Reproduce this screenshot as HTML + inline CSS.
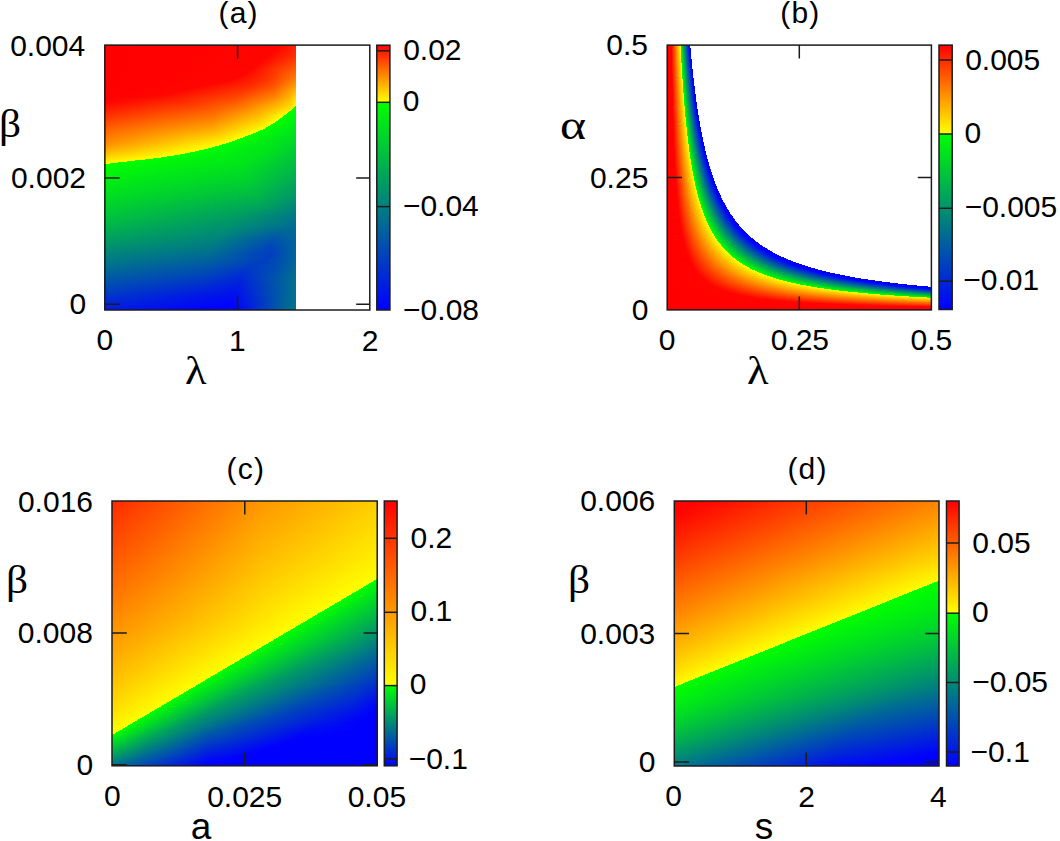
<!DOCTYPE html><html><head><meta charset="utf-8"><style>
*{margin:0;padding:0}
html,body{width:1060px;height:841px;background:#fff;overflow:hidden}
.hm{position:absolute;display:flex;flex-direction:column}
.hm i{display:block;width:100%;flex:none}
.cb{position:absolute}
.ov{position:absolute;left:0;top:0}
.t{position:absolute;line-height:1;white-space:nowrap;color:#000}
</style></head><body>
<div class="hm" style="left:104px;top:45px;width:266px;height:265px">
<i style="height:1px;background:linear-gradient(90deg,#f00 0.5px,#ff0300 175.5px,#ff2300 191.5px,#fff 192.5px,#fff 265.5px)"></i>
<i style="height:1px;background:linear-gradient(90deg,#f00 0.5px,#ff0300 174.5px,#ff2400 191.5px,#fff 192.5px,#fff 265.5px)"></i>
<i style="height:1px;background:linear-gradient(90deg,#f00 0.5px,#ff0400 173.5px,#ff2400 191.5px,#fff 192.5px,#fff 265.5px)"></i>
<i style="height:1px;background:linear-gradient(90deg,#f00 0.5px,#ff0400 172.5px,#ff2500 191.5px,#fff 192.5px,#fff 265.5px)"></i>
<i style="height:1px;background:linear-gradient(90deg,#f00 0.5px,#ff0400 171.5px,#ff2500 191.5px,#fff 192.5px,#fff 265.5px)"></i>
<i style="height:1px;background:linear-gradient(90deg,#f00 0.5px,#ff0500 170.5px,#ff2600 191.5px,#fff 192.5px,#fff 265.5px)"></i>
<i style="height:1px;background:linear-gradient(90deg,#f00 0.5px,#ff0500 169.5px,#ff2700 191.5px,#fff 192.5px,#fff 265.5px)"></i>
<i style="height:1px;background:linear-gradient(90deg,#f00 0.5px,#ff0400 167.5px,#ff2900 191.5px,#fff 192.5px,#fff 265.5px)"></i>
<i style="height:1px;background:linear-gradient(90deg,#f00 0.5px,#ff0400 166.5px,#ff2b00 191.5px,#fff 192.5px,#fff 265.5px)"></i>
<i style="height:1px;background:linear-gradient(90deg,#f00 0.5px,#ff0500 165.5px,#ff2d00 191.5px,#fff 192.5px,#fff 265.5px)"></i>
<i style="height:1px;background:linear-gradient(90deg,#f00 0.5px,#ff0400 163.5px,#ff2f00 191.5px,#fff 192.5px,#fff 265.5px)"></i>
<i style="height:1px;background:linear-gradient(90deg,#f00 0.5px,#ff0400 162.5px,#ff3200 191.5px,#fff 192.5px,#fff 265.5px)"></i>
<i style="height:1px;background:linear-gradient(90deg,#f00 0.5px,#ff0500 161.5px,#ff3500 191.5px,#fff 192.5px,#fff 265.5px)"></i>
<i style="height:1px;background:linear-gradient(90deg,#f00 0.5px,#ff0500 160.5px,#ff3800 191.5px,#fff 192.5px,#fff 265.5px)"></i>
<i style="height:1px;background:linear-gradient(90deg,#f00 0.5px,#ff0400 158.5px,#ff3b00 191.5px,#fff 192.5px,#fff 265.5px)"></i>
<i style="height:1px;background:linear-gradient(90deg,#f00 0.5px,#ff0400 157.5px,#ff3e00 191.5px,#fff 192.5px,#fff 265.5px)"></i>
<i style="height:1px;background:linear-gradient(90deg,#f00 0.5px,#ff0400 156.5px,#ff3b00 187.5px,#ff4100 191.5px,#fff 192.5px,#fff 265.5px)"></i>
<i style="height:1px;background:linear-gradient(90deg,#f00 0.5px,#ff0500 155.5px,#ff3c00 186.5px,#ff4500 191.5px,#fff 192.5px,#fff 265.5px)"></i>
<i style="height:1px;background:linear-gradient(90deg,#f00 0.5px,#ff0500 154.5px,#ff3e00 185.5px,#ff4800 191.5px,#fff 192.5px,#fff 265.5px)"></i>
<i style="height:1px;background:linear-gradient(90deg,#f00 0.5px,#ff0500 153.5px,#ff4000 184.5px,#ff4b00 191.5px,#fff 192.5px,#fff 265.5px)"></i>
<i style="height:1px;background:linear-gradient(90deg,#f00 0.5px,#ff0400 151.5px,#ff4300 184.5px,#ff4f00 191.5px,#fff 192.5px,#fff 265.5px)"></i>
<i style="height:1px;background:linear-gradient(90deg,#f00 0.5px,#ff0400 150.5px,#ff4700 184.5px,#ff5200 191.5px,#fff 192.5px,#fff 265.5px)"></i>
<i style="height:1px;background:linear-gradient(90deg,#f00 0.5px,#ff0400 149.5px,#ff3b00 174.5px,#ff5600 191.5px,#fff 192.5px,#fff 265.5px)"></i>
<i style="height:1px;background:linear-gradient(90deg,#f00 0.5px,#ff0500 148.5px,#ff3500 171.5px,#ff5900 191.5px,#fff 192.5px,#fff 265.5px)"></i>
<i style="height:1px;background:linear-gradient(90deg,#f00 0.5px,#ff0500 147.5px,#ff3500 170.5px,#ff5d00 191.5px,#fff 192.5px,#fff 265.5px)"></i>
<i style="height:1px;background:linear-gradient(90deg,#f00 0.5px,#ff0400 145.5px,#ff3100 168.5px,#ff5100 183.5px,#ff6000 191.5px,#fff 192.5px,#fff 265.5px)"></i>
<i style="height:1px;background:linear-gradient(90deg,#f00 0.5px,#ff0400 144.5px,#ff3200 168.5px,#ff5600 184.5px,#ff6400 191.5px,#fff 192.5px,#fff 265.5px)"></i>
<i style="height:1px;background:linear-gradient(90deg,#f00 0.5px,#ff0500 143.5px,#ff3100 167.5px,#ff5a00 185.5px,#ff6700 191.5px,#fff 192.5px,#fff 265.5px)"></i>
<i style="height:1px;background:linear-gradient(90deg,#f00 0.5px,#ff0400 141.5px,#f30 167.5px,#ff6b00 191.5px,#fff 192.5px,#fff 265.5px)"></i>
<i style="height:1px;background:linear-gradient(90deg,#f00 0.5px,#ff0500 140.5px,#ff3400 167.5px,#ff6e00 191.5px,#fff 192.5px,#fff 265.5px)"></i>
<i style="height:1px;background:linear-gradient(90deg,#f00 0.5px,#ff0500 138.5px,#f30 166.5px,#ff7200 191.5px,#fff 192.5px,#fff 265.5px)"></i>
<i style="height:1px;background:linear-gradient(90deg,#f00 0.5px,#ff0500 136.5px,#ff3400 166.5px,#ff7500 191.5px,#fff 192.5px,#fff 265.5px)"></i>
<i style="height:1px;background:linear-gradient(90deg,#f00 0.5px,#ff0500 134.5px,#ff3600 166.5px,#ff7900 191.5px,#fff 192.5px,#fff 265.5px)"></i>
<i style="height:1px;background:linear-gradient(90deg,#f00 0.5px,#ff0500 131.5px,#ff3700 166.5px,#ff7d00 191.5px,#fff 192.5px,#fff 265.5px)"></i>
<i style="height:1px;background:linear-gradient(90deg,#f00 0.5px,#ff0500 128.5px,#ff3700 165.5px,#ff8000 191.5px,#fff 192.5px,#fff 265.5px)"></i>
<i style="height:1px;background:linear-gradient(90deg,#f00 0.5px,#ff0500 124.5px,#ff3100 161.5px,#ff8400 191.5px,#fff 192.5px,#fff 265.5px)"></i>
<i style="height:1px;background:linear-gradient(90deg,#f00 0.5px,#ff0500 120.5px,#ff2900 154.5px,#ff4900 170.5px,#f80 191.5px,#fff 192.5px,#fff 265.5px)"></i>
<i style="height:1px;background:linear-gradient(90deg,#f00 0.5px,#ff0500 115.5px,#ff2500 149.5px,#ff4900 169.5px,#ff8d00 191.5px,#fff 192.5px,#fff 265.5px)"></i>
<i style="height:1px;background:linear-gradient(90deg,#f00 0.5px,#ff0500 111.5px,#ff2500 147.5px,#ff4b00 169.5px,#ff9100 191.5px,#fff 192.5px,#fff 265.5px)"></i>
<i style="height:1px;background:linear-gradient(90deg,#f00 0.5px,#ff0500 106.5px,#ff2700 146.5px,#ff4e00 169.5px,#ff9600 191.5px,#fff 192.5px,#fff 265.5px)"></i>
<i style="height:1px;background:linear-gradient(90deg,#f00 0.5px,#ff0500 101.5px,#ff2800 144.5px,#ff5100 169.5px,#ff9b00 191.5px,#fff 192.5px,#fff 265.5px)"></i>
<i style="height:1px;background:linear-gradient(90deg,#f00 0.5px,#ff0500 96.5px,#ff2a00 143.5px,#f50 169.5px,#ffa000 191.5px,#fff 192.5px,#fff 265.5px)"></i>
<i style="height:1px;background:linear-gradient(90deg,#f00 0.5px,#ff0500 91.5px,#ff2e00 143.5px,#ff5900 169.5px,#ffa500 191.5px,#fff 192.5px,#fff 265.5px)"></i>
<i style="height:1px;background:linear-gradient(90deg,#f00 0.5px,#ff0500 86.5px,#ff3000 142.5px,#ff5c00 169.5px,#ffa500 190.5px,#fa0 191.5px,#fff 192.5px,#fff 265.5px)"></i>
<i style="height:1px;background:linear-gradient(90deg,#f00 0.5px,#ff0600 82.5px,#ff3200 141.5px,#ff6000 169.5px,#ffa600 189.5px,#ffaf00 191.5px,#fff 192.5px,#fff 265.5px)"></i>
<i style="height:1px;background:linear-gradient(90deg,#f00 0.5px,#ff0500 77.5px,#ff3500 140.5px,#ff6400 169.5px,#ffa600 188.5px,#ffb400 191.5px,#fff 192.5px,#fff 265.5px)"></i>
<i style="height:1px;background:linear-gradient(90deg,#f00 0.5px,#ff0600 73.5px,#ff3800 139.5px,#ff6900 169.5px,#ffa600 187.5px,#ffba00 191.5px,#fff 192.5px,#fff 265.5px)"></i>
<i style="height:1px;background:linear-gradient(90deg,#f00 0.5px,#ff0500 68.5px,#ff3b00 138.5px,#ff6d00 169.5px,#ffa600 186.5px,#ffbf00 191.5px,#fff 192.5px,#fff 265.5px)"></i>
<i style="height:1px;background:linear-gradient(90deg,#f00 0.5px,#ff0600 64.5px,#ff3c00 136.5px,#ff7100 169.5px,#fa0 186.5px,#ffc400 191.5px,#fff 192.5px,#fff 265.5px)"></i>
<i style="height:1px;background:linear-gradient(90deg,#f00 0.5px,#ff0500 59.5px,#ff3f00 135.5px,#ff7600 169.5px,#ffae00 186.5px,#ffc900 191.5px,#fff 192.5px,#fff 265.5px)"></i>
<i style="height:1px;background:linear-gradient(90deg,#f00 0.5px,#ff0600 55.5px,#ff4200 134.5px,#ff7b00 169.5px,#ffae00 185.5px,#ffce00 191.5px,#fff 192.5px,#fff 265.5px)"></i>
<i style="height:1px;background:linear-gradient(90deg,#f00 0.5px,#ff0700 51.5px,#ff4300 132.5px,#ff7f00 169.5px,#ffb200 185.5px,#ffd300 191.5px,#fff 192.5px,#fff 265.5px)"></i>
<i style="height:1px;background:linear-gradient(90deg,#f00 0.5px,#ff0900 49.5px,#ff4600 131.5px,#ff8400 169.5px,#ffb500 185.5px,#ffd800 191.5px,#fff 192.5px,#fff 265.5px)"></i>
<i style="height:1px;background:linear-gradient(90deg,#f00 0.5px,#ff0e00 52.5px,#ff4900 130.5px,#ff8900 169.5px,#ffb900 185.5px,#fd0 191.5px,#fff 192.5px,#fff 265.5px)"></i>
<i style="height:1px;background:linear-gradient(90deg,#f00 0.5px,#ff1a00 65.5px,#ff4e00 131.5px,#ff8e00 169.5px,#ffbc00 185.5px,#ffe200 191.5px,#fff 192.5px,#fff 265.5px)"></i>
<i style="height:1px;background:linear-gradient(90deg,#f00 0.5px,#ff2300 74.5px,#ff5200 131.5px,#ff9300 169.5px,#ffc000 185.5px,#ffe700 191.5px,#fff 192.5px,#fff 265.5px)"></i>
<i style="height:1px;background:linear-gradient(90deg,#ff0100 0.5px,#ff2c00 83.5px,#ff5800 132.5px,#ff9a00 170.5px,#ffc800 186.5px,#ffeb00 191.5px,#fff 192.5px,#fff 265.5px)"></i>
<i style="height:1px;background:linear-gradient(90deg,#ff0400 0.5px,#ff3100 85.5px,#ff5c00 132.5px,#ffa000 170.5px,#ffcb00 186.5px,#ffef00 191.5px,#fff 192.5px,#fff 265.5px)"></i>
<i style="height:1px;background:linear-gradient(90deg,#ff0700 0.5px,#ff3700 88.5px,#ff6000 132.5px,#ffa500 170.5px,#ffd200 187.5px,#fff200 191.5px,#fff 192.5px,#fff 265.5px)"></i>
<i style="height:1px;background:linear-gradient(90deg,#ff0a00 0.5px,#ff3c00 90.5px,#ff6500 132.5px,#fa0 170.5px,#ffd500 187.5px,#fff600 191.5px,#fff 192.5px,#fff 265.5px)"></i>
<i style="height:1px;background:linear-gradient(90deg,#ff0e00 0.5px,#ff4100 93.5px,#ff6a00 133.5px,#ffaf00 170.5px,#fd0 188.5px,#fff700 191.5px,#fff 192.5px,#fff 265.5px)"></i>
<i style="height:1px;background:linear-gradient(90deg,#f10 0.5px,#ff4800 97.5px,#ff7200 135.5px,#ffb400 170.5px,#ffe000 188.5px,#ffed00 190.5px,#00fe01 191.5px,#fff 192.5px,#fff 265.5px)"></i>
<i style="height:1px;background:linear-gradient(90deg,#ff1400 0.5px,#ff4d00 100.5px,#ff7a00 137.5px,#ffb900 170.5px,#ffe400 188.5px,#ffea00 189.5px,#00fe01 190.5px,#00fe01 191.5px,#fff 192.5px,#fff 265.5px)"></i>
<i style="height:1px;background:linear-gradient(90deg,#ff1700 0.5px,#ff5300 103.5px,#ff8100 139.5px,#ffbe00 170.5px,#ffea00 188.5px,#00fe01 189.5px,#00fd02 191.5px,#fff 192.5px,#fff 265.5px)"></i>
<i style="height:1px;background:linear-gradient(90deg,#ff1b00 0.5px,#ff5900 105.5px,#ff8b00 142.5px,#ffc300 170.5px,#ffec00 187.5px,#00fe01 188.5px,#00fc03 191.5px,#fff 192.5px,#fff 265.5px)"></i>
<i style="height:1px;background:linear-gradient(90deg,#ff1e00 0.5px,#ff5e00 107.5px,#ff9400 145.5px,#ffcb00 171.5px,#ffef00 186.5px,#00fe01 187.5px,#00fb04 191.5px,#fff 192.5px,#fff 265.5px)"></i>
<i style="height:1px;background:linear-gradient(90deg,#f20 0.5px,#ff6300 108.5px,#ff9f00 149.5px,#ffd900 174.5px,#fff000 184.5px,#0f0 185.5px,#00fa05 191.5px,#fff 192.5px,#fff 265.5px)"></i>
<i style="height:1px;background:linear-gradient(90deg,#ff2500 0.5px,#ff6800 109.5px,#ffab00 153.5px,#fff400 183.5px,#0f0 184.5px,#00f906 191.5px,#fff 192.5px,#fff 265.5px)"></i>
<i style="height:1px;background:linear-gradient(90deg,#ff2900 0.5px,#ff6d00 110.5px,#ffb300 155.5px,#fff900 182.5px,#00fe01 183.5px,#00f807 191.5px,#fff 192.5px,#fff 265.5px)"></i>
<i style="height:1px;background:linear-gradient(90deg,#ff2c00 0.5px,#ff7000 110.5px,#ffb900 156.5px,#fffd00 181.5px,#00fe01 182.5px,#00f708 191.5px,#fff 192.5px,#fff 265.5px)"></i>
<i style="height:1px;background:linear-gradient(90deg,#ff3000 0.5px,#ff7300 109.5px,#ffb900 154.5px,#fffa00 178.5px,#fffd00 179.5px,#0f0 180.5px,#00f609 191.5px,#fff 192.5px,#fff 265.5px)"></i>
<i style="height:1px;background:linear-gradient(90deg,#f30 0.5px,#f70 109.5px,#ffc000 155.5px,#ff0 178.5px,#0f0 179.5px,#00f50a 191.5px,#fff 192.5px,#fff 265.5px)"></i>
<i style="height:1px;background:linear-gradient(90deg,#ff3700 0.5px,#ff7b00 109.5px,#ffc400 155.5px,#ff0 177.5px,#00fe01 178.5px,#00f40b 191.5px,#fff 192.5px,#fff 265.5px)"></i>
<i style="height:1px;background:linear-gradient(90deg,#ff3b00 0.5px,#ff7f00 109.5px,#ffc800 155.5px,#ff0 175.5px,#0f0 176.5px,#00f30c 191.5px,#fff 192.5px,#fff 265.5px)"></i>
<i style="height:1px;background:linear-gradient(90deg,#ff3e00 0.5px,#ff8300 109.5px,#fc0 155.5px,#ff0 174.5px,#0f0 175.5px,#00f20d 191.5px,#fff 192.5px,#fff 265.5px)"></i>
<i style="height:1px;background:linear-gradient(90deg,#ff4200 0.5px,#ff8600 108.5px,#ffcf00 154.5px,#ff0 173.5px,#00fe01 174.5px,#00f10e 191.5px,#fff 192.5px,#fff 265.5px)"></i>
<i style="height:1px;background:linear-gradient(90deg,#ff4600 0.5px,#ff8a00 108.5px,#ffd300 154.5px,#ff0 171.5px,#0f0 172.5px,#00f00f 191.5px,#fff 192.5px,#fff 265.5px)"></i>
<i style="height:1px;background:linear-gradient(90deg,#ff4900 0.5px,#ff8e00 108.5px,#ffda00 155.5px,#ff0 170.5px,#00fe01 171.5px,#00ef10 191.5px,#fff 192.5px,#fff 265.5px)"></i>
<i style="height:1px;background:linear-gradient(90deg,#ff4d00 0.5px,#ff9200 108.5px,#ffde00 155.5px,#fffe00 168.5px,#0f0 169.5px,#00ed12 191.5px,#fff 192.5px,#fff 265.5px)"></i>
<i style="height:1px;background:linear-gradient(90deg,#ff5000 0.5px,#ff9600 108.5px,#ffe200 155.5px,#fffc00 166.5px,#0f0 167.5px,#00ec13 191.5px,#fff 192.5px,#fff 265.5px)"></i>
<i style="height:1px;background:linear-gradient(90deg,#ff5400 0.5px,#ff9b00 108.5px,#ffe500 154.5px,#fffe00 165.5px,#0f0 166.5px,#00eb14 191.5px,#fff 192.5px,#fff 265.5px)"></i>
<i style="height:1px;background:linear-gradient(90deg,#ff5700 0.5px,#ff9f00 108.5px,#ffe900 154.5px,#fffd00 163.5px,#0f0 164.5px,#00ea15 191.5px,#fff 192.5px,#fff 265.5px)"></i>
<i style="height:1px;background:linear-gradient(90deg,#ff5b00 0.5px,#ffa300 108.5px,#fe0 154.5px,#fffd00 161.5px,#0f0 162.5px,#00e916 191.5px,#fff 192.5px,#fff 265.5px)"></i>
<i style="height:1px;background:linear-gradient(90deg,#ff5e00 0.5px,#ffa700 108.5px,#fff200 154.5px,#ff0 160.5px,#00fe01 161.5px,#00e817 191.5px,#fff 192.5px,#fff 265.5px)"></i>
<i style="height:1px;background:linear-gradient(90deg,#ff6200 0.5px,#ffac00 108.5px,#fff700 154.5px,#ff0 158.5px,#00fe01 159.5px,#00e619 191.5px,#fff 192.5px,#fff 265.5px)"></i>
<i style="height:1px;background:linear-gradient(90deg,#ff6500 0.5px,#ffb000 108.5px,#fffa00 153.5px,#fffe00 155.5px,#0f0 156.5px,#00e51a 191.5px,#fff 192.5px,#fff 265.5px)"></i>
<i style="height:1px;background:linear-gradient(90deg,#ff6800 0.5px,#ffb600 109.5px,#fffe00 153.5px,#0f0 154.5px,#00e41b 191.5px,#fff 192.5px,#fff 265.5px)"></i>
<i style="height:1px;background:linear-gradient(90deg,#ff6b00 0.5px,#ffba00 109.5px,#ff0 151.5px,#00fe01 152.5px,#00e31c 191.5px,#fff 192.5px,#fff 265.5px)"></i>
<i style="height:1px;background:linear-gradient(90deg,#ff6d00 0.5px,#ffc000 110.5px,#fffe00 148.5px,#0f0 149.5px,#00e21d 191.5px,#fff 192.5px,#fff 265.5px)"></i>
<i style="height:1px;background:linear-gradient(90deg,#ff7000 0.5px,#ffc600 111.5px,#ff0 146.5px,#0f0 147.5px,#00e01f 191.5px,#fff 192.5px,#fff 265.5px)"></i>
<i style="height:1px;background:linear-gradient(90deg,#ff7300 0.5px,#ffcb00 111.5px,#fffe00 143.5px,#0f0 144.5px,#00df20 191.5px,#fff 192.5px,#fff 265.5px)"></i>
<i style="height:1px;background:linear-gradient(90deg,#ff7600 0.5px,#ffd100 112.5px,#fffd00 140.5px,#0f0 141.5px,#00de21 191.5px,#fff 192.5px,#fff 265.5px)"></i>
<i style="height:1px;background:linear-gradient(90deg,#ff7900 0.5px,#ffd500 112.5px,#fffe00 138.5px,#0f0 139.5px,#00dc23 191.5px,#fff 192.5px,#fff 265.5px)"></i>
<i style="height:1px;background:linear-gradient(90deg,#ff7c00 0.5px,#ffdb00 113.5px,#fffd00 135.5px,#0f0 136.5px,#00db24 191.5px,#fff 192.5px,#fff 265.5px)"></i>
<i style="height:1px;background:linear-gradient(90deg,#ff7f00 0.5px,#ffe000 113.5px,#fffd00 132.5px,#0f0 133.5px,#00da25 191.5px,#fff 192.5px,#fff 265.5px)"></i>
<i style="height:1px;background:linear-gradient(90deg,#ff8200 0.5px,#ffe600 114.5px,#fffe00 130.5px,#0f0 131.5px,#00da25 189.5px,#00d827 191.5px,#fff 192.5px,#fff 265.5px)"></i>
<i style="height:1px;background:linear-gradient(90deg,#ff8500 0.5px,#ffeb00 114.5px,#fffe00 127.5px,#0f0 128.5px,#0d2 184.5px,#00d728 191.5px,#fff 192.5px,#fff 265.5px)"></i>
<i style="height:1px;background:linear-gradient(90deg,#ff8900 0.5px,#ffdb00 96.5px,#ff0 124.5px,#0f0 125.5px,#00de21 181.5px,#00d629 191.5px,#fff 192.5px,#fff 265.5px)"></i>
<i style="height:1px;background:linear-gradient(90deg,#ff8c00 0.5px,#ffb400 45.5px,#fff600 115.5px,#ff0 121.5px,#0f0 122.5px,#00df20 179.5px,#00d52a 191.5px,#fff 192.5px,#fff 265.5px)"></i>
<i style="height:1px;background:linear-gradient(90deg,#ff9000 0.5px,#ffb700 42.5px,#fffb00 115.5px,#fffe00 117.5px,#0f0 118.5px,#00e01f 176.5px,#00d32c 191.5px,#fff 192.5px,#fff 265.5px)"></i>
<i style="height:1px;background:linear-gradient(90deg,#ff9400 0.5px,#fb0 41.5px,#fffe00 114.5px,#0f0 115.5px,#00e11e 174.5px,#00d22d 191.5px,#fff 192.5px,#fff 265.5px)"></i>
<i style="height:1px;background:linear-gradient(90deg,#ff9800 0.5px,#ffbf00 41.5px,#fffd00 110.5px,#0f0 111.5px,#00e11e 172.5px,#00d12e 191.5px,#fff 192.5px,#fff 265.5px)"></i>
<i style="height:1px;background:linear-gradient(90deg,#ff9d00 0.5px,#ffc400 41.5px,#fffe00 107.5px,#0f0 108.5px,#00e11e 171.5px,#00cf30 191.5px,#fff 192.5px,#fff 265.5px)"></i>
<i style="height:1px;background:linear-gradient(90deg,#ffa200 0.5px,#ffc800 41.5px,#fffe00 103.5px,#0f0 104.5px,#00e21d 169.5px,#00ce31 191.5px,#fff 192.5px,#fff 265.5px)"></i>
<i style="height:1px;background:linear-gradient(90deg,#ffa800 0.5px,#ffce00 42.5px,#fffe00 99.5px,#0f0 100.5px,#00e21d 167.5px,#00cd32 191.5px,#fff 192.5px,#fff 265.5px)"></i>
<i style="height:1px;background:linear-gradient(90deg,#ffad00 0.5px,#ffd300 43.5px,#ff0 94.5px,#0f0 95.5px,#00e31c 165.5px,#0c3 191.5px,#fff 192.5px,#fff 265.5px)"></i>
<i style="height:1px;background:linear-gradient(90deg,#ffb300 0.5px,#ffd900 45.5px,#ff0 90.5px,#0f0 91.5px,#00e31c 163.5px,#00cb34 191.5px,#fff 192.5px,#fff 265.5px)"></i>
<i style="height:1px;background:linear-gradient(90deg,#ffb900 0.5px,#ffe100 49.5px,#ff0 85.5px,#0f0 86.5px,#00e31c 162.5px,#00ca35 191.5px,#fff 192.5px,#fff 265.5px)"></i>
<i style="height:1px;background:linear-gradient(90deg,#ffbf00 0.5px,#ff0 80.5px,#0f0 81.5px,#00e31c 160.5px,#00c837 191.5px,#fff 192.5px,#fff 265.5px)"></i>
<i style="height:1px;background:linear-gradient(90deg,#ffc400 0.5px,#ff0 75.5px,#0f0 76.5px,#00e31c 159.5px,#00c738 191.5px,#fff 192.5px,#fff 265.5px)"></i>
<i style="height:1px;background:linear-gradient(90deg,#ffca00 0.5px,#ff0 69.5px,#0f0 70.5px,#00e31c 157.5px,#00c639 191.5px,#fff 192.5px,#fff 265.5px)"></i>
<i style="height:1px;background:linear-gradient(90deg,#ffd000 0.5px,#fffd00 62.5px,#0f0 63.5px,#00e31c 155.5px,#00c53a 191.5px,#fff 192.5px,#fff 265.5px)"></i>
<i style="height:1px;background:linear-gradient(90deg,#ffd700 0.5px,#fffe00 56.5px,#0f0 57.5px,#00e41b 153.5px,#00c43b 191.5px,#fff 192.5px,#fff 265.5px)"></i>
<i style="height:1px;background:linear-gradient(90deg,#fd0 0.5px,#fffe00 48.5px,#0f0 49.5px,#00e41b 151.5px,#00c33c 191.5px,#fff 192.5px,#fff 265.5px)"></i>
<i style="height:1px;background:linear-gradient(90deg,#ffe300 0.5px,#ff0 40.5px,#0f0 41.5px,#00e41b 149.5px,#00c23d 191.5px,#fff 192.5px,#fff 265.5px)"></i>
<i style="height:1px;background:linear-gradient(90deg,#ffe900 0.5px,#ff0 30.5px,#0f0 31.5px,#00e51a 146.5px,#00c13e 191.5px,#fff 192.5px,#fff 265.5px)"></i>
<i style="height:1px;background:linear-gradient(90deg,#ffef00 0.5px,#ff0 22.5px,#0f0 23.5px,#00e51a 144.5px,#00c03f 191.5px,#fff 192.5px,#fff 265.5px)"></i>
<i style="height:1px;background:linear-gradient(90deg,#fff500 0.5px,#fffd00 13.5px,#0f0 14.5px,#00e51a 141.5px,#00bf40 191.5px,#fff 192.5px,#fff 265.5px)"></i>
<i style="height:1px;background:linear-gradient(90deg,#fffb00 0.5px,#fffe00 5.5px,#0f0 6.5px,#00e51a 140.5px,#00be41 191.5px,#fff 192.5px,#fff 265.5px)"></i>
<i style="height:1px;background:linear-gradient(90deg,#0f0 0.5px,#00e41b 139.5px,#00bd42 191.5px,#fff 192.5px,#fff 265.5px)"></i>
<i style="height:1px;background:linear-gradient(90deg,#00fe01 0.5px,#00e31c 139.5px,#00bc43 191.5px,#fff 192.5px,#fff 265.5px)"></i>
<i style="height:1px;background:linear-gradient(90deg,#00fd02 0.5px,#00e21d 139.5px,#00ba45 191.5px,#fff 192.5px,#fff 265.5px)"></i>
<i style="height:1px;background:linear-gradient(90deg,#00fc03 0.5px,#00e01f 140.5px,#00b946 191.5px,#fff 192.5px,#fff 265.5px)"></i>
<i style="height:1px;background:linear-gradient(90deg,#00fb04 0.5px,#00df20 140.5px,#00b847 191.5px,#fff 192.5px,#fff 265.5px)"></i>
<i style="height:1px;background:linear-gradient(90deg,#00fa05 0.5px,#00de21 140.5px,#00b748 191.5px,#fff 192.5px,#fff 265.5px)"></i>
<i style="height:1px;background:linear-gradient(90deg,#00f906 0.5px,#0d2 140.5px,#00b649 191.5px,#fff 192.5px,#fff 265.5px)"></i>
<i style="height:1px;background:linear-gradient(90deg,#00f807 0.5px,#00dc23 140.5px,#00b54a 191.5px,#fff 192.5px,#fff 265.5px)"></i>
<i style="height:1px;background:linear-gradient(90deg,#00f708 0.5px,#00db24 141.5px,#00b44b 191.5px,#fff 192.5px,#fff 265.5px)"></i>
<i style="height:1px;background:linear-gradient(90deg,#00f609 0.5px,#00d926 141.5px,#00b34c 191.5px,#fff 192.5px,#fff 265.5px)"></i>
<i style="height:1px;background:linear-gradient(90deg,#00f50a 0.5px,#00d827 141.5px,#00b24d 191.5px,#fff 192.5px,#fff 265.5px)"></i>
<i style="height:1px;background:linear-gradient(90deg,#00f40b 0.5px,#00d728 141.5px,#00b04f 191.5px,#fff 192.5px,#fff 265.5px)"></i>
<i style="height:1px;background:linear-gradient(90deg,#00f30c 0.5px,#00d629 142.5px,#00af50 191.5px,#fff 192.5px,#fff 265.5px)"></i>
<i style="height:1px;background:linear-gradient(90deg,#00f20d 0.5px,#00d42b 142.5px,#00ae51 191.5px,#fff 192.5px,#fff 265.5px)"></i>
<i style="height:1px;background:linear-gradient(90deg,#00f10e 0.5px,#00d32c 142.5px,#00ad52 191.5px,#fff 192.5px,#fff 265.5px)"></i>
<i style="height:1px;background:linear-gradient(90deg,#00f00f 0.5px,#00d22d 143.5px,#00ac53 191.5px,#fff 192.5px,#fff 265.5px)"></i>
<i style="height:1px;background:linear-gradient(90deg,#00ef10 0.5px,#00d02f 143.5px,#00ab54 191.5px,#fff 192.5px,#fff 265.5px)"></i>
<i style="height:1px;background:linear-gradient(90deg,#0e1 0.5px,#00cf30 143.5px,#00a956 191.5px,#fff 192.5px,#fff 265.5px)"></i>
<i style="height:1px;background:linear-gradient(90deg,#00ed12 0.5px,#00ce31 144.5px,#00a857 191.5px,#fff 192.5px,#fff 265.5px)"></i>
<i style="height:1px;background:linear-gradient(90deg,#00ec13 0.5px,#0c3 144.5px,#00a758 191.5px,#fff 192.5px,#fff 265.5px)"></i>
<i style="height:1px;background:linear-gradient(90deg,#00eb14 0.5px,#00cb34 144.5px,#00a659 191.5px,#fff 192.5px,#fff 265.5px)"></i>
<i style="height:1px;background:linear-gradient(90deg,#00ea15 0.5px,#00c936 145.5px,#00a45b 191.5px,#fff 192.5px,#fff 265.5px)"></i>
<i style="height:1px;background:linear-gradient(90deg,#00e916 0.5px,#00c837 145.5px,#00a35c 191.5px,#fff 192.5px,#fff 265.5px)"></i>
<i style="height:1px;background:linear-gradient(90deg,#00e817 0.5px,#00c639 146.5px,#00a25d 191.5px,#fff 192.5px,#fff 265.5px)"></i>
<i style="height:1px;background:linear-gradient(90deg,#00e718 0.5px,#00c53a 146.5px,#00a05f 191.5px,#fff 192.5px,#fff 265.5px)"></i>
<i style="height:1px;background:linear-gradient(90deg,#00e619 0.5px,#00c33c 147.5px,#009f60 191.5px,#fff 192.5px,#fff 265.5px)"></i>
<i style="height:1px;background:linear-gradient(90deg,#00e51a 0.5px,#00c13e 148.5px,#009e61 191.5px,#fff 192.5px,#fff 265.5px)"></i>
<i style="height:1px;background:linear-gradient(90deg,#00e41b 0.5px,#00c03f 148.5px,#009c63 191.5px,#fff 192.5px,#fff 265.5px)"></i>
<i style="height:1px;background:linear-gradient(90deg,#00e31c 0.5px,#00be41 149.5px,#009b64 191.5px,#fff 192.5px,#fff 265.5px)"></i>
<i style="height:1px;background:linear-gradient(90deg,#00e21d 0.5px,#00bc43 150.5px,#009a65 191.5px,#fff 192.5px,#fff 265.5px)"></i>
<i style="height:1px;background:linear-gradient(90deg,#00e11e 0.5px,#0b4 150.5px,#009867 191.5px,#fff 192.5px,#fff 265.5px)"></i>
<i style="height:1px;background:linear-gradient(90deg,#00df20 0.5px,#00b946 151.5px,#009768 191.5px,#fff 192.5px,#fff 265.5px)"></i>
<i style="height:1px;background:linear-gradient(90deg,#00de21 0.5px,#00b748 152.5px,#009669 191.5px,#fff 192.5px,#fff 265.5px)"></i>
<i style="height:1px;background:linear-gradient(90deg,#0d2 0.5px,#00b54a 152.5px,#00946b 191.5px,#fff 192.5px,#fff 265.5px)"></i>
<i style="height:1px;background:linear-gradient(90deg,#00dc23 0.5px,#00b34c 153.5px,#00936c 191.5px,#fff 192.5px,#fff 265.5px)"></i>
<i style="height:1px;background:linear-gradient(90deg,#00db24 0.5px,#00b14e 154.5px,#00916e 191.5px,#fff 192.5px,#fff 265.5px)"></i>
<i style="height:1px;background:linear-gradient(90deg,#00d926 0.5px,#00af50 154.5px,#00906f 191.5px,#fff 192.5px,#fff 265.5px)"></i>
<i style="height:1px;background:linear-gradient(90deg,#00d827 0.5px,#00ae51 154.5px,#008e71 191.5px,#fff 192.5px,#fff 265.5px)"></i>
<i style="height:1px;background:linear-gradient(90deg,#00d728 0.5px,#00ab54 155.5px,#008d72 191.5px,#fff 192.5px,#fff 265.5px)"></i>
<i style="height:1px;background:linear-gradient(90deg,#00d629 0.5px,#0a5 155.5px,#008b74 191.5px,#fff 192.5px,#fff 265.5px)"></i>
<i style="height:1px;background:linear-gradient(90deg,#00d42b 0.5px,#00a857 155.5px,#008a75 191.5px,#fff 192.5px,#fff 265.5px)"></i>
<i style="height:1px;background:linear-gradient(90deg,#00d32c 0.5px,#00a758 154.5px,#087 191.5px,#fff 192.5px,#fff 265.5px)"></i>
<i style="height:1px;background:linear-gradient(90deg,#00d22d 0.5px,#00a55a 154.5px,#008778 191.5px,#fff 192.5px,#fff 265.5px)"></i>
<i style="height:1px;background:linear-gradient(90deg,#00d12e 0.5px,#00a45b 153.5px,#00857a 191.5px,#fff 192.5px,#fff 265.5px)"></i>
<i style="height:1px;background:linear-gradient(90deg,#00cf30 0.5px,#00a35c 151.5px,#00847b 191.5px,#fff 192.5px,#fff 265.5px)"></i>
<i style="height:1px;background:linear-gradient(90deg,#00ce31 0.5px,#00a25d 149.5px,#00827d 191.5px,#fff 192.5px,#fff 265.5px)"></i>
<i style="height:1px;background:linear-gradient(90deg,#00cd32 0.5px,#00a15e 146.5px,#00807f 191.5px,#fff 192.5px,#fff 265.5px)"></i>
<i style="height:1px;background:linear-gradient(90deg,#00cb34 0.5px,#00a05f 143.5px,#007f80 191.5px,#fff 192.5px,#fff 265.5px)"></i>
<i style="height:1px;background:linear-gradient(90deg,#00ca35 0.5px,#00a05f 140.5px,#00837c 183.5px,#007d82 191.5px,#fff 192.5px,#fff 265.5px)"></i>
<i style="height:1px;background:linear-gradient(90deg,#00c936 0.5px,#009f60 138.5px,#00827d 182.5px,#007c83 191.5px,#fff 192.5px,#fff 265.5px)"></i>
<i style="height:1px;background:linear-gradient(90deg,#00c738 0.5px,#009e61 135.5px,#00817e 181.5px,#007a85 191.5px,#fff 192.5px,#fff 265.5px)"></i>
<i style="height:1px;background:linear-gradient(90deg,#00c639 0.5px,#009d62 134.5px,#007e81 182.5px,#007986 191.5px,#fff 192.5px,#fff 265.5px)"></i>
<i style="height:1px;background:linear-gradient(90deg,#00c43b 0.5px,#009c63 132.5px,#007a85 185.5px,#078 191.5px,#fff 192.5px,#fff 265.5px)"></i>
<i style="height:1px;background:linear-gradient(90deg,#00c33c 0.5px,#009b64 131.5px,#007689 191.5px,#fff 192.5px,#fff 265.5px)"></i>
<i style="height:1px;background:linear-gradient(90deg,#00c23d 0.5px,#009a65 130.5px,#00758a 191.5px,#fff 192.5px,#fff 265.5px)"></i>
<i style="height:1px;background:linear-gradient(90deg,#00c03f 0.5px,#096 129.5px,#00738c 191.5px,#fff 192.5px,#fff 265.5px)"></i>
<i style="height:1px;background:linear-gradient(90deg,#00bf40 0.5px,#009867 128.5px,#00728d 191.5px,#fff 192.5px,#fff 265.5px)"></i>
<i style="height:1px;background:linear-gradient(90deg,#00bd42 0.5px,#009768 127.5px,#00718e 191.5px,#fff 192.5px,#fff 265.5px)"></i>
<i style="height:1px;background:linear-gradient(90deg,#0b4 0.5px,#009669 126.5px,#00708f 191.5px,#fff 192.5px,#fff 265.5px)"></i>
<i style="height:1px;background:linear-gradient(90deg,#00ba45 0.5px,#00946b 125.5px,#006f90 191.5px,#fff 192.5px,#fff 265.5px)"></i>
<i style="height:1px;background:linear-gradient(90deg,#00b847 0.5px,#00936c 124.5px,#006e91 191.5px,#fff 192.5px,#fff 265.5px)"></i>
<i style="height:1px;background:linear-gradient(90deg,#00b748 0.5px,#00936c 123.5px,#006d92 191.5px,#fff 192.5px,#fff 265.5px)"></i>
<i style="height:1px;background:linear-gradient(90deg,#00b54a 0.5px,#00916e 123.5px,#006c93 189.5px,#006d92 191.5px,#fff 192.5px,#fff 265.5px)"></i>
<i style="height:1px;background:linear-gradient(90deg,#00b34c 0.5px,#00906f 122.5px,#006b94 185.5px,#006c93 191.5px,#fff 192.5px,#fff 265.5px)"></i>
<i style="height:1px;background:linear-gradient(90deg,#00b24d 0.5px,#008f70 121.5px,#006a95 182.5px,#006b94 191.5px,#fff 192.5px,#fff 265.5px)"></i>
<i style="height:1px;background:linear-gradient(90deg,#00b04f 0.5px,#008e71 120.5px,#006996 179.5px,#006a95 191.5px,#fff 192.5px,#fff 265.5px)"></i>
<i style="height:1px;background:linear-gradient(90deg,#00ae51 0.5px,#008c73 120.5px,#006798 176.5px,#006a95 191.5px,#fff 192.5px,#fff 265.5px)"></i>
<i style="height:1px;background:linear-gradient(90deg,#00ad52 0.5px,#008c73 119.5px,#00659a 174.5px,#006996 191.5px,#fff 192.5px,#fff 265.5px)"></i>
<i style="height:1px;background:linear-gradient(90deg,#00ab54 0.5px,#008b74 118.5px,#00639c 173.5px,#006897 191.5px,#fff 192.5px,#fff 265.5px)"></i>
<i style="height:1px;background:linear-gradient(90deg,#00a956 0.5px,#008a75 117.5px,#00619e 172.5px,#006897 191.5px,#fff 192.5px,#fff 265.5px)"></i>
<i style="height:1px;background:linear-gradient(90deg,#00a857 0.5px,#008976 116.5px,#005fa0 171.5px,#006798 191.5px,#fff 192.5px,#fff 265.5px)"></i>
<i style="height:1px;background:linear-gradient(90deg,#00a659 0.5px,#008778 116.5px,#005da2 170.5px,#006798 191.5px,#fff 192.5px,#fff 265.5px)"></i>
<i style="height:1px;background:linear-gradient(90deg,#00a45b 0.5px,#008679 115.5px,#005aa5 170.5px,#069 191.5px,#fff 192.5px,#fff 265.5px)"></i>
<i style="height:1px;background:linear-gradient(90deg,#00a25d 0.5px,#00857a 114.5px,#0058a7 169.5px,#069 191.5px,#fff 192.5px,#fff 265.5px)"></i>
<i style="height:1px;background:linear-gradient(90deg,#00a15e 0.5px,#00847b 113.5px,#00609f 152.5px,#0057a8 173.5px,#069 191.5px,#fff 192.5px,#fff 265.5px)"></i>
<i style="height:1px;background:linear-gradient(90deg,#009f60 0.5px,#00837c 112.5px,#00629d 149.5px,#0054ab 170.5px,#069 191.5px,#fff 192.5px,#fff 265.5px)"></i>
<i style="height:1px;background:linear-gradient(90deg,#009d62 0.5px,#00817e 112.5px,#00619e 148.5px,#0051ae 169.5px,#00659a 191.5px,#fff 192.5px,#fff 265.5px)"></i>
<i style="height:1px;background:linear-gradient(90deg,#009b64 0.5px,#00807f 111.5px,#00619e 147.5px,#004fb0 168.5px,#00659a 191.5px,#fff 192.5px,#fff 265.5px)"></i>
<i style="height:1px;background:linear-gradient(90deg,#009a65 0.5px,#007f80 110.5px,#00609f 146.5px,#004db2 168.5px,#00659a 191.5px,#fff 192.5px,#fff 265.5px)"></i>
<i style="height:1px;background:linear-gradient(90deg,#009867 0.5px,#007d82 110.5px,#00609f 145.5px,#004bb4 167.5px,#00659a 191.5px,#fff 192.5px,#fff 265.5px)"></i>
<i style="height:1px;background:linear-gradient(90deg,#009669 0.5px,#007c83 109.5px,#005ea1 145.5px,#0049b6 167.5px,#00659a 191.5px,#fff 192.5px,#fff 265.5px)"></i>
<i style="height:1px;background:linear-gradient(90deg,#00946b 0.5px,#007b84 108.5px,#005ea1 144.5px,#0047b8 167.5px,#00659a 191.5px,#fff 192.5px,#fff 265.5px)"></i>
<i style="height:1px;background:linear-gradient(90deg,#00926d 0.5px,#007986 108.5px,#005ca3 144.5px,#0045ba 166.5px,#00659a 191.5px,#fff 192.5px,#fff 265.5px)"></i>
<i style="height:1px;background:linear-gradient(90deg,#00916e 0.5px,#007887 107.5px,#005aa5 144.5px,#0043bc 166.5px,#00659a 191.5px,#fff 192.5px,#fff 265.5px)"></i>
<i style="height:1px;background:linear-gradient(90deg,#008f70 0.5px,#007689 107.5px,#0058a7 144.5px,#0042bd 166.5px,#00659a 191.5px,#fff 192.5px,#fff 265.5px)"></i>
<i style="height:1px;background:linear-gradient(90deg,#008d72 0.5px,#00758a 106.5px,#0057a8 144.5px,#0040bf 166.5px,#00659a 191.5px,#fff 192.5px,#fff 265.5px)"></i>
<i style="height:1px;background:linear-gradient(90deg,#008b74 0.5px,#00738c 106.5px,#0053ac 145.5px,#0040bf 167.5px,#00659a 191.5px,#fff 192.5px,#fff 265.5px)"></i>
<i style="height:1px;background:linear-gradient(90deg,#008a75 0.5px,#00718e 106.5px,#0050af 146.5px,#0040bf 167.5px,#00659a 191.5px,#fff 192.5px,#fff 265.5px)"></i>
<i style="height:1px;background:linear-gradient(90deg,#087 0.5px,#00708f 105.5px,#004db2 147.5px,#003fc0 167.5px,#069 191.5px,#fff 192.5px,#fff 265.5px)"></i>
<i style="height:1px;background:linear-gradient(90deg,#008679 0.5px,#006e91 105.5px,#0049b6 149.5px,#003fc0 167.5px,#069 191.5px,#fff 192.5px,#fff 265.5px)"></i>
<i style="height:1px;background:linear-gradient(90deg,#00847b 0.5px,#006d92 104.5px,#04b 153.5px,#0041be 169.5px,#069 191.5px,#fff 192.5px,#fff 265.5px)"></i>
<i style="height:1px;background:linear-gradient(90deg,#00837c 0.5px,#006b94 104.5px,#003ec1 165.5px,#069 191.5px,#fff 192.5px,#fff 265.5px)"></i>
<i style="height:1px;background:linear-gradient(90deg,#00817e 0.5px,#006996 104.5px,#003ec1 165.5px,#069 191.5px,#fff 192.5px,#fff 265.5px)"></i>
<i style="height:1px;background:linear-gradient(90deg,#007f80 0.5px,#006897 103.5px,#003ec1 164.5px,#006798 191.5px,#fff 192.5px,#fff 265.5px)"></i>
<i style="height:1px;background:linear-gradient(90deg,#007e81 0.5px,#069 103.5px,#003ec1 163.5px,#006798 191.5px,#fff 192.5px,#fff 265.5px)"></i>
<i style="height:1px;background:linear-gradient(90deg,#007c83 0.5px,#00639c 103.5px,#003ec1 162.5px,#00619e 187.5px,#006798 191.5px,#fff 192.5px,#fff 265.5px)"></i>
<i style="height:1px;background:linear-gradient(90deg,#007a85 0.5px,#00629d 102.5px,#003ec1 161.5px,#005ca3 184.5px,#006897 191.5px,#fff 192.5px,#fff 265.5px)"></i>
<i style="height:1px;background:linear-gradient(90deg,#007887 0.5px,#00609f 102.5px,#003ec1 160.5px,#005ba4 183.5px,#006897 191.5px,#fff 192.5px,#fff 265.5px)"></i>
<i style="height:1px;background:linear-gradient(90deg,#078 0.5px,#005ea1 102.5px,#003ec1 158.5px,#0056a9 180.5px,#006996 191.5px,#fff 192.5px,#fff 265.5px)"></i>
<i style="height:1px;background:linear-gradient(90deg,#00758a 0.5px,#005ca3 101.5px,#003dc2 155.5px,#0052ad 177.5px,#006996 191.5px,#fff 192.5px,#fff 265.5px)"></i>
<i style="height:1px;background:linear-gradient(90deg,#00738c 0.5px,#005aa5 101.5px,#003dc2 152.5px,#004eb1 174.5px,#006a95 191.5px,#fff 192.5px,#fff 265.5px)"></i>
<i style="height:1px;background:linear-gradient(90deg,#00718e 0.5px,#0058a7 101.5px,#003cc3 149.5px,#004db2 173.5px,#006a95 191.5px,#fff 192.5px,#fff 265.5px)"></i>
<i style="height:1px;background:linear-gradient(90deg,#00708f 0.5px,#0056a9 101.5px,#003bc4 147.5px,#004cb3 172.5px,#006b94 191.5px,#fff 192.5px,#fff 265.5px)"></i>
<i style="height:1px;background:linear-gradient(90deg,#006e91 0.5px,#05a 100.5px,#003ac5 144.5px,#004cb3 171.5px,#006b94 191.5px,#fff 192.5px,#fff 265.5px)"></i>
<i style="height:1px;background:linear-gradient(90deg,#006c93 0.5px,#0052ad 100.5px,#0038c7 143.5px,#004cb3 171.5px,#006c93 191.5px,#fff 192.5px,#fff 265.5px)"></i>
<i style="height:1px;background:linear-gradient(90deg,#006a95 0.5px,#0050af 100.5px,#0036c9 141.5px,#004cb3 170.5px,#006d92 191.5px,#fff 192.5px,#fff 265.5px)"></i>
<i style="height:1px;background:linear-gradient(90deg,#006897 0.5px,#004eb1 100.5px,#0035ca 140.5px,#004db2 170.5px,#006d92 191.5px,#fff 192.5px,#fff 265.5px)"></i>
<i style="height:1px;background:linear-gradient(90deg,#006798 0.5px,#004cb3 100.5px,#03c 139.5px,#004cb3 169.5px,#006e91 191.5px,#fff 192.5px,#fff 265.5px)"></i>
<i style="height:1px;background:linear-gradient(90deg,#00659a 0.5px,#004ab5 100.5px,#0031ce 139.5px,#0050af 171.5px,#006e91 191.5px,#fff 192.5px,#fff 265.5px)"></i>
<i style="height:1px;background:linear-gradient(90deg,#00639c 0.5px,#0048b7 100.5px,#002fd0 138.5px,#004fb0 170.5px,#006f90 191.5px,#fff 192.5px,#fff 265.5px)"></i>
<i style="height:1px;background:linear-gradient(90deg,#00619e 0.5px,#0046b9 100.5px,#002ed1 138.5px,#0053ac 172.5px,#00708f 191.5px,#fff 192.5px,#fff 265.5px)"></i>
<i style="height:1px;background:linear-gradient(90deg,#005fa0 0.5px,#0043bc 100.5px,#002cd3 137.5px,#0051ae 170.5px,#00708f 191.5px,#fff 192.5px,#fff 265.5px)"></i>
<i style="height:1px;background:linear-gradient(90deg,#005da2 0.5px,#0041be 100.5px,#002ad5 137.5px,#0056a9 173.5px,#00718e 191.5px,#fff 192.5px,#fff 265.5px)"></i>
<i style="height:1px;background:linear-gradient(90deg,#005ca3 0.5px,#003fc0 100.5px,#0028d7 136.5px,#0052ad 170.5px,#00718e 191.5px,#fff 192.5px,#fff 265.5px)"></i>
<i style="height:1px;background:linear-gradient(90deg,#005aa5 0.5px,#003dc2 100.5px,#0026d9 136.5px,#005aa5 175.5px,#00728d 191.5px,#fff 192.5px,#fff 265.5px)"></i>
<i style="height:1px;background:linear-gradient(90deg,#0058a7 0.5px,#003bc4 100.5px,#0025da 136.5px,#006897 184.5px,#00728d 191.5px,#fff 192.5px,#fff 265.5px)"></i>
<i style="height:1px;background:linear-gradient(90deg,#0056a9 0.5px,#0039c6 100.5px,#0023dc 135.5px,#0052ad 169.5px,#00728d 191.5px,#fff 192.5px,#fff 265.5px)"></i>
<i style="height:1px;background:linear-gradient(90deg,#0054ab 0.5px,#0036c9 101.5px,#0021de 135.5px,#00659a 182.5px,#00728d 191.5px,#fff 192.5px,#fff 265.5px)"></i>
<i style="height:1px;background:linear-gradient(90deg,#0052ad 0.5px,#0034cb 101.5px,#0020df 134.5px,#0047b8 162.5px,#00728d 191.5px,#fff 192.5px,#fff 265.5px)"></i>
<i style="height:1px;background:linear-gradient(90deg,#0050af 0.5px,#0032cd 101.5px,#001fe0 134.5px,#0047b8 162.5px,#00738c 191.5px,#fff 192.5px,#fff 265.5px)"></i>
<i style="height:1px;background:linear-gradient(90deg,#004eb1 0.5px,#002fd0 101.5px,#001de2 133.5px,#0040bf 158.5px,#00738c 191.5px,#fff 192.5px,#fff 265.5px)"></i>
<i style="height:1px;background:linear-gradient(90deg,#004cb3 0.5px,#002dd2 101.5px,#001ce3 133.5px,#0042bd 159.5px,#00728d 191.5px,#fff 192.5px,#fff 265.5px)"></i>
<i style="height:1px;background:linear-gradient(90deg,#004ab5 0.5px,#002ad5 102.5px,#001be4 133.5px,#0042bd 159.5px,#00728d 191.5px,#fff 192.5px,#fff 265.5px)"></i>
<i style="height:1px;background:linear-gradient(90deg,#0048b7 0.5px,#0028d7 102.5px,#0019e6 132.5px,#003cc3 156.5px,#00728d 191.5px,#fff 192.5px,#fff 265.5px)"></i>
<i style="height:1px;background:linear-gradient(90deg,#0046b9 0.5px,#0026d9 102.5px,#0018e7 132.5px,#003bc4 156.5px,#00728d 191.5px,#fff 192.5px,#fff 265.5px)"></i>
<i style="height:1px;background:linear-gradient(90deg,#04b 0.5px,#0023dc 103.5px,#0017e8 132.5px,#003dc2 157.5px,#00728d 191.5px,#fff 192.5px,#fff 265.5px)"></i>
<i style="height:1px;background:linear-gradient(90deg,#0042bd 0.5px,#0021de 103.5px,#0015ea 132.5px,#003dc2 157.5px,#00728d 191.5px,#fff 192.5px,#fff 265.5px)"></i>
<i style="height:1px;background:linear-gradient(90deg,#0040bf 0.5px,#001ee1 104.5px,#0014eb 132.5px,#003fc0 158.5px,#00728d 191.5px,#fff 192.5px,#fff 265.5px)"></i>
<i style="height:1px;background:linear-gradient(90deg,#003ec1 0.5px,#001ce3 104.5px,#0013ec 131.5px,#0039c6 155.5px,#00728d 191.5px,#fff 192.5px,#fff 265.5px)"></i>
<i style="height:1px;background:linear-gradient(90deg,#003cc3 0.5px,#001ae5 105.5px,#0012ed 132.5px,#0043bc 160.5px,#00718e 191.5px,#fff 192.5px,#fff 265.5px)"></i>
<i style="height:1px;background:linear-gradient(90deg,#0039c6 0.5px,#0017e8 106.5px,#01e 132.5px,#0049b6 163.5px,#00718e 191.5px,#fff 192.5px,#fff 265.5px)"></i>
<i style="height:1px;background:linear-gradient(90deg,#0037c8 0.5px,#0015ea 106.5px,#0010ef 132.5px,#006b94 186.5px,#00718e 191.5px,#fff 192.5px,#fff 265.5px)"></i>
<i style="height:1px;background:linear-gradient(90deg,#0035ca 0.5px,#0012ed 107.5px,#000ff0 132.5px,#006a95 185.5px,#00718e 191.5px,#fff 192.5px,#fff 265.5px)"></i>
<i style="height:1px;background:linear-gradient(90deg,#03c 0.5px,#000ff0 109.5px,#000ff0 133.5px,#006897 183.5px,#00718e 191.5px,#fff 192.5px,#fff 265.5px)"></i>
<i style="height:1px;background:linear-gradient(90deg,#0031ce 0.5px,#000df2 110.5px,#000ef1 133.5px,#006897 183.5px,#00718e 191.5px,#fff 192.5px,#fff 265.5px)"></i>
<i style="height:1px;background:linear-gradient(90deg,#002fd0 0.5px,#000af5 129.5px,#002fd0 151.5px,#006996 184.5px,#00718e 191.5px,#fff 192.5px,#fff 265.5px)"></i>
<i style="height:1px;background:linear-gradient(90deg,#002dd2 0.5px,#0008f7 128.5px,#002ad5 149.5px,#006798 182.5px,#00718e 191.5px,#fff 192.5px,#fff 265.5px)"></i>
<i style="height:1px;background:linear-gradient(90deg,#002bd4 0.5px,#0007f8 128.5px,#002ad5 149.5px,#006798 182.5px,#00718e 191.5px,#fff 192.5px,#fff 265.5px)"></i>
<i style="height:1px;background:linear-gradient(90deg,#0029d6 0.5px,#0005fa 127.5px,#0025da 147.5px,#069 181.5px,#00718e 191.5px,#fff 192.5px,#fff 265.5px)"></i>
<i style="height:1px;background:linear-gradient(90deg,#0027d8 0.5px,#0004fb 126.5px,#0020df 145.5px,#00649b 180.5px,#00718e 191.5px,#fff 192.5px,#fff 265.5px)"></i>
<i style="height:1px;background:linear-gradient(90deg,#0025da 0.5px,#0003fc 126.5px,#001fe0 145.5px,#00659a 180.5px,#00728d 191.5px,#fff 192.5px,#fff 265.5px)"></i>
<i style="height:1px;background:linear-gradient(90deg,#0023dc 0.5px,#0001fe 125.5px,#001de2 144.5px,#00659a 180.5px,#00738c 191.5px,#fff 192.5px,#fff 265.5px)"></i>
<i style="height:1px;background:linear-gradient(90deg,#0021de 0.5px,#00f 124.5px,#001ae5 143.5px,#00659a 180.5px,#00748b 191.5px,#fff 192.5px,#fff 265.5px)"></i>
<i style="height:1px;background:linear-gradient(90deg,#001fe0 0.5px,#00f 118.5px,#000af5 135.5px,#006798 181.5px,#00758a 191.5px,#fff 192.5px,#fff 265.5px)"></i>
<i style="height:1px;background:linear-gradient(90deg,#001de2 0.5px,#00f 111.5px,#0006f9 133.5px,#006c93 184.5px,#007689 191.5px,#fff 192.5px,#fff 265.5px)"></i>
<i style="height:1px;background:linear-gradient(90deg,#001be4 0.5px,#00f 106.5px,#0006f9 133.5px,#006e91 185.5px,#078 191.5px,#fff 192.5px,#fff 265.5px)"></i>
</div>
<div class="cb" style="left:376.8px;top:45.2px;width:13.1px;height:264.8px;background:linear-gradient(180deg,#f00 0,#ff0 57.1px,#0f0 57.1px,#00f 100%)"></div>
<div class="hm" style="left:667px;top:45px;width:265px;height:265px">
<i style="height:1px;background:linear-gradient(90deg,#f00 0.5px,#ff0200 4.5px,#fffd00 13.5px,#00e41b 14.5px,#0015ea 21.5px,#00f 22.5px,#fff 23.5px,#fff 264.5px)"></i>
<i style="height:1px;background:linear-gradient(90deg,#f00 0.5px,#ff0200 4.5px,#fffb00 13.5px,#00e51a 14.5px,#0017e8 21.5px,#00f 22.5px,#fff 23.5px,#fff 264.5px)"></i>
<i style="height:1px;background:linear-gradient(90deg,#f00 0.5px,#ff0100 4.5px,#fffa00 13.5px,#00e718 14.5px,#00f 22.5px,#fff 23.5px,#fff 264.5px)"></i>
<i style="height:1px;background:linear-gradient(90deg,#f00 0.5px,#ff0100 4.5px,#fff900 13.5px,#00e916 14.5px,#00f 22.5px,#00f 23.5px,#fff 24.5px,#fff 264.5px)"></i>
<i style="height:1px;background:linear-gradient(90deg,#f00 0.5px,#f00 4.5px,#fff700 13.5px,#00ea15 14.5px,#0001fe 22.5px,#00f 23.5px,#fff 24.5px,#fff 264.5px)"></i>
<i style="height:1px;background:linear-gradient(90deg,#f00 0.5px,#f00 4.5px,#fff600 13.5px,#00ec13 14.5px,#0004fb 22.5px,#00f 23.5px,#fff 24.5px,#fff 264.5px)"></i>
<i style="height:1px;background:linear-gradient(90deg,#f00 0.5px,#f00 4.5px,#fff400 13.5px,#00ed12 14.5px,#0006f9 22.5px,#00f 23.5px,#fff 24.5px,#fff 264.5px)"></i>
<i style="height:1px;background:linear-gradient(90deg,#f00 0.5px,#f00 4.5px,#fff300 13.5px,#00ef10 14.5px,#0009f6 22.5px,#00f 23.5px,#fff 24.5px,#fff 264.5px)"></i>
<i style="height:1px;background:linear-gradient(90deg,#f00 0.5px,#f00 4.5px,#fff200 13.5px,#00f00f 14.5px,#000bf4 22.5px,#00f 23.5px,#fff 24.5px,#fff 264.5px)"></i>
<i style="height:1px;background:linear-gradient(90deg,#f00 0.5px,#f00 4.5px,#fff000 13.5px,#00f20d 14.5px,#000ef1 22.5px,#00f 23.5px,#fff 24.5px,#fff 264.5px)"></i>
<i style="height:1px;background:linear-gradient(90deg,#f00 0.5px,#f00 4.5px,#ffef00 13.5px,#00f40b 14.5px,#0010ef 22.5px,#00f 23.5px,#fff 24.5px,#fff 264.5px)"></i>
<i style="height:1px;background:linear-gradient(90deg,#f00 0.5px,#f00 4.5px,#fe0 13.5px,#00f50a 14.5px,#0013ec 22.5px,#00f 23.5px,#fff 24.5px,#fff 264.5px)"></i>
<i style="height:1px;background:linear-gradient(90deg,#f00 0.5px,#f00 4.5px,#ffec00 13.5px,#00f708 14.5px,#0015ea 22.5px,#00f 23.5px,#fff 24.5px,#fff 264.5px)"></i>
<i style="height:1px;background:linear-gradient(90deg,#f00 0.5px,#f00 4.5px,#ffeb00 13.5px,#00f807 14.5px,#00f 23.5px,#fff 24.5px,#fff 264.5px)"></i>
<i style="height:1px;background:linear-gradient(90deg,#f00 0.5px,#f00 4.5px,#ffe900 13.5px,#00fa05 14.5px,#00f 23.5px,#00f 24.5px,#fff 25.5px,#fff 264.5px)"></i>
<i style="height:1px;background:linear-gradient(90deg,#f00 0.5px,#f00 4.5px,#ffe800 13.5px,#00fc03 14.5px,#0001fe 23.5px,#00f 24.5px,#fff 25.5px,#fff 264.5px)"></i>
<i style="height:1px;background:linear-gradient(90deg,#f00 0.5px,#f00 4.5px,#ffe700 13.5px,#00fd02 14.5px,#0003fc 23.5px,#00f 24.5px,#fff 25.5px,#fff 264.5px)"></i>
<i style="height:1px;background:linear-gradient(90deg,#f00 0.5px,#f00 4.5px,#ffe500 13.5px,#0f0 14.5px,#0006f9 23.5px,#00f 24.5px,#fff 25.5px,#fff 264.5px)"></i>
<i style="height:1px;background:linear-gradient(90deg,#f00 0.5px,#f00 4.5px,#ff9600 10.5px,#fffe00 14.5px,#00e51a 15.5px,#0008f7 23.5px,#00f 24.5px,#fff 25.5px,#fff 264.5px)"></i>
<i style="height:1px;background:linear-gradient(90deg,#f00 0.5px,#f00 4.5px,#ff6100 8.5px,#fffc00 14.5px,#00e718 15.5px,#000bf4 23.5px,#00f 24.5px,#fff 25.5px,#fff 264.5px)"></i>
<i style="height:1px;background:linear-gradient(90deg,#f00 0.5px,#f00 4.5px,#ff4600 7.5px,#fffb00 14.5px,#00e817 15.5px,#000ef1 23.5px,#00f 24.5px,#fff 25.5px,#fff 264.5px)"></i>
<i style="height:1px;background:linear-gradient(90deg,#f00 0.5px,#f00 4.5px,#ff4600 7.5px,#fff900 14.5px,#00ea15 15.5px,#0010ef 23.5px,#00f 24.5px,#fff 25.5px,#fff 264.5px)"></i>
<i style="height:1px;background:linear-gradient(90deg,#f00 0.5px,#f00 4.5px,#ff2b00 6.5px,#fff800 14.5px,#00ec13 15.5px,#0013ec 23.5px,#00f 24.5px,#fff 25.5px,#fff 264.5px)"></i>
<i style="height:1px;background:linear-gradient(90deg,#f00 0.5px,#f00 4.5px,#ff2b00 6.5px,#fff600 14.5px,#00ed12 15.5px,#00f 24.5px,#fff 25.5px,#fff 264.5px)"></i>
<i style="height:1px;background:linear-gradient(90deg,#f00 0.5px,#f00 4.5px,#ff2a00 6.5px,#fff500 14.5px,#00ef10 15.5px,#00f 24.5px,#00f 25.5px,#fff 26.5px,#fff 264.5px)"></i>
<i style="height:1px;background:linear-gradient(90deg,#f00 0.5px,#f00 4.5px,#ff2900 6.5px,#fff300 14.5px,#00f10e 15.5px,#00f 24.5px,#00f 25.5px,#fff 26.5px,#fff 264.5px)"></i>
<i style="height:1px;background:linear-gradient(90deg,#f00 0.5px,#f00 4.5px,#ff2900 6.5px,#fff200 14.5px,#00f20d 15.5px,#0003fc 24.5px,#00f 25.5px,#fff 26.5px,#fff 264.5px)"></i>
<i style="height:1px;background:linear-gradient(90deg,#f00 0.5px,#f00 4.5px,#ff2800 6.5px,#fff000 14.5px,#00f40b 15.5px,#0005fa 24.5px,#00f 25.5px,#fff 26.5px,#fff 264.5px)"></i>
<i style="height:1px;background:linear-gradient(90deg,#f00 0.5px,#f00 4.5px,#ff0f00 5.5px,#ffef00 14.5px,#00f609 15.5px,#0008f7 24.5px,#00f 25.5px,#fff 26.5px,#fff 264.5px)"></i>
<i style="height:1px;background:linear-gradient(90deg,#f00 0.5px,#f00 4.5px,#ff0e00 5.5px,#ffed00 14.5px,#00f807 15.5px,#000bf4 24.5px,#00f 25.5px,#fff 26.5px,#fff 264.5px)"></i>
<i style="height:1px;background:linear-gradient(90deg,#f00 0.5px,#f00 4.5px,#ff0d00 5.5px,#ffec00 14.5px,#00f906 15.5px,#000df2 24.5px,#00f 25.5px,#fff 26.5px,#fff 264.5px)"></i>
<i style="height:1px;background:linear-gradient(90deg,#f00 0.5px,#f00 4.5px,#ff0d00 5.5px,#ffea00 14.5px,#00fb04 15.5px,#0010ef 24.5px,#00f 25.5px,#fff 26.5px,#fff 264.5px)"></i>
<i style="height:1px;background:linear-gradient(90deg,#f00 0.5px,#f00 4.5px,#ff0c00 5.5px,#ffe900 14.5px,#00fd02 15.5px,#0013ec 24.5px,#00f 25.5px,#fff 26.5px,#fff 264.5px)"></i>
<i style="height:1px;background:linear-gradient(90deg,#f00 0.5px,#f00 4.5px,#ff0c00 5.5px,#ffe700 14.5px,#00fe01 15.5px,#00f 25.5px,#00f 26.5px,#fff 27.5px,#fff 264.5px)"></i>
<i style="height:1px;background:linear-gradient(90deg,#f00 0.5px,#f00 4.5px,#ff0b00 5.5px,#fffe00 15.5px,#00e619 16.5px,#00f 25.5px,#00f 26.5px,#fff 27.5px,#fff 264.5px)"></i>
<i style="height:1px;background:linear-gradient(90deg,#f00 0.5px,#f00 4.5px,#ff0b00 5.5px,#fffc00 15.5px,#00e817 16.5px,#0001fe 25.5px,#00f 26.5px,#fff 27.5px,#fff 264.5px)"></i>
<i style="height:1px;background:linear-gradient(90deg,#f00 0.5px,#f00 4.5px,#ff0a00 5.5px,#fffb00 15.5px,#00ea15 16.5px,#0004fb 25.5px,#00f 26.5px,#fff 27.5px,#fff 264.5px)"></i>
<i style="height:1px;background:linear-gradient(90deg,#f00 0.5px,#f00 4.5px,#ff0a00 5.5px,#fff900 15.5px,#00ec13 16.5px,#0007f8 25.5px,#00f 26.5px,#fff 27.5px,#fff 264.5px)"></i>
<i style="height:1px;background:linear-gradient(90deg,#f00 0.5px,#f00 4.5px,#ff0900 5.5px,#fff800 15.5px,#0e1 16.5px,#000af5 25.5px,#00f 26.5px,#fff 27.5px,#fff 264.5px)"></i>
<i style="height:1px;background:linear-gradient(90deg,#f00 0.5px,#f00 4.5px,#ff0800 5.5px,#fff600 15.5px,#00ef10 16.5px,#000cf3 25.5px,#00f 26.5px,#fff 27.5px,#fff 264.5px)"></i>
<i style="height:1px;background:linear-gradient(90deg,#f00 0.5px,#f00 4.5px,#ff0800 5.5px,#fff400 15.5px,#00f10e 16.5px,#000ff0 25.5px,#00f 26.5px,#fff 27.5px,#fff 264.5px)"></i>
<i style="height:1px;background:linear-gradient(90deg,#f00 0.5px,#f00 4.5px,#ff0700 5.5px,#fff300 15.5px,#00f30c 16.5px,#0012ed 25.5px,#00f 26.5px,#00f 27.5px,#fff 28.5px,#fff 264.5px)"></i>
<i style="height:1px;background:linear-gradient(90deg,#f00 0.5px,#f00 4.5px,#ff0700 5.5px,#fff100 15.5px,#00f50a 16.5px,#00f 26.5px,#00f 27.5px,#fff 28.5px,#fff 264.5px)"></i>
<i style="height:1px;background:linear-gradient(90deg,#f00 0.5px,#ff0600 5.5px,#fff000 15.5px,#00f708 16.5px,#00f 26.5px,#00f 27.5px,#fff 28.5px,#fff 264.5px)"></i>
<i style="height:1px;background:linear-gradient(90deg,#f00 0.5px,#ff0600 5.5px,#fe0 15.5px,#00f807 16.5px,#0002fd 26.5px,#00f 27.5px,#fff 28.5px,#fff 264.5px)"></i>
<i style="height:1px;background:linear-gradient(90deg,#f00 0.5px,#ff0500 5.5px,#ffec00 15.5px,#00fa05 16.5px,#0005fa 26.5px,#00f 27.5px,#fff 28.5px,#fff 264.5px)"></i>
<i style="height:1px;background:linear-gradient(90deg,#f00 0.5px,#ff0500 5.5px,#ffeb00 15.5px,#00fc03 16.5px,#0008f7 26.5px,#00f 27.5px,#fff 28.5px,#fff 264.5px)"></i>
<i style="height:1px;background:linear-gradient(90deg,#f00 0.5px,#ff0400 5.5px,#ffe900 15.5px,#00fe01 16.5px,#000bf4 26.5px,#00f 27.5px,#fff 28.5px,#fff 264.5px)"></i>
<i style="height:1px;background:linear-gradient(90deg,#f00 0.5px,#ff0300 5.5px,#fffe00 16.5px,#00e718 17.5px,#000ef1 26.5px,#00f 27.5px,#fff 28.5px,#fff 264.5px)"></i>
<i style="height:1px;background:linear-gradient(90deg,#f00 0.5px,#ff0300 5.5px,#fffd00 16.5px,#00e916 17.5px,#0010ef 26.5px,#00f 27.5px,#00f 28.5px,#fff 29.5px,#fff 264.5px)"></i>
<i style="height:1px;background:linear-gradient(90deg,#f00 0.5px,#ff0200 5.5px,#fffb00 16.5px,#00eb14 17.5px,#00f 27.5px,#00f 28.5px,#fff 29.5px,#fff 264.5px)"></i>
<i style="height:1px;background:linear-gradient(90deg,#f00 0.5px,#ff0200 5.5px,#fff900 16.5px,#00ed12 17.5px,#00f 27.5px,#00f 28.5px,#fff 29.5px,#fff 264.5px)"></i>
<i style="height:1px;background:linear-gradient(90deg,#f00 0.5px,#ff0100 5.5px,#fff800 16.5px,#00ef10 17.5px,#0002fd 27.5px,#00f 28.5px,#fff 29.5px,#fff 264.5px)"></i>
<i style="height:1px;background:linear-gradient(90deg,#f00 0.5px,#ff0100 5.5px,#fff600 16.5px,#00f10e 17.5px,#0005fa 27.5px,#00f 28.5px,#fff 29.5px,#fff 264.5px)"></i>
<i style="height:1px;background:linear-gradient(90deg,#f00 0.5px,#f00 5.5px,#fff400 16.5px,#00f30c 17.5px,#0008f7 27.5px,#00f 28.5px,#fff 29.5px,#fff 264.5px)"></i>
<i style="height:1px;background:linear-gradient(90deg,#f00 0.5px,#f00 5.5px,#fff200 16.5px,#00f50a 17.5px,#000bf4 27.5px,#00f 28.5px,#fff 29.5px,#fff 264.5px)"></i>
<i style="height:1px;background:linear-gradient(90deg,#f00 0.5px,#f00 5.5px,#fff100 16.5px,#00f708 17.5px,#000ef1 27.5px,#00f 28.5px,#fff 29.5px,#fff 264.5px)"></i>
<i style="height:1px;background:linear-gradient(90deg,#f00 0.5px,#f00 5.5px,#ffef00 16.5px,#00f906 17.5px,#01e 27.5px,#00f 28.5px,#00f 29.5px,#fff 30.5px,#fff 264.5px)"></i>
<i style="height:1px;background:linear-gradient(90deg,#f00 0.5px,#f00 5.5px,#ffed00 16.5px,#00fb04 17.5px,#00f 28.5px,#00f 29.5px,#fff 30.5px,#fff 264.5px)"></i>
<i style="height:1px;background:linear-gradient(90deg,#f00 0.5px,#f00 5.5px,#ffec00 16.5px,#00fd02 17.5px,#00f 28.5px,#00f 29.5px,#fff 30.5px,#fff 264.5px)"></i>
<i style="height:1px;background:linear-gradient(90deg,#f00 0.5px,#f00 5.5px,#ffea00 16.5px,#0f0 17.5px,#0003fc 28.5px,#00f 29.5px,#fff 30.5px,#fff 264.5px)"></i>
<i style="height:1px;background:linear-gradient(90deg,#f00 0.5px,#f00 5.5px,#fffe00 17.5px,#00ea15 18.5px,#0006f9 28.5px,#00f 29.5px,#fff 30.5px,#fff 264.5px)"></i>
<i style="height:1px;background:linear-gradient(90deg,#f00 0.5px,#f00 5.5px,#fffc00 17.5px,#00ec13 18.5px,#0009f6 28.5px,#00f 29.5px,#fff 30.5px,#fff 264.5px)"></i>
<i style="height:1px;background:linear-gradient(90deg,#f00 0.5px,#f00 5.5px,#fffa00 17.5px,#0e1 18.5px,#000cf3 28.5px,#00f 29.5px,#fff 30.5px,#fff 264.5px)"></i>
<i style="height:1px;background:linear-gradient(90deg,#f00 0.5px,#f00 5.5px,#ffe300 16.5px,#fff800 17.5px,#00f00f 18.5px,#0010ef 28.5px,#00f 29.5px,#00f 30.5px,#fff 31.5px,#fff 264.5px)"></i>
<i style="height:1px;background:linear-gradient(90deg,#f00 0.5px,#f00 5.5px,#ff6300 10.5px,#fff600 17.5px,#00f20d 18.5px,#00f 29.5px,#00f 30.5px,#fff 31.5px,#fff 264.5px)"></i>
<i style="height:1px;background:linear-gradient(90deg,#f00 0.5px,#f00 5.5px,#ff4d00 9.5px,#fff500 17.5px,#00f40b 18.5px,#00f 29.5px,#00f 30.5px,#fff 31.5px,#fff 264.5px)"></i>
<i style="height:1px;background:linear-gradient(90deg,#f00 0.5px,#f00 5.5px,#ff3700 8.5px,#fff300 17.5px,#00f609 18.5px,#0003fc 29.5px,#00f 30.5px,#fff 31.5px,#fff 264.5px)"></i>
<i style="height:1px;background:linear-gradient(90deg,#f00 0.5px,#f00 5.5px,#f20 7.5px,#fff100 17.5px,#00f807 18.5px,#0006f9 29.5px,#00f 30.5px,#fff 31.5px,#fff 264.5px)"></i>
<i style="height:1px;background:linear-gradient(90deg,#f00 0.5px,#f00 5.5px,#ff2100 7.5px,#ffef00 17.5px,#00fa05 18.5px,#0009f6 29.5px,#00f 30.5px,#fff 31.5px,#fff 264.5px)"></i>
<i style="height:1px;background:linear-gradient(90deg,#f00 0.5px,#f00 5.5px,#ff2000 7.5px,#ffed00 17.5px,#00fc03 18.5px,#000df2 29.5px,#00f 30.5px,#00f 31.5px,#fff 32.5px,#fff 264.5px)"></i>
<i style="height:1px;background:linear-gradient(90deg,#f00 0.5px,#f00 5.5px,#ff1f00 7.5px,#ffeb00 17.5px,#00fe01 18.5px,#0010ef 29.5px,#00f 30.5px,#00f 31.5px,#fff 32.5px,#fff 264.5px)"></i>
<i style="height:1px;background:linear-gradient(90deg,#f00 0.5px,#f00 5.5px,#ff1f00 7.5px,#fffe00 18.5px,#00eb14 19.5px,#00f 30.5px,#00f 31.5px,#fff 32.5px,#fff 264.5px)"></i>
<i style="height:1px;background:linear-gradient(90deg,#f00 0.5px,#f00 5.5px,#ff0a00 6.5px,#fffc00 18.5px,#00ed12 19.5px,#0001fe 30.5px,#00f 31.5px,#fff 32.5px,#fff 264.5px)"></i>
<i style="height:1px;background:linear-gradient(90deg,#f00 0.5px,#f00 5.5px,#ff0900 6.5px,#fffa00 18.5px,#00ef10 19.5px,#0004fb 30.5px,#00f 31.5px,#fff 32.5px,#fff 264.5px)"></i>
<i style="height:1px;background:linear-gradient(90deg,#f00 0.5px,#f00 5.5px,#ff0800 6.5px,#fff800 18.5px,#00f10e 19.5px,#0008f7 30.5px,#00f 31.5px,#fff 32.5px,#fff 264.5px)"></i>
<i style="height:1px;background:linear-gradient(90deg,#f00 0.5px,#f00 5.5px,#ff0800 6.5px,#fff600 18.5px,#00f30c 19.5px,#000bf4 30.5px,#00f 31.5px,#00f 32.5px,#fff 33.5px,#fff 264.5px)"></i>
<i style="height:1px;background:linear-gradient(90deg,#f00 0.5px,#f00 5.5px,#ff0700 6.5px,#fff400 18.5px,#00f50a 19.5px,#000ef1 30.5px,#00f 31.5px,#00f 32.5px,#fff 33.5px,#fff 264.5px)"></i>
<i style="height:1px;background:linear-gradient(90deg,#f00 0.5px,#f00 5.5px,#ff0600 6.5px,#fff200 18.5px,#00f708 19.5px,#00f 31.5px,#00f 32.5px,#fff 33.5px,#fff 264.5px)"></i>
<i style="height:1px;background:linear-gradient(90deg,#f00 0.5px,#ff0600 6.5px,#fff100 18.5px,#00fa05 19.5px,#00f 31.5px,#00f 32.5px,#fff 33.5px,#fff 264.5px)"></i>
<i style="height:1px;background:linear-gradient(90deg,#f00 0.5px,#ff0500 6.5px,#ffef00 18.5px,#00fc03 19.5px,#0004fb 31.5px,#00f 32.5px,#fff 33.5px,#fff 264.5px)"></i>
<i style="height:1px;background:linear-gradient(90deg,#f00 0.5px,#ff0400 6.5px,#ffed00 18.5px,#00fe01 19.5px,#0007f8 31.5px,#00f 32.5px,#fff 33.5px,#fff 264.5px)"></i>
<i style="height:1px;background:linear-gradient(90deg,#f00 0.5px,#ff0400 6.5px,#fffe00 19.5px,#00ec13 20.5px,#000bf4 31.5px,#00f 32.5px,#00f 33.5px,#fff 34.5px,#fff 264.5px)"></i>
<i style="height:1px;background:linear-gradient(90deg,#f00 0.5px,#ff0300 6.5px,#fffc00 19.5px,#0e1 20.5px,#000ef1 31.5px,#00f 32.5px,#00f 33.5px,#fff 34.5px,#fff 264.5px)"></i>
<i style="height:1px;background:linear-gradient(90deg,#f00 0.5px,#ff0200 6.5px,#fffa00 19.5px,#00f00f 20.5px,#00f 32.5px,#00f 33.5px,#fff 34.5px,#fff 264.5px)"></i>
<i style="height:1px;background:linear-gradient(90deg,#f00 0.5px,#ff0200 6.5px,#fff800 19.5px,#00f20d 20.5px,#0001fe 32.5px,#00f 33.5px,#fff 34.5px,#fff 264.5px)"></i>
<i style="height:1px;background:linear-gradient(90deg,#f00 0.5px,#ff0100 6.5px,#fff600 19.5px,#00f50a 20.5px,#0005fa 32.5px,#00f 33.5px,#fff 34.5px,#fff 264.5px)"></i>
<i style="height:1px;background:linear-gradient(90deg,#f00 0.5px,#f00 6.5px,#fff400 19.5px,#00f708 20.5px,#0008f7 32.5px,#00f 34.5px,#fff 35.5px,#fff 264.5px)"></i>
<i style="height:1px;background:linear-gradient(90deg,#f00 0.5px,#f00 6.5px,#fff200 19.5px,#00f906 20.5px,#000cf3 32.5px,#00f 33.5px,#00f 34.5px,#fff 35.5px,#fff 264.5px)"></i>
<i style="height:1px;background:linear-gradient(90deg,#f00 0.5px,#f00 6.5px,#fff000 19.5px,#00fb04 20.5px,#00f 33.5px,#00f 34.5px,#fff 35.5px,#fff 264.5px)"></i>
<i style="height:1px;background:linear-gradient(90deg,#f00 0.5px,#f00 6.5px,#fe0 19.5px,#00fe01 20.5px,#00f 33.5px,#00f 34.5px,#fff 35.5px,#fff 264.5px)"></i>
<i style="height:1px;background:linear-gradient(90deg,#f00 0.5px,#f00 6.5px,#fffe00 20.5px,#00ec13 21.5px,#0003fc 33.5px,#00f 34.5px,#fff 35.5px,#fff 264.5px)"></i>
<i style="height:1px;background:linear-gradient(90deg,#f00 0.5px,#f00 6.5px,#fffc00 20.5px,#00ef10 21.5px,#0007f8 33.5px,#00f 35.5px,#fff 36.5px,#fff 264.5px)"></i>
<i style="height:1px;background:linear-gradient(90deg,#f00 0.5px,#f00 6.5px,#fffa00 20.5px,#00f10e 21.5px,#000bf4 33.5px,#00f 34.5px,#00f 35.5px,#fff 36.5px,#fff 264.5px)"></i>
<i style="height:1px;background:linear-gradient(90deg,#f00 0.5px,#f00 6.5px,#fff800 20.5px,#00f40b 21.5px,#00f 34.5px,#00f 35.5px,#fff 36.5px,#fff 264.5px)"></i>
<i style="height:1px;background:linear-gradient(90deg,#f00 0.5px,#f00 6.5px,#fff600 20.5px,#00f609 21.5px,#00f 34.5px,#00f 35.5px,#fff 36.5px,#fff 264.5px)"></i>
<i style="height:1px;background:linear-gradient(90deg,#f00 0.5px,#f00 6.5px,#ffbe00 17.5px,#fff400 20.5px,#00f807 21.5px,#0003fc 34.5px,#00f 35.5px,#fff 36.5px,#fff 264.5px)"></i>
<i style="height:1px;background:linear-gradient(90deg,#f00 0.5px,#f00 6.5px,#ff5200 11.5px,#fff100 20.5px,#00fb04 21.5px,#0007f8 34.5px,#00f 36.5px,#fff 37.5px,#fff 264.5px)"></i>
<i style="height:1px;background:linear-gradient(90deg,#f00 0.5px,#f00 6.5px,#ff2e00 9.5px,#ffef00 20.5px,#00fd02 21.5px,#000bf4 34.5px,#00f 35.5px,#00f 36.5px,#fff 37.5px,#fff 264.5px)"></i>
<i style="height:1px;background:linear-gradient(90deg,#f00 0.5px,#f00 6.5px,#ff2d00 9.5px,#ff0 21.5px,#00ed12 22.5px,#00f 35.5px,#00f 36.5px,#fff 37.5px,#fff 264.5px)"></i>
<i style="height:1px;background:linear-gradient(90deg,#f00 0.5px,#f00 6.5px,#ff1b00 8.5px,#fffc00 21.5px,#00ef10 22.5px,#00f 35.5px,#00f 36.5px,#fff 37.5px,#fff 264.5px)"></i>
<i style="height:1px;background:linear-gradient(90deg,#f00 0.5px,#f00 6.5px,#ff1a00 8.5px,#fffa00 21.5px,#00f20d 22.5px,#0004fb 35.5px,#00f 37.5px,#fff 38.5px,#fff 264.5px)"></i>
<i style="height:1px;background:linear-gradient(90deg,#f00 0.5px,#f00 6.5px,#ff1900 8.5px,#fff800 21.5px,#00f40b 22.5px,#0008f7 35.5px,#00f 37.5px,#fff 38.5px,#fff 264.5px)"></i>
<i style="height:1px;background:linear-gradient(90deg,#f00 0.5px,#f00 6.5px,#ff0700 7.5px,#fff600 21.5px,#00f708 22.5px,#000cf3 35.5px,#00f 36.5px,#00f 37.5px,#fff 38.5px,#fff 264.5px)"></i>
<i style="height:1px;background:linear-gradient(90deg,#f00 0.5px,#f00 6.5px,#ff0600 7.5px,#fff300 21.5px,#00f906 22.5px,#00f 36.5px,#00f 37.5px,#fff 38.5px,#fff 264.5px)"></i>
<i style="height:1px;background:linear-gradient(90deg,#f00 0.5px,#ff0500 7.5px,#fff100 21.5px,#00fc03 22.5px,#0002fd 36.5px,#00f 37.5px,#fff 38.5px,#fff 264.5px)"></i>
<i style="height:1px;background:linear-gradient(90deg,#f00 0.5px,#ff0500 7.5px,#ffef00 21.5px,#00fe01 22.5px,#0006f9 36.5px,#00f 38.5px,#fff 39.5px,#fff 264.5px)"></i>
<i style="height:1px;background:linear-gradient(90deg,#f00 0.5px,#ff0400 7.5px,#fffd00 22.5px,#00ef10 23.5px,#000af5 36.5px,#00f 38.5px,#fff 39.5px,#fff 264.5px)"></i>
<i style="height:1px;background:linear-gradient(90deg,#f00 0.5px,#ff0300 7.5px,#fffb00 22.5px,#00f20d 23.5px,#00f 37.5px,#00f 38.5px,#fff 39.5px,#fff 264.5px)"></i>
<i style="height:1px;background:linear-gradient(90deg,#f00 0.5px,#ff0200 7.5px,#fff900 22.5px,#00f40b 23.5px,#00f 37.5px,#00f 38.5px,#fff 39.5px,#fff 264.5px)"></i>
<i style="height:1px;background:linear-gradient(90deg,#f00 0.5px,#ff0200 7.5px,#fff600 22.5px,#00f708 23.5px,#0004fb 37.5px,#00f 39.5px,#fff 40.5px,#fff 264.5px)"></i>
<i style="height:1px;background:linear-gradient(90deg,#f00 0.5px,#ff0100 7.5px,#fff400 22.5px,#00f906 23.5px,#0009f6 37.5px,#00f 39.5px,#fff 40.5px,#fff 264.5px)"></i>
<i style="height:1px;background:linear-gradient(90deg,#f00 0.5px,#f00 7.5px,#fff200 22.5px,#00fc03 23.5px,#00f 38.5px,#00f 39.5px,#fff 40.5px,#fff 264.5px)"></i>
<i style="height:1px;background:linear-gradient(90deg,#f00 0.5px,#f00 7.5px,#ffef00 22.5px,#0f0 23.5px,#00f 38.5px,#00f 39.5px,#fff 40.5px,#fff 264.5px)"></i>
<i style="height:1px;background:linear-gradient(90deg,#f00 0.5px,#f00 7.5px,#fffd00 23.5px,#00f00f 24.5px,#0004fb 38.5px,#00f 40.5px,#fff 41.5px,#fff 264.5px)"></i>
<i style="height:1px;background:linear-gradient(90deg,#f00 0.5px,#f00 7.5px,#fffa00 23.5px,#00f30c 24.5px,#0008f7 38.5px,#00f 40.5px,#fff 41.5px,#fff 264.5px)"></i>
<i style="height:1px;background:linear-gradient(90deg,#f00 0.5px,#f00 7.5px,#fff800 23.5px,#00f609 24.5px,#00f 39.5px,#00f 40.5px,#fff 41.5px,#fff 264.5px)"></i>
<i style="height:1px;background:linear-gradient(90deg,#f00 0.5px,#f00 7.5px,#fff600 23.5px,#00f807 24.5px,#00f 39.5px,#00f 41.5px,#fff 42.5px,#fff 264.5px)"></i>
<i style="height:1px;background:linear-gradient(90deg,#f00 0.5px,#f00 7.5px,#fff300 23.5px,#00fb04 24.5px,#0005fa 39.5px,#00f 41.5px,#fff 42.5px,#fff 264.5px)"></i>
<i style="height:1px;background:linear-gradient(90deg,#f00 0.5px,#f00 7.5px,#fff100 23.5px,#00fe01 24.5px,#0009f6 39.5px,#00f 41.5px,#fff 42.5px,#fff 264.5px)"></i>
<i style="height:1px;background:linear-gradient(90deg,#f00 0.5px,#f00 7.5px,#ff4600 12.5px,#fffe00 24.5px,#00f00f 25.5px,#00f 40.5px,#00f 41.5px,#fff 42.5px,#fff 264.5px)"></i>
<i style="height:1px;background:linear-gradient(90deg,#f00 0.5px,#f00 7.5px,#ff2700 10.5px,#fffb00 24.5px,#00f30c 25.5px,#0002fd 40.5px,#00f 42.5px,#fff 43.5px,#fff 264.5px)"></i>
<i style="height:1px;background:linear-gradient(90deg,#f00 0.5px,#f00 7.5px,#ff1700 9.5px,#fff800 24.5px,#00f609 25.5px,#0006f9 40.5px,#00f 42.5px,#fff 43.5px,#fff 264.5px)"></i>
<i style="height:1px;background:linear-gradient(90deg,#f00 0.5px,#f00 7.5px,#ff1600 9.5px,#fff600 24.5px,#00f906 25.5px,#00f 41.5px,#00f 42.5px,#fff 43.5px,#fff 264.5px)"></i>
<i style="height:1px;background:linear-gradient(90deg,#f00 0.5px,#f00 7.5px,#ff1500 9.5px,#fff300 24.5px,#00fc03 25.5px,#00f 41.5px,#00f 43.5px,#fff 44.5px,#fff 264.5px)"></i>
<i style="height:1px;background:linear-gradient(90deg,#f00 0.5px,#ff0500 8.5px,#fff100 24.5px,#00fe01 25.5px,#0004fb 41.5px,#00f 43.5px,#fff 44.5px,#fff 264.5px)"></i>
<i style="height:1px;background:linear-gradient(90deg,#f00 0.5px,#ff0400 8.5px,#fffd00 25.5px,#00f20d 26.5px,#0009f6 41.5px,#00f 43.5px,#fff 44.5px,#fff 264.5px)"></i>
<i style="height:1px;background:linear-gradient(90deg,#f00 0.5px,#ff0300 8.5px,#fffa00 25.5px,#00f50a 26.5px,#00f 42.5px,#00f 44.5px,#fff 45.5px,#fff 264.5px)"></i>
<i style="height:1px;background:linear-gradient(90deg,#f00 0.5px,#ff0200 8.5px,#fff800 25.5px,#00f807 26.5px,#0003fc 42.5px,#00f 44.5px,#fff 45.5px,#fff 264.5px)"></i>
<i style="height:1px;background:linear-gradient(90deg,#f00 0.5px,#ff0100 8.5px,#fff500 25.5px,#00fa05 26.5px,#0007f8 42.5px,#00f 44.5px,#fff 45.5px,#fff 264.5px)"></i>
<i style="height:1px;background:linear-gradient(90deg,#f00 0.5px,#ff0100 8.5px,#fff200 25.5px,#00fd02 26.5px,#00f 43.5px,#00f 45.5px,#fff 46.5px,#fff 264.5px)"></i>
<i style="height:1px;background:linear-gradient(90deg,#f00 0.5px,#f00 8.5px,#fffe00 26.5px,#00f10e 27.5px,#0002fd 43.5px,#00f 45.5px,#fff 46.5px,#fff 264.5px)"></i>
<i style="height:1px;background:linear-gradient(90deg,#f00 0.5px,#f00 8.5px,#fffb00 26.5px,#00f40b 27.5px,#0007f8 43.5px,#00f 45.5px,#fff 46.5px,#fff 264.5px)"></i>
<i style="height:1px;background:linear-gradient(90deg,#f00 0.5px,#f00 8.5px,#fff800 26.5px,#00f708 27.5px,#00f 44.5px,#00f 46.5px,#fff 47.5px,#fff 264.5px)"></i>
<i style="height:1px;background:linear-gradient(90deg,#f00 0.5px,#f00 8.5px,#fff500 26.5px,#00fa05 27.5px,#0002fd 44.5px,#00f 46.5px,#fff 47.5px,#fff 264.5px)"></i>
<i style="height:1px;background:linear-gradient(90deg,#f00 0.5px,#f00 8.5px,#fff300 26.5px,#00fe01 27.5px,#0006f9 44.5px,#00f 46.5px,#fff 47.5px,#fff 264.5px)"></i>
<i style="height:1px;background:linear-gradient(90deg,#f00 0.5px,#f00 8.5px,#fffe00 27.5px,#00f20d 28.5px,#00f 45.5px,#00f 47.5px,#fff 48.5px,#fff 264.5px)"></i>
<i style="height:1px;background:linear-gradient(90deg,#f00 0.5px,#f00 8.5px,#ff7400 17.5px,#fffb00 27.5px,#00f50a 28.5px,#0002fd 45.5px,#00f 47.5px,#fff 48.5px,#fff 264.5px)"></i>
<i style="height:1px;background:linear-gradient(90deg,#f00 0.5px,#f00 8.5px,#ff2f00 12.5px,#fff800 27.5px,#00f807 28.5px,#0007f8 45.5px,#00f 47.5px,#fff 48.5px,#fff 264.5px)"></i>
<i style="height:1px;background:linear-gradient(90deg,#f00 0.5px,#f00 8.5px,#ff2100 11.5px,#fff500 27.5px,#00fc03 28.5px,#00f 46.5px,#00f 48.5px,#fff 49.5px,#fff 264.5px)"></i>
<i style="height:1px;background:linear-gradient(90deg,#f00 0.5px,#ff0500 9.5px,#fff200 27.5px,#0f0 28.5px,#0003fc 46.5px,#00f 48.5px,#fff 49.5px,#fff 264.5px)"></i>
<i style="height:1px;background:linear-gradient(90deg,#f00 0.5px,#ff0400 9.5px,#fffc00 28.5px,#00f40b 29.5px,#0008f7 46.5px,#00f 48.5px,#00f 49.5px,#fff 50.5px,#fff 264.5px)"></i>
<i style="height:1px;background:linear-gradient(90deg,#f00 0.5px,#ff0300 9.5px,#fff900 28.5px,#00f708 29.5px,#00f 47.5px,#00f 49.5px,#fff 50.5px,#fff 264.5px)"></i>
<i style="height:1px;background:linear-gradient(90deg,#f00 0.5px,#ff0200 9.5px,#fff600 28.5px,#00fb04 29.5px,#0005fa 47.5px,#00f 49.5px,#fff 50.5px,#fff 264.5px)"></i>
<i style="height:1px;background:linear-gradient(90deg,#f00 0.5px,#ff0100 9.5px,#fff300 28.5px,#00fe01 29.5px,#00f 48.5px,#00f 50.5px,#fff 51.5px,#fff 264.5px)"></i>
<i style="height:1px;background:linear-gradient(90deg,#f00 0.5px,#f00 9.5px,#fffd00 29.5px,#00f40b 30.5px,#0002fd 48.5px,#00f 50.5px,#fff 51.5px,#fff 264.5px)"></i>
<i style="height:1px;background:linear-gradient(90deg,#f00 0.5px,#f00 9.5px,#fffa00 29.5px,#00f708 30.5px,#0007f8 48.5px,#00f 51.5px,#fff 52.5px,#fff 264.5px)"></i>
<i style="height:1px;background:linear-gradient(90deg,#f00 0.5px,#f00 9.5px,#fff700 29.5px,#00fa05 30.5px,#00f 49.5px,#00f 51.5px,#fff 52.5px,#fff 264.5px)"></i>
<i style="height:1px;background:linear-gradient(90deg,#f00 0.5px,#f00 9.5px,#fff400 29.5px,#00fe01 30.5px,#0005fa 49.5px,#00f 52.5px,#fff 53.5px,#fff 264.5px)"></i>
<i style="height:1px;background:linear-gradient(90deg,#f00 0.5px,#f00 9.5px,#fffd00 30.5px,#00f40b 31.5px,#00f 50.5px,#00f 52.5px,#fff 53.5px,#fff 264.5px)"></i>
<i style="height:1px;background:linear-gradient(90deg,#f00 0.5px,#f00 9.5px,#fffa00 30.5px,#00f807 31.5px,#0003fc 50.5px,#00f 53.5px,#fff 54.5px,#fff 264.5px)"></i>
<i style="height:1px;background:linear-gradient(90deg,#f00 0.5px,#f00 9.5px,#ff4e00 16.5px,#fff700 30.5px,#00fb04 31.5px,#00f 51.5px,#00f 53.5px,#fff 54.5px,#fff 264.5px)"></i>
<i style="height:1px;background:linear-gradient(90deg,#f00 0.5px,#ff0500 10.5px,#fff300 30.5px,#0f0 31.5px,#0002fd 51.5px,#00f 53.5px,#fff 54.5px,#fff 264.5px)"></i>
<i style="height:1px;background:linear-gradient(90deg,#f00 0.5px,#ff0400 10.5px,#fffc00 31.5px,#00f609 32.5px,#00f 52.5px,#00f 54.5px,#fff 55.5px,#fff 264.5px)"></i>
<i style="height:1px;background:linear-gradient(90deg,#f00 0.5px,#ff0300 10.5px,#fff900 31.5px,#00f906 32.5px,#0001fe 52.5px,#00f 54.5px,#fff 55.5px,#fff 264.5px)"></i>
<i style="height:1px;background:linear-gradient(90deg,#f00 0.5px,#ff0200 10.5px,#fff600 31.5px,#00fd02 32.5px,#0007f8 52.5px,#00f 55.5px,#fff 56.5px,#fff 264.5px)"></i>
<i style="height:1px;background:linear-gradient(90deg,#f00 0.5px,#ff0100 10.5px,#fffe00 32.5px,#00f40b 33.5px,#00f 53.5px,#00f 55.5px,#fff 56.5px,#fff 264.5px)"></i>
<i style="height:1px;background:linear-gradient(90deg,#f00 0.5px,#f00 10.5px,#fffa00 32.5px,#00f807 33.5px,#0006f9 53.5px,#00f 56.5px,#fff 57.5px,#fff 264.5px)"></i>
<i style="height:1px;background:linear-gradient(90deg,#f00 0.5px,#f00 10.5px,#fff700 32.5px,#00fc03 33.5px,#00f 54.5px,#00f 57.5px,#fff 58.5px,#fff 264.5px)"></i>
<i style="height:1px;background:linear-gradient(90deg,#f00 0.5px,#f00 10.5px,#ff0 33.5px,#00f30c 34.5px,#0006f9 54.5px,#00f 57.5px,#fff 58.5px,#fff 264.5px)"></i>
<i style="height:1px;background:linear-gradient(90deg,#f00 0.5px,#f00 10.5px,#fffb00 33.5px,#00f708 34.5px,#00f 55.5px,#00f 58.5px,#fff 59.5px,#fff 264.5px)"></i>
<i style="height:1px;background:linear-gradient(90deg,#f00 0.5px,#f00 10.5px,#fff800 33.5px,#00fb04 34.5px,#00f 56.5px,#00f 58.5px,#fff 59.5px,#fff 264.5px)"></i>
<i style="height:1px;background:linear-gradient(90deg,#f00 0.5px,#ff0500 11.5px,#fff400 33.5px,#0f0 34.5px,#0001fe 56.5px,#00f 59.5px,#fff 60.5px,#fff 264.5px)"></i>
<i style="height:1px;background:linear-gradient(90deg,#f00 0.5px,#ff0400 11.5px,#fffc00 34.5px,#00f708 35.5px,#00f 57.5px,#00f 59.5px,#fff 60.5px,#fff 264.5px)"></i>
<i style="height:1px;background:linear-gradient(90deg,#f00 0.5px,#ff0300 11.5px,#fff800 34.5px,#00fb04 35.5px,#0002fd 57.5px,#00f 60.5px,#fff 61.5px,#fff 264.5px)"></i>
<i style="height:1px;background:linear-gradient(90deg,#f00 0.5px,#ff0200 11.5px,#ff0 35.5px,#00f40b 36.5px,#00f 58.5px,#00f 61.5px,#fff 62.5px,#fff 264.5px)"></i>
<i style="height:1px;background:linear-gradient(90deg,#f00 0.5px,#ff0100 11.5px,#fffb00 35.5px,#00f807 36.5px,#0004fb 58.5px,#00f 61.5px,#fff 62.5px,#fff 264.5px)"></i>
<i style="height:1px;background:linear-gradient(90deg,#f00 0.5px,#f00 11.5px,#fff800 35.5px,#00fc03 36.5px,#00f 59.5px,#00f 62.5px,#fff 63.5px,#fff 264.5px)"></i>
<i style="height:1px;background:linear-gradient(90deg,#f00 0.5px,#f00 11.5px,#fffe00 36.5px,#00f50a 37.5px,#00f 60.5px,#00f 62.5px,#fff 63.5px,#fff 264.5px)"></i>
<i style="height:1px;background:linear-gradient(90deg,#f00 0.5px,#f00 11.5px,#fffa00 36.5px,#00f906 37.5px,#0002fd 60.5px,#00f 63.5px,#fff 64.5px,#fff 264.5px)"></i>
<i style="height:1px;background:linear-gradient(90deg,#f00 0.5px,#f00 11.5px,#fff600 36.5px,#00fd02 37.5px,#00f 61.5px,#00f 64.5px,#fff 65.5px,#fff 264.5px)"></i>
<i style="height:1px;background:linear-gradient(90deg,#f00 0.5px,#ff0500 12.5px,#fffd00 37.5px,#00f708 38.5px,#0005fa 61.5px,#00f 65.5px,#fff 66.5px,#fff 264.5px)"></i>
<i style="height:1px;background:linear-gradient(90deg,#f00 0.5px,#ff0300 12.5px,#fff900 37.5px,#00fb04 38.5px,#0001fe 62.5px,#00f 65.5px,#fff 66.5px,#fff 264.5px)"></i>
<i style="height:1px;background:linear-gradient(90deg,#f00 0.5px,#ff0200 12.5px,#ff0 38.5px,#00f50a 39.5px,#00f 63.5px,#00f 66.5px,#fff 67.5px,#fff 264.5px)"></i>
<i style="height:1px;background:linear-gradient(90deg,#f00 0.5px,#ff0100 12.5px,#fffa00 38.5px,#00fa05 39.5px,#0005fa 63.5px,#00f 67.5px,#fff 68.5px,#fff 264.5px)"></i>
<i style="height:1px;background:linear-gradient(90deg,#f00 0.5px,#f00 12.5px,#fff600 38.5px,#00fe01 39.5px,#0002fd 64.5px,#00f 67.5px,#fff 68.5px,#fff 264.5px)"></i>
<i style="height:1px;background:linear-gradient(90deg,#f00 0.5px,#f00 12.5px,#fffc00 39.5px,#00f807 40.5px,#00f 65.5px,#00f 68.5px,#fff 69.5px,#fff 264.5px)"></i>
<i style="height:1px;background:linear-gradient(90deg,#f00 0.5px,#f00 12.5px,#fff800 39.5px,#00fd02 40.5px,#00f 66.5px,#00f 69.5px,#fff 70.5px,#fff 264.5px)"></i>
<i style="height:1px;background:linear-gradient(90deg,#f00 0.5px,#ff0500 13.5px,#fffd00 40.5px,#00f807 41.5px,#0004fb 66.5px,#00f 70.5px,#fff 71.5px,#fff 264.5px)"></i>
<i style="height:1px;background:linear-gradient(90deg,#f00 0.5px,#ff0300 13.5px,#fff900 40.5px,#00fc03 41.5px,#0002fd 67.5px,#00f 71.5px,#fff 72.5px,#fff 264.5px)"></i>
<i style="height:1px;background:linear-gradient(90deg,#f00 0.5px,#ff0200 13.5px,#fffd00 41.5px,#00f708 42.5px,#00f 68.5px,#00f 71.5px,#fff 72.5px,#fff 264.5px)"></i>
<i style="height:1px;background:linear-gradient(90deg,#f00 0.5px,#ff0100 13.5px,#fff900 41.5px,#00fc03 42.5px,#00f 69.5px,#00f 72.5px,#fff 73.5px,#fff 264.5px)"></i>
<i style="height:1px;background:linear-gradient(90deg,#f00 0.5px,#f00 13.5px,#fffd00 42.5px,#00f708 43.5px,#00f 70.5px,#00f 73.5px,#fff 74.5px,#fff 264.5px)"></i>
<i style="height:1px;background:linear-gradient(90deg,#f00 0.5px,#f00 13.5px,#fff900 42.5px,#00fc03 43.5px,#0004fb 70.5px,#00f 74.5px,#fff 75.5px,#fff 264.5px)"></i>
<i style="height:1px;background:linear-gradient(90deg,#f00 0.5px,#ff0500 14.5px,#fffd00 43.5px,#00f807 44.5px,#0003fc 71.5px,#00f 75.5px,#fff 76.5px,#fff 264.5px)"></i>
<i style="height:1px;background:linear-gradient(90deg,#f00 0.5px,#ff0300 14.5px,#fff900 43.5px,#00fd02 44.5px,#0002fd 72.5px,#00f 76.5px,#fff 77.5px,#fff 264.5px)"></i>
<i style="height:1px;background:linear-gradient(90deg,#f00 0.5px,#ff0200 14.5px,#fffc00 44.5px,#00f906 45.5px,#0001fe 73.5px,#00f 77.5px,#fff 78.5px,#fff 264.5px)"></i>
<i style="height:1px;background:linear-gradient(90deg,#f00 0.5px,#f00 14.5px,#fff800 44.5px,#00fe01 45.5px,#00f 74.5px,#00f 78.5px,#fff 79.5px,#fff 264.5px)"></i>
<i style="height:1px;background:linear-gradient(90deg,#f00 0.5px,#f00 14.5px,#fffb00 45.5px,#00fa05 46.5px,#00f 75.5px,#00f 79.5px,#fff 80.5px,#fff 264.5px)"></i>
<i style="height:1px;background:linear-gradient(90deg,#f00 0.5px,#f00 14.5px,#ff0 46.5px,#00f708 47.5px,#00f 76.5px,#00f 80.5px,#fff 81.5px,#fff 264.5px)"></i>
<i style="height:1px;background:linear-gradient(90deg,#f00 0.5px,#ff0400 15.5px,#fffa00 46.5px,#00fc03 47.5px,#00f 77.5px,#00f 81.5px,#fff 82.5px,#fff 264.5px)"></i>
<i style="height:1px;background:linear-gradient(90deg,#f00 0.5px,#ff0200 15.5px,#fffd00 47.5px,#00f906 48.5px,#00f 78.5px,#00f 82.5px,#fff 83.5px,#fff 264.5px)"></i>
<i style="height:1px;background:linear-gradient(90deg,#f00 0.5px,#ff0100 15.5px,#fff800 47.5px,#0f0 48.5px,#0001fe 79.5px,#00f 83.5px,#fff 84.5px,#fff 264.5px)"></i>
<i style="height:1px;background:linear-gradient(90deg,#f00 0.5px,#f00 15.5px,#fffa00 48.5px,#00fc03 49.5px,#0001fe 80.5px,#00f 85.5px,#fff 86.5px,#fff 264.5px)"></i>
<i style="height:1px;background:linear-gradient(90deg,#f00 0.5px,#ff0500 16.5px,#fffd00 49.5px,#00f906 50.5px,#0002fd 81.5px,#00f 86.5px,#fff 87.5px,#fff 264.5px)"></i>
<i style="height:1px;background:linear-gradient(90deg,#f00 0.5px,#ff0300 16.5px,#fff800 49.5px,#0f0 50.5px,#00f 83.5px,#00f 87.5px,#fff 88.5px,#fff 264.5px)"></i>
<i style="height:1px;background:linear-gradient(90deg,#f00 0.5px,#ff0200 16.5px,#fffa00 50.5px,#00fd02 51.5px,#00f 84.5px,#00f 88.5px,#fff 89.5px,#fff 264.5px)"></i>
<i style="height:1px;background:linear-gradient(90deg,#f00 0.5px,#f00 16.5px,#fffc00 51.5px,#00fb04 52.5px,#00f 85.5px,#00f 90.5px,#fff 91.5px,#fff 264.5px)"></i>
<i style="height:1px;background:linear-gradient(90deg,#f00 0.5px,#ff0500 17.5px,#fffd00 52.5px,#00f906 53.5px,#0001fe 86.5px,#00f 91.5px,#fff 92.5px,#fff 264.5px)"></i>
<i style="height:1px;background:linear-gradient(90deg,#f00 0.5px,#ff0300 17.5px,#ff0 53.5px,#00f807 54.5px,#00f 88.5px,#00f 92.5px,#fff 93.5px,#fff 264.5px)"></i>
<i style="height:1px;background:linear-gradient(90deg,#f00 0.5px,#ff0200 17.5px,#fff900 53.5px,#00fe01 54.5px,#00f 89.5px,#00f 94.5px,#fff 95.5px,#fff 264.5px)"></i>
<i style="height:1px;background:linear-gradient(90deg,#f00 0.5px,#f00 17.5px,#fffb00 54.5px,#00fd02 55.5px,#0001fe 90.5px,#00f 95.5px,#fff 96.5px,#fff 264.5px)"></i>
<i style="height:1px;background:linear-gradient(90deg,#f00 0.5px,#ff0500 18.5px,#fffc00 55.5px,#00fc03 56.5px,#00f 92.5px,#00f 97.5px,#fff 98.5px,#fff 264.5px)"></i>
<i style="height:1px;background:linear-gradient(90deg,#f00 0.5px,#ff0300 18.5px,#fffc00 56.5px,#00fb04 57.5px,#00f 93.5px,#00f 99.5px,#fff 100.5px,#fff 264.5px)"></i>
<i style="height:1px;background:linear-gradient(90deg,#f00 0.5px,#ff0100 18.5px,#fffd00 57.5px,#00fa05 58.5px,#00f 95.5px,#00f 100.5px,#fff 101.5px,#fff 264.5px)"></i>
<i style="height:1px;background:linear-gradient(90deg,#f00 0.5px,#ff0500 19.5px,#fffd00 58.5px,#00fa05 59.5px,#00f 96.5px,#00f 102.5px,#fff 103.5px,#fff 264.5px)"></i>
<i style="height:1px;background:linear-gradient(90deg,#f00 0.5px,#ff0300 19.5px,#fffd00 59.5px,#00fa05 60.5px,#00f 98.5px,#00f 104.5px,#fff 105.5px,#fff 264.5px)"></i>
<i style="height:1px;background:linear-gradient(90deg,#f00 0.5px,#ff0100 19.5px,#fffd00 60.5px,#00fa05 61.5px,#00f 100.5px,#00f 105.5px,#fff 106.5px,#fff 264.5px)"></i>
<i style="height:1px;background:linear-gradient(90deg,#f00 0.5px,#ff0500 20.5px,#fffd00 61.5px,#00fb04 62.5px,#0001fe 101.5px,#00f 107.5px,#fff 108.5px,#fff 264.5px)"></i>
<i style="height:1px;background:linear-gradient(90deg,#f00 0.5px,#ff0300 20.5px,#fffd00 62.5px,#00fb04 63.5px,#00f 103.5px,#00f 109.5px,#fff 110.5px,#fff 264.5px)"></i>
<i style="height:1px;background:linear-gradient(90deg,#f00 0.5px,#ff0100 20.5px,#fffc00 63.5px,#00fc03 64.5px,#00f 105.5px,#00f 111.5px,#fff 112.5px,#fff 264.5px)"></i>
<i style="height:1px;background:linear-gradient(90deg,#f00 0.5px,#ff0500 21.5px,#fffb00 64.5px,#00fd02 65.5px,#00f 107.5px,#00f 113.5px,#fff 114.5px,#fff 264.5px)"></i>
<i style="height:1px;background:linear-gradient(90deg,#f00 0.5px,#ff0200 21.5px,#fffa00 65.5px,#0f0 66.5px,#00f 109.5px,#00f 116.5px,#fff 117.5px,#fff 264.5px)"></i>
<i style="height:1px;background:linear-gradient(90deg,#f00 0.5px,#f00 21.5px,#fffe00 67.5px,#00fa05 68.5px,#00f 111.5px,#00f 118.5px,#fff 119.5px,#fff 264.5px)"></i>
<i style="height:1px;background:linear-gradient(90deg,#f00 0.5px,#ff0300 22.5px,#fffc00 68.5px,#00fc03 69.5px,#00f 113.5px,#00f 120.5px,#fff 121.5px,#fff 264.5px)"></i>
<i style="height:1px;background:linear-gradient(90deg,#f00 0.5px,#ff0100 22.5px,#fffb00 69.5px,#00fe01 70.5px,#00f 115.5px,#00f 123.5px,#fff 124.5px,#fff 264.5px)"></i>
<i style="height:1px;background:linear-gradient(90deg,#f00 0.5px,#ff0400 23.5px,#fffe00 71.5px,#00fb04 72.5px,#00f 118.5px,#00f 125.5px,#fff 126.5px,#fff 264.5px)"></i>
<i style="height:1px;background:linear-gradient(90deg,#f00 0.5px,#ff0100 23.5px,#fffb00 72.5px,#00fd02 73.5px,#00f 120.5px,#00f 128.5px,#fff 129.5px,#fff 264.5px)"></i>
<i style="height:1px;background:linear-gradient(90deg,#f00 0.5px,#ff0400 24.5px,#fffe00 74.5px,#00fb04 75.5px,#00f 123.5px,#00f 131.5px,#fff 132.5px,#fff 264.5px)"></i>
<i style="height:1px;background:linear-gradient(90deg,#f00 0.5px,#ff0100 24.5px,#fffb00 75.5px,#00fe01 76.5px,#00f 125.5px,#00f 134.5px,#fff 135.5px,#fff 264.5px)"></i>
<i style="height:1px;background:linear-gradient(90deg,#f00 0.5px,#ff0400 25.5px,#fffd00 77.5px,#00fd02 78.5px,#00f 128.5px,#00f 137.5px,#fff 138.5px,#fff 264.5px)"></i>
<i style="height:1px;background:linear-gradient(90deg,#f00 0.5px,#ff0100 25.5px,#fffe00 79.5px,#00fb04 80.5px,#00f 131.5px,#00f 140.5px,#fff 141.5px,#fff 264.5px)"></i>
<i style="height:1px;background:linear-gradient(90deg,#f00 0.5px,#ff0300 26.5px,#ff0 81.5px,#00fb04 82.5px,#00f 134.5px,#00f 143.5px,#fff 144.5px,#fff 264.5px)"></i>
<i style="height:1px;background:linear-gradient(90deg,#f00 0.5px,#ff0500 27.5px,#fffb00 82.5px,#0f0 83.5px,#00f 137.5px,#00f 147.5px,#fff 148.5px,#fff 264.5px)"></i>
<i style="height:1px;background:linear-gradient(90deg,#f00 0.5px,#ff0200 27.5px,#fffb00 84.5px,#0f0 85.5px,#00f 141.5px,#00f 150.5px,#fff 151.5px,#fff 264.5px)"></i>
<i style="height:1px;background:linear-gradient(90deg,#f00 0.5px,#ff0300 28.5px,#ff0 87.5px,#00fb04 88.5px,#00f 144.5px,#00f 154.5px,#fff 155.5px,#fff 264.5px)"></i>
<i style="height:1px;background:linear-gradient(90deg,#f00 0.5px,#ff0400 29.5px,#fffe00 89.5px,#00fc03 90.5px,#00f 148.5px,#00f 158.5px,#fff 159.5px,#fff 264.5px)"></i>
<i style="height:1px;background:linear-gradient(90deg,#f00 0.5px,#ff0500 30.5px,#fffd00 91.5px,#00fd02 92.5px,#00f 152.5px,#00f 162.5px,#fff 163.5px,#fff 264.5px)"></i>
<i style="height:1px;background:linear-gradient(90deg,#f00 0.5px,#ff0200 30.5px,#ff0 94.5px,#00fb04 95.5px,#00f 156.5px,#00f 167.5px,#fff 168.5px,#fff 264.5px)"></i>
<i style="height:1px;background:linear-gradient(90deg,#f00 0.5px,#ff0300 31.5px,#fffd00 96.5px,#00fd02 97.5px,#00f 160.5px,#00f 172.5px,#fff 173.5px,#fff 264.5px)"></i>
<i style="height:1px;background:linear-gradient(90deg,#f00 0.5px,#ff0300 32.5px,#fffe00 99.5px,#00fc03 100.5px,#00f 164.5px,#00f 177.5px,#fff 178.5px,#fff 264.5px)"></i>
<i style="height:1px;background:linear-gradient(90deg,#f00 0.5px,#ff0300 33.5px,#fffe00 102.5px,#00fc03 103.5px,#00f 169.5px,#00f 182.5px,#fff 183.5px,#fff 264.5px)"></i>
<i style="height:1px;background:linear-gradient(90deg,#f00 0.5px,#ff0400 34.5px,#fffe00 105.5px,#00fc03 106.5px,#00f 174.5px,#00f 187.5px,#fff 188.5px,#fff 264.5px)"></i>
<i style="height:1px;background:linear-gradient(90deg,#f00 0.5px,#ff0300 35.5px,#fffd00 108.5px,#00fd02 109.5px,#00f 180.5px,#00f 193.5px,#fff 194.5px,#fff 264.5px)"></i>
<i style="height:1px;background:linear-gradient(90deg,#f00 0.5px,#ff0300 36.5px,#fffc00 111.5px,#0f0 112.5px,#00f 185.5px,#00f 200.5px,#fff 201.5px,#fff 264.5px)"></i>
<i style="height:1px;background:linear-gradient(90deg,#f00 0.5px,#ff0200 37.5px,#fffd00 115.5px,#00fe01 116.5px,#00f 191.5px,#00f 207.5px,#fff 208.5px,#fff 264.5px)"></i>
<i style="height:1px;background:linear-gradient(90deg,#f00 0.5px,#ff0500 39.5px,#fffe00 119.5px,#00fd02 120.5px,#00f 198.5px,#00f 214.5px,#fff 215.5px,#fff 264.5px)"></i>
<i style="height:1px;background:linear-gradient(90deg,#f00 0.5px,#ff0400 40.5px,#fffd00 123.5px,#00fe01 124.5px,#00f 205.5px,#00f 222.5px,#fff 223.5px,#fff 264.5px)"></i>
<i style="height:1px;background:linear-gradient(90deg,#f00 0.5px,#ff0500 42.5px,#ff0 128.5px,#00fc03 129.5px,#00f 212.5px,#00f 230.5px,#fff 231.5px,#fff 264.5px)"></i>
<i style="height:1px;background:linear-gradient(90deg,#f00 0.5px,#ff0400 43.5px,#fffc00 132.5px,#0f0 133.5px,#00f 220.5px,#00f 239.5px,#fff 240.5px,#fff 264.5px)"></i>
<i style="height:1px;background:linear-gradient(90deg,#f00 0.5px,#ff0400 45.5px,#ff0 138.5px,#00fd02 139.5px,#00f 229.5px,#00f 249.5px,#fff 250.5px,#fff 264.5px)"></i>
<i style="height:1px;background:linear-gradient(90deg,#f00 0.5px,#ff0500 47.5px,#fffd00 143.5px,#00fe01 144.5px,#00f 238.5px,#00f 260.5px,#fff 261.5px,#fff 264.5px)"></i>
<i style="height:1px;background:linear-gradient(90deg,#f00 0.5px,#ff0500 49.5px,#fffd00 149.5px,#0f0 150.5px,#00f 248.5px,#00f 264.5px)"></i>
<i style="height:1px;background:linear-gradient(90deg,#f00 0.5px,#ff0400 51.5px,#fffe00 156.5px,#00fe01 157.5px,#00f 259.5px,#00f 264.5px)"></i>
<i style="height:1px;background:linear-gradient(90deg,#f00 0.5px,#ff0400 53.5px,#fffd00 163.5px,#00fe01 164.5px,#000df2 264.5px)"></i>
<i style="height:1px;background:linear-gradient(90deg,#f00 0.5px,#ff0400 56.5px,#fffe00 171.5px,#00fe01 172.5px,#002bd4 264.5px)"></i>
<i style="height:1px;background:linear-gradient(90deg,#f00 0.5px,#ff0500 59.5px,#fffe00 180.5px,#00fe01 181.5px,#0048b7 264.5px)"></i>
<i style="height:1px;background:linear-gradient(90deg,#f00 0.5px,#ff0400 62.5px,#ff0 190.5px,#00fd02 191.5px,#00659a 264.5px)"></i>
<i style="height:1px;background:linear-gradient(90deg,#f00 0.5px,#ff0300 65.5px,#fffd00 200.5px,#0f0 201.5px,#00837c 264.5px)"></i>
<i style="height:1px;background:linear-gradient(90deg,#f00 0.5px,#ff0400 69.5px,#fffd00 212.5px,#0f0 213.5px,#00a05f 264.5px)"></i>
<i style="height:1px;background:linear-gradient(90deg,#f00 0.5px,#ff0500 74.5px,#fffe00 226.5px,#00fe01 227.5px,#00be41 264.5px)"></i>
<i style="height:1px;background:linear-gradient(90deg,#f00 0.5px,#ff0400 79.5px,#fffe00 241.5px,#0f0 242.5px,#00db24 264.5px)"></i>
<i style="height:1px;background:linear-gradient(90deg,#f00 0.5px,#ff0500 85.5px,#fffe00 259.5px,#00fe01 260.5px,#00f807 264.5px)"></i>
<i style="height:1px;background:linear-gradient(90deg,#f00 0.5px,#ff0500 92.5px,#ffea00 264.5px)"></i>
<i style="height:1px;background:linear-gradient(90deg,#f00 0.5px,#ff0500 100.5px,#ffce00 264.5px)"></i>
<i style="height:1px;background:linear-gradient(90deg,#f00 0.5px,#ff0500 109.5px,#ffb200 264.5px)"></i>
<i style="height:1px;background:linear-gradient(90deg,#f00 0.5px,#ff0400 120.5px,#ff9600 264.5px)"></i>
<i style="height:1px;background:linear-gradient(90deg,#f00 0.5px,#ff0500 134.5px,#ff7b00 264.5px)"></i>
<i style="height:1px;background:linear-gradient(90deg,#f00 0.5px,#ff0500 152.5px,#ff5f00 264.5px)"></i>
<i style="height:1px;background:linear-gradient(90deg,#f00 0.5px,#ff0500 175.5px,#ff4300 264.5px)"></i>
<i style="height:1px;background:linear-gradient(90deg,#f00 0.5px,#ff0500 206.5px,#ff2800 264.5px)"></i>
<i style="height:1px;background:linear-gradient(90deg,#f00 0.5px,#ff0500 250.5px,#ff0c00 264.5px)"></i>
<i style="height:1px;background:linear-gradient(90deg,#f00 0.5px,#f00 264.5px)"></i>
<i style="height:1px;background:linear-gradient(90deg,#f00 0.5px,#f00 264.5px)"></i>
<i style="height:1px;background:linear-gradient(90deg,#f00 0.5px,#f00 264.5px)"></i>
</div>
<div class="cb" style="left:939.0px;top:45.1px;width:13.2px;height:264.4px;background:linear-gradient(180deg,#f00 0,#ff0 88.9px,#0f0 88.9px,#00f 100%)"></div>
<div class="hm" style="left:112px;top:501px;width:266px;height:265px">
<i style="height:1px;background:linear-gradient(90deg,#ff2a00 0.5px,#ff9600 147.5px,#ffce00 265.5px)"></i>
<i style="height:1px;background:linear-gradient(90deg,#ff2b00 0.5px,#ff9700 147.5px,#ffcf00 265.5px)"></i>
<i style="height:1px;background:linear-gradient(90deg,#ff2c00 0.5px,#ff9700 147.5px,#ffd000 265.5px)"></i>
<i style="height:1px;background:linear-gradient(90deg,#ff2d00 0.5px,#ff9800 147.5px,#ffd000 265.5px)"></i>
<i style="height:1px;background:linear-gradient(90deg,#ff2d00 0.5px,#ff9800 147.5px,#ffd100 265.5px)"></i>
<i style="height:1px;background:linear-gradient(90deg,#ff2e00 0.5px,#f90 147.5px,#ffd100 265.5px)"></i>
<i style="height:1px;background:linear-gradient(90deg,#ff2f00 0.5px,#ff9a00 147.5px,#ffd200 265.5px)"></i>
<i style="height:1px;background:linear-gradient(90deg,#ff3000 0.5px,#ff9a00 147.5px,#ffd200 265.5px)"></i>
<i style="height:1px;background:linear-gradient(90deg,#ff3000 0.5px,#ff9b00 147.5px,#ffd300 265.5px)"></i>
<i style="height:1px;background:linear-gradient(90deg,#ff3100 0.5px,#ff9b00 147.5px,#ffd300 265.5px)"></i>
<i style="height:1px;background:linear-gradient(90deg,#ff3200 0.5px,#ff9c00 147.5px,#ffd400 265.5px)"></i>
<i style="height:1px;background:linear-gradient(90deg,#f30 0.5px,#ff9d00 147.5px,#ffd400 265.5px)"></i>
<i style="height:1px;background:linear-gradient(90deg,#ff3400 0.5px,#ff9d00 147.5px,#ffd500 265.5px)"></i>
<i style="height:1px;background:linear-gradient(90deg,#ff3400 0.5px,#ff9e00 147.5px,#ffd500 265.5px)"></i>
<i style="height:1px;background:linear-gradient(90deg,#ff3500 0.5px,#ff9f00 147.5px,#ffd600 265.5px)"></i>
<i style="height:1px;background:linear-gradient(90deg,#ff3600 0.5px,#ff9f00 147.5px,#ffd700 265.5px)"></i>
<i style="height:1px;background:linear-gradient(90deg,#ff3700 0.5px,#ffa000 147.5px,#ffd700 265.5px)"></i>
<i style="height:1px;background:linear-gradient(90deg,#ff3700 0.5px,#ffa000 147.5px,#ffd800 265.5px)"></i>
<i style="height:1px;background:linear-gradient(90deg,#ff3800 0.5px,#ffa100 147.5px,#ffd800 265.5px)"></i>
<i style="height:1px;background:linear-gradient(90deg,#ff3900 0.5px,#ffa200 147.5px,#ffd900 265.5px)"></i>
<i style="height:1px;background:linear-gradient(90deg,#ff3a00 0.5px,#ffa200 147.5px,#ffd900 265.5px)"></i>
<i style="height:1px;background:linear-gradient(90deg,#ff3b00 0.5px,#ffa300 147.5px,#ffda00 265.5px)"></i>
<i style="height:1px;background:linear-gradient(90deg,#ff3b00 0.5px,#ffa400 147.5px,#ffda00 265.5px)"></i>
<i style="height:1px;background:linear-gradient(90deg,#ff3c00 0.5px,#ffa400 147.5px,#ffdb00 265.5px)"></i>
<i style="height:1px;background:linear-gradient(90deg,#ff3d00 0.5px,#ffa500 147.5px,#ffdc00 265.5px)"></i>
<i style="height:1px;background:linear-gradient(90deg,#ff3e00 0.5px,#ffa600 148.5px,#ffdc00 265.5px)"></i>
<i style="height:1px;background:linear-gradient(90deg,#ff3f00 0.5px,#ffa700 148.5px,#fd0 265.5px)"></i>
<i style="height:1px;background:linear-gradient(90deg,#ff3f00 0.5px,#ffa700 148.5px,#fd0 265.5px)"></i>
<i style="height:1px;background:linear-gradient(90deg,#ff4000 0.5px,#ffa800 148.5px,#ffde00 265.5px)"></i>
<i style="height:1px;background:linear-gradient(90deg,#ff4100 0.5px,#ffa800 148.5px,#ffde00 265.5px)"></i>
<i style="height:1px;background:linear-gradient(90deg,#ff4200 0.5px,#ffa900 148.5px,#ffdf00 265.5px)"></i>
<i style="height:1px;background:linear-gradient(90deg,#ff4200 0.5px,#fa0 148.5px,#ffe000 265.5px)"></i>
<i style="height:1px;background:linear-gradient(90deg,#ff4300 0.5px,#fa0 148.5px,#ffe000 265.5px)"></i>
<i style="height:1px;background:linear-gradient(90deg,#f40 0.5px,#ffab00 148.5px,#ffe100 265.5px)"></i>
<i style="height:1px;background:linear-gradient(90deg,#ff4500 0.5px,#ffac00 148.5px,#ffe100 265.5px)"></i>
<i style="height:1px;background:linear-gradient(90deg,#ff4600 0.5px,#ffac00 148.5px,#ffe200 265.5px)"></i>
<i style="height:1px;background:linear-gradient(90deg,#ff4600 0.5px,#ffad00 148.5px,#ffe300 265.5px)"></i>
<i style="height:1px;background:linear-gradient(90deg,#ff4700 0.5px,#ffad00 148.5px,#ffe300 265.5px)"></i>
<i style="height:1px;background:linear-gradient(90deg,#ff4800 0.5px,#ffae00 148.5px,#ffe400 265.5px)"></i>
<i style="height:1px;background:linear-gradient(90deg,#ff4900 0.5px,#ffaf00 148.5px,#ffe400 265.5px)"></i>
<i style="height:1px;background:linear-gradient(90deg,#ff4a00 0.5px,#ffaf00 148.5px,#ffe500 265.5px)"></i>
<i style="height:1px;background:linear-gradient(90deg,#ff4a00 0.5px,#ffb000 148.5px,#ffe500 265.5px)"></i>
<i style="height:1px;background:linear-gradient(90deg,#ff4b00 0.5px,#ffb100 148.5px,#ffe600 265.5px)"></i>
<i style="height:1px;background:linear-gradient(90deg,#ff4c00 0.5px,#ffb100 148.5px,#ffe700 265.5px)"></i>
<i style="height:1px;background:linear-gradient(90deg,#ff4d00 0.5px,#ffb200 148.5px,#ffe700 265.5px)"></i>
<i style="height:1px;background:linear-gradient(90deg,#ff4e00 0.5px,#ffb300 149.5px,#ffe800 265.5px)"></i>
<i style="height:1px;background:linear-gradient(90deg,#ff4e00 0.5px,#ffb400 149.5px,#ffe900 265.5px)"></i>
<i style="height:1px;background:linear-gradient(90deg,#ff4f00 0.5px,#ffb400 149.5px,#ffe900 265.5px)"></i>
<i style="height:1px;background:linear-gradient(90deg,#ff5000 0.5px,#ffb500 149.5px,#ffea00 265.5px)"></i>
<i style="height:1px;background:linear-gradient(90deg,#ff5100 0.5px,#ffb600 149.5px,#ffea00 265.5px)"></i>
<i style="height:1px;background:linear-gradient(90deg,#ff5200 0.5px,#ffb600 149.5px,#ffeb00 265.5px)"></i>
<i style="height:1px;background:linear-gradient(90deg,#ff5200 0.5px,#ffb700 149.5px,#ffec00 265.5px)"></i>
<i style="height:1px;background:linear-gradient(90deg,#ff5300 0.5px,#ffb800 149.5px,#ffec00 265.5px)"></i>
<i style="height:1px;background:linear-gradient(90deg,#ff5400 0.5px,#ffb800 149.5px,#ffed00 265.5px)"></i>
<i style="height:1px;background:linear-gradient(90deg,#f50 0.5px,#ffb900 149.5px,#fe0 265.5px)"></i>
<i style="height:1px;background:linear-gradient(90deg,#ff5600 0.5px,#ffba00 149.5px,#fe0 265.5px)"></i>
<i style="height:1px;background:linear-gradient(90deg,#ff5600 0.5px,#ffba00 149.5px,#ffef00 265.5px)"></i>
<i style="height:1px;background:linear-gradient(90deg,#ff5700 0.5px,#fb0 149.5px,#ffef00 265.5px)"></i>
<i style="height:1px;background:linear-gradient(90deg,#ff5800 0.5px,#ffbc00 149.5px,#fff000 265.5px)"></i>
<i style="height:1px;background:linear-gradient(90deg,#ff5900 0.5px,#ffbc00 149.5px,#fff100 265.5px)"></i>
<i style="height:1px;background:linear-gradient(90deg,#ff5a00 0.5px,#ffbd00 150.5px,#fff100 265.5px)"></i>
<i style="height:1px;background:linear-gradient(90deg,#ff5b00 0.5px,#ffbe00 150.5px,#fff200 265.5px)"></i>
<i style="height:1px;background:linear-gradient(90deg,#ff5b00 0.5px,#ffbf00 150.5px,#fff300 265.5px)"></i>
<i style="height:1px;background:linear-gradient(90deg,#ff5c00 0.5px,#ffbf00 150.5px,#fff300 265.5px)"></i>
<i style="height:1px;background:linear-gradient(90deg,#ff5d00 0.5px,#ffc000 150.5px,#fff400 265.5px)"></i>
<i style="height:1px;background:linear-gradient(90deg,#ff5e00 0.5px,#ffc100 150.5px,#fff500 265.5px)"></i>
<i style="height:1px;background:linear-gradient(90deg,#ff5f00 0.5px,#ffc100 150.5px,#fff600 265.5px)"></i>
<i style="height:1px;background:linear-gradient(90deg,#ff5f00 0.5px,#ffc200 150.5px,#fff600 265.5px)"></i>
<i style="height:1px;background:linear-gradient(90deg,#ff6000 0.5px,#ffc300 150.5px,#fff700 265.5px)"></i>
<i style="height:1px;background:linear-gradient(90deg,#ff6100 0.5px,#ffc300 150.5px,#fff800 265.5px)"></i>
<i style="height:1px;background:linear-gradient(90deg,#ff6200 0.5px,#ffc400 150.5px,#fff900 265.5px)"></i>
<i style="height:1px;background:linear-gradient(90deg,#ff6300 0.5px,#ffc500 151.5px,#fff900 265.5px)"></i>
<i style="height:1px;background:linear-gradient(90deg,#ff6400 0.5px,#ffc600 151.5px,#fffa00 265.5px)"></i>
<i style="height:1px;background:linear-gradient(90deg,#ff6400 0.5px,#ffc600 151.5px,#fffb00 265.5px)"></i>
<i style="height:1px;background:linear-gradient(90deg,#ff6500 0.5px,#ffc700 151.5px,#fffc00 265.5px)"></i>
<i style="height:1px;background:linear-gradient(90deg,#f60 0.5px,#ffc800 151.5px,#fffd00 265.5px)"></i>
<i style="height:1px;background:linear-gradient(90deg,#ff6700 0.5px,#ffc900 151.5px,#fffe00 265.5px)"></i>
<i style="height:1px;background:linear-gradient(90deg,#ff6800 0.5px,#ffc900 151.5px,#ff0 265.5px)"></i>
<i style="height:1px;background:linear-gradient(90deg,#ff6800 0.5px,#ffca00 151.5px,#fffe00 263.5px,#0f0 264.5px,#00fd02 265.5px)"></i>
<i style="height:1px;background:linear-gradient(90deg,#ff6900 0.5px,#ffcb00 151.5px,#fffe00 261.5px,#0f0 262.5px,#00fb04 265.5px)"></i>
<i style="height:1px;background:linear-gradient(90deg,#ff6a00 0.5px,#fc0 152.5px,#ff0 260.5px,#00fe01 261.5px,#00f906 265.5px)"></i>
<i style="height:1px;background:linear-gradient(90deg,#ff6b00 0.5px,#fc0 152.5px,#ff0 258.5px,#0f0 259.5px,#00f807 265.5px)"></i>
<i style="height:1px;background:linear-gradient(90deg,#ff6c00 0.5px,#ffcd00 152.5px,#fffe00 256.5px,#0f0 257.5px,#00f609 265.5px)"></i>
<i style="height:1px;background:linear-gradient(90deg,#ff6d00 0.5px,#ffce00 152.5px,#ff0 255.5px,#00fe01 256.5px,#00f40b 265.5px)"></i>
<i style="height:1px;background:linear-gradient(90deg,#ff6d00 0.5px,#ffce00 152.5px,#ff0 253.5px,#00fe01 254.5px,#00f20d 265.5px)"></i>
<i style="height:1px;background:linear-gradient(90deg,#ff6e00 0.5px,#ffcf00 152.5px,#fffe00 251.5px,#0f0 252.5px,#00f00f 265.5px)"></i>
<i style="height:1px;background:linear-gradient(90deg,#ff6f00 0.5px,#ffd000 152.5px,#ff0 250.5px,#00fe01 251.5px,#0e1 265.5px)"></i>
<i style="height:1px;background:linear-gradient(90deg,#ff7000 0.5px,#ffd100 153.5px,#ff0 248.5px,#00fe01 249.5px,#00ec13 265.5px)"></i>
<i style="height:1px;background:linear-gradient(90deg,#ff7100 0.5px,#ffd200 153.5px,#fffe00 246.5px,#0f0 247.5px,#00ea15 265.5px)"></i>
<i style="height:1px;background:linear-gradient(90deg,#ff7200 0.5px,#ffd200 153.5px,#ff0 245.5px,#00fe01 246.5px,#00e817 265.5px)"></i>
<i style="height:1px;background:linear-gradient(90deg,#ff7200 0.5px,#ffd300 153.5px,#ff0 243.5px,#00fe01 244.5px,#00e619 265.5px)"></i>
<i style="height:1px;background:linear-gradient(90deg,#ff7300 0.5px,#ffd400 153.5px,#fffe00 241.5px,#0f0 242.5px,#00e41b 265.5px)"></i>
<i style="height:1px;background:linear-gradient(90deg,#ff7400 0.5px,#ffd500 153.5px,#fffe00 239.5px,#0f0 240.5px,#00e21d 265.5px)"></i>
<i style="height:1px;background:linear-gradient(90deg,#ff7500 0.5px,#ffd600 154.5px,#ff0 238.5px,#00fe01 239.5px,#00e01f 265.5px)"></i>
<i style="height:1px;background:linear-gradient(90deg,#ff7600 0.5px,#ffd600 154.5px,#ff0 236.5px,#00fe01 237.5px,#00de21 265.5px)"></i>
<i style="height:1px;background:linear-gradient(90deg,#f70 0.5px,#ffd700 154.5px,#fffe00 234.5px,#0f0 235.5px,#00dc23 265.5px)"></i>
<i style="height:1px;background:linear-gradient(90deg,#f70 0.5px,#ffd800 154.5px,#ff0 233.5px,#00fe01 234.5px,#00da25 265.5px)"></i>
<i style="height:1px;background:linear-gradient(90deg,#ff7800 0.5px,#ffd900 154.5px,#ff0 231.5px,#00fe01 232.5px,#00d827 265.5px)"></i>
<i style="height:1px;background:linear-gradient(90deg,#ff7900 0.5px,#ffda00 155.5px,#fffe00 229.5px,#0f0 230.5px,#00d629 265.5px)"></i>
<i style="height:1px;background:linear-gradient(90deg,#ff7a00 0.5px,#ffdb00 155.5px,#ff0 228.5px,#00fe01 229.5px,#00d42b 265.5px)"></i>
<i style="height:1px;background:linear-gradient(90deg,#ff7b00 0.5px,#ffdb00 155.5px,#ff0 226.5px,#00fe01 227.5px,#00d22d 265.5px)"></i>
<i style="height:1px;background:linear-gradient(90deg,#ff7c00 0.5px,#ffdc00 155.5px,#fffe00 224.5px,#0f0 225.5px,#00d02f 265.5px)"></i>
<i style="height:1px;background:linear-gradient(90deg,#ff7c00 0.5px,#fd0 156.5px,#fffe00 222.5px,#0f0 223.5px,#00ce31 265.5px)"></i>
<i style="height:1px;background:linear-gradient(90deg,#ff7d00 0.5px,#ffde00 156.5px,#ff0 221.5px,#00fe01 222.5px,#0c3 265.5px)"></i>
<i style="height:1px;background:linear-gradient(90deg,#ff7e00 0.5px,#ffdf00 156.5px,#ff0 219.5px,#00fe01 220.5px,#00ca35 265.5px)"></i>
<i style="height:1px;background:linear-gradient(90deg,#ff7f00 0.5px,#ffe000 157.5px,#fffe00 217.5px,#0f0 218.5px,#00c837 265.5px)"></i>
<i style="height:1px;background:linear-gradient(90deg,#ff8000 0.5px,#ffe100 157.5px,#ff0 216.5px,#00fe01 217.5px,#00c639 265.5px)"></i>
<i style="height:1px;background:linear-gradient(90deg,#ff8100 0.5px,#ffe100 157.5px,#ff0 214.5px,#00fe01 215.5px,#00c43b 265.5px)"></i>
<i style="height:1px;background:linear-gradient(90deg,#ff8200 0.5px,#ffe300 158.5px,#fffe00 212.5px,#0f0 213.5px,#00c23d 265.5px)"></i>
<i style="height:1px;background:linear-gradient(90deg,#ff8200 0.5px,#ffe300 158.5px,#ff0 211.5px,#00fe01 212.5px,#00c03f 265.5px)"></i>
<i style="height:1px;background:linear-gradient(90deg,#ff8300 0.5px,#ffe400 158.5px,#ff0 209.5px,#00fe01 210.5px,#00be41 265.5px)"></i>
<i style="height:1px;background:linear-gradient(90deg,#ff8400 0.5px,#ffe500 159.5px,#fffe00 207.5px,#0f0 208.5px,#00bc43 265.5px)"></i>
<i style="height:1px;background:linear-gradient(90deg,#ff8500 0.5px,#ffe600 159.5px,#fffe00 205.5px,#0f0 206.5px,#00ba45 265.5px)"></i>
<i style="height:1px;background:linear-gradient(90deg,#ff8600 0.5px,#ffe700 160.5px,#ff0 204.5px,#00fe01 205.5px,#00b847 265.5px)"></i>
<i style="height:1px;background:linear-gradient(90deg,#ff8700 0.5px,#ffe800 160.5px,#fffe00 202.5px,#00fe01 203.5px,#00b649 265.5px)"></i>
<i style="height:1px;background:linear-gradient(90deg,#f80 0.5px,#ffe900 161.5px,#fffe00 200.5px,#0f0 201.5px,#00b44b 265.5px)"></i>
<i style="height:1px;background:linear-gradient(90deg,#f80 0.5px,#ffeb00 162.5px,#ff0 199.5px,#00fe01 200.5px,#00b24d 265.5px)"></i>
<i style="height:1px;background:linear-gradient(90deg,#ff8900 0.5px,#ffeb00 162.5px,#ff0 197.5px,#00fe01 198.5px,#00b04f 265.5px)"></i>
<i style="height:1px;background:linear-gradient(90deg,#ff8a00 0.5px,#ffed00 163.5px,#fffe00 195.5px,#0f0 196.5px,#00ae51 265.5px)"></i>
<i style="height:1px;background:linear-gradient(90deg,#ff8b00 0.5px,#fe0 164.5px,#ff0 194.5px,#00fe01 195.5px,#00ac53 265.5px)"></i>
<i style="height:1px;background:linear-gradient(90deg,#ff8c00 0.5px,#ffef00 165.5px,#ff0 192.5px,#00fe01 193.5px,#0a5 265.5px)"></i>
<i style="height:1px;background:linear-gradient(90deg,#ff8d00 0.5px,#fff100 166.5px,#fffe00 190.5px,#0f0 191.5px,#00a857 265.5px)"></i>
<i style="height:1px;background:linear-gradient(90deg,#ff8e00 0.5px,#fff300 168.5px,#fffe00 188.5px,#0f0 189.5px,#00a659 265.5px)"></i>
<i style="height:1px;background:linear-gradient(90deg,#ff8e00 0.5px,#fff500 170.5px,#ff0 187.5px,#00fe01 188.5px,#00a45b 265.5px)"></i>
<i style="height:1px;background:linear-gradient(90deg,#ff8f00 0.5px,#fff700 173.5px,#fffe00 185.5px,#00fe01 186.5px,#00a25d 265.5px)"></i>
<i style="height:1px;background:linear-gradient(90deg,#ff9000 0.5px,#fffe00 183.5px,#0f0 184.5px,#00a05f 265.5px)"></i>
<i style="height:1px;background:linear-gradient(90deg,#ff9100 0.5px,#ff0 182.5px,#00fe01 183.5px,#009e61 265.5px)"></i>
<i style="height:1px;background:linear-gradient(90deg,#ff9200 0.5px,#ff0 180.5px,#00fe01 181.5px,#009c63 265.5px)"></i>
<i style="height:1px;background:linear-gradient(90deg,#ff9300 0.5px,#fffe00 178.5px,#0f0 179.5px,#009a65 265.5px)"></i>
<i style="height:1px;background:linear-gradient(90deg,#ff9400 0.5px,#ff0 177.5px,#00fe01 178.5px,#009867 265.5px)"></i>
<i style="height:1px;background:linear-gradient(90deg,#ff9500 0.5px,#ff0 175.5px,#00fe01 176.5px,#009669 265.5px)"></i>
<i style="height:1px;background:linear-gradient(90deg,#ff9500 0.5px,#fffe00 173.5px,#0f0 174.5px,#00946b 265.5px)"></i>
<i style="height:1px;background:linear-gradient(90deg,#ff9600 0.5px,#fffe00 171.5px,#0f0 172.5px,#00926d 265.5px)"></i>
<i style="height:1px;background:linear-gradient(90deg,#ff9700 0.5px,#ff0 170.5px,#00fe01 171.5px,#00906f 265.5px)"></i>
<i style="height:1px;background:linear-gradient(90deg,#ff9800 0.5px,#fffe00 168.5px,#00fe01 169.5px,#008e71 265.5px)"></i>
<i style="height:1px;background:linear-gradient(90deg,#f90 0.5px,#fffe00 166.5px,#0f0 167.5px,#008c73 265.5px)"></i>
<i style="height:1px;background:linear-gradient(90deg,#ff9a00 0.5px,#ff0 165.5px,#00fe01 166.5px,#008a75 265.5px)"></i>
<i style="height:1px;background:linear-gradient(90deg,#ff9b00 0.5px,#fffe00 163.5px,#00fe01 164.5px,#087 265.5px)"></i>
<i style="height:1px;background:linear-gradient(90deg,#ff9c00 0.5px,#fffe00 161.5px,#0f0 162.5px,#008679 265.5px)"></i>
<i style="height:1px;background:linear-gradient(90deg,#ff9c00 0.5px,#ff0 160.5px,#00fe01 161.5px,#00847b 265.5px)"></i>
<i style="height:1px;background:linear-gradient(90deg,#ff9d00 0.5px,#ff0 158.5px,#00fe01 159.5px,#00827d 265.5px)"></i>
<i style="height:1px;background:linear-gradient(90deg,#ff9e00 0.5px,#fffe00 156.5px,#0f0 157.5px,#00807f 265.5px)"></i>
<i style="height:1px;background:linear-gradient(90deg,#ff9f00 0.5px,#ff0 155.5px,#00fe01 156.5px,#007f80 265.5px)"></i>
<i style="height:1px;background:linear-gradient(90deg,#ffa000 0.5px,#ff0 153.5px,#00fe01 154.5px,#00ab54 225.5px,#007d82 265.5px)"></i>
<i style="height:1px;background:linear-gradient(90deg,#ffa100 0.5px,#fffe00 151.5px,#00fe01 152.5px,#0a5 223.5px,#007b84 265.5px)"></i>
<i style="height:1px;background:linear-gradient(90deg,#ffa200 0.5px,#fffe00 149.5px,#0f0 150.5px,#0a5 221.5px,#007986 265.5px)"></i>
<i style="height:1px;background:linear-gradient(90deg,#ffa300 0.5px,#ff0 148.5px,#00fe01 149.5px,#00a956 220.5px,#078 265.5px)"></i>
<i style="height:1px;background:linear-gradient(90deg,#ffa400 0.5px,#fffe00 146.5px,#00fe01 147.5px,#00a956 218.5px,#00758a 265.5px)"></i>
<i style="height:1px;background:linear-gradient(90deg,#ffa500 0.5px,#fffe00 144.5px,#0f0 145.5px,#00a956 216.5px,#00738c 265.5px)"></i>
<i style="height:1px;background:linear-gradient(90deg,#ffa500 0.5px,#ff0 143.5px,#00fe01 144.5px,#00a857 215.5px,#00718e 265.5px)"></i>
<i style="height:1px;background:linear-gradient(90deg,#ffa600 0.5px,#ff0 141.5px,#00fe01 142.5px,#00a758 213.5px,#006f90 265.5px)"></i>
<i style="height:1px;background:linear-gradient(90deg,#ffa700 0.5px,#fffe00 139.5px,#0f0 140.5px,#00a758 211.5px,#006d92 265.5px)"></i>
<i style="height:1px;background:linear-gradient(90deg,#ffa800 0.5px,#ff0 138.5px,#00fe01 139.5px,#00a659 210.5px,#006b94 265.5px)"></i>
<i style="height:1px;background:linear-gradient(90deg,#ffa900 0.5px,#ff0 136.5px,#00fe01 137.5px,#00a659 208.5px,#006996 265.5px)"></i>
<i style="height:1px;background:linear-gradient(90deg,#fa0 0.5px,#fffe00 134.5px,#00fe01 135.5px,#00a659 206.5px,#006798 265.5px)"></i>
<i style="height:1px;background:linear-gradient(90deg,#ffab00 0.5px,#fffe00 132.5px,#0f0 133.5px,#00a55a 204.5px,#00659a 265.5px)"></i>
<i style="height:1px;background:linear-gradient(90deg,#ffac00 0.5px,#ff0 131.5px,#00fe01 132.5px,#00a45b 203.5px,#00639c 265.5px)"></i>
<i style="height:1px;background:linear-gradient(90deg,#ffad00 0.5px,#fffe00 129.5px,#00fe01 130.5px,#00a45b 201.5px,#00619e 265.5px)"></i>
<i style="height:1px;background:linear-gradient(90deg,#ffae00 0.5px,#fffe00 127.5px,#0f0 128.5px,#00a45b 199.5px,#005fa0 265.5px)"></i>
<i style="height:1px;background:linear-gradient(90deg,#ffaf00 0.5px,#ff0 126.5px,#00fe01 127.5px,#00a35c 198.5px,#005da2 265.5px)"></i>
<i style="height:1px;background:linear-gradient(90deg,#ffaf00 0.5px,#fffe00 124.5px,#00fe01 125.5px,#00a35c 196.5px,#005ba4 265.5px)"></i>
<i style="height:1px;background:linear-gradient(90deg,#ffb000 0.5px,#fffe00 122.5px,#0f0 123.5px,#00a25d 194.5px,#0059a6 265.5px)"></i>
<i style="height:1px;background:linear-gradient(90deg,#ffb100 0.5px,#ff0 121.5px,#00fd02 122.5px,#00a15e 193.5px,#0057a8 265.5px)"></i>
<i style="height:1px;background:linear-gradient(90deg,#ffb200 0.5px,#ff0 119.5px,#00fe01 120.5px,#00a15e 191.5px,#0057a8 263.5px,#05a 265.5px)"></i>
<i style="height:1px;background:linear-gradient(90deg,#ffb300 0.5px,#fffe00 117.5px,#00fe01 118.5px,#00a15e 189.5px,#0056a9 262.5px,#0053ac 265.5px)"></i>
<i style="height:1px;background:linear-gradient(90deg,#ffb400 0.5px,#fffe00 115.5px,#0f0 116.5px,#00a15e 187.5px,#0057a8 260.5px,#0051ae 265.5px)"></i>
<i style="height:1px;background:linear-gradient(90deg,#ffb500 0.5px,#ff0 114.5px,#00fe01 115.5px,#00a05f 186.5px,#0056a9 259.5px,#004fb0 265.5px)"></i>
<i style="height:1px;background:linear-gradient(90deg,#ffb600 0.5px,#fffe00 112.5px,#00fe01 113.5px,#009f60 184.5px,#05a 258.5px,#004db2 265.5px)"></i>
<i style="height:1px;background:linear-gradient(90deg,#ffb700 0.5px,#fffe00 110.5px,#0f0 111.5px,#009f60 182.5px,#0053ac 258.5px,#004bb4 265.5px)"></i>
<i style="height:1px;background:linear-gradient(90deg,#ffb800 0.5px,#ff0 109.5px,#00fe01 110.5px,#009e61 181.5px,#0052ad 257.5px,#0049b6 265.5px)"></i>
<i style="height:1px;background:linear-gradient(90deg,#ffb900 0.5px,#fffe00 107.5px,#00fe01 108.5px,#009e61 179.5px,#0051ae 256.5px,#0047b8 265.5px)"></i>
<i style="height:1px;background:linear-gradient(90deg,#ffba00 0.5px,#fffe00 105.5px,#0f0 106.5px,#009e61 177.5px,#004fb0 256.5px,#0045ba 265.5px)"></i>
<i style="height:1px;background:linear-gradient(90deg,#fb0 0.5px,#ff0 104.5px,#00fd02 105.5px,#009d62 176.5px,#004fb0 255.5px,#0043bc 265.5px)"></i>
<i style="height:1px;background:linear-gradient(90deg,#ffbc00 0.5px,#ff0 102.5px,#00fe01 103.5px,#009c63 174.5px,#004db2 255.5px,#0041be 265.5px)"></i>
<i style="height:1px;background:linear-gradient(90deg,#ffbd00 0.5px,#fffe00 100.5px,#00fe01 101.5px,#009c63 172.5px,#004cb3 254.5px,#003fc0 265.5px)"></i>
<i style="height:1px;background:linear-gradient(90deg,#ffbe00 0.5px,#fffe00 98.5px,#0f0 99.5px,#009d62 169.5px,#004ab5 254.5px,#003dc2 265.5px)"></i>
<i style="height:1px;background:linear-gradient(90deg,#ffbe00 0.5px,#ff0 97.5px,#00fe01 98.5px,#009c63 168.5px,#0048b7 254.5px,#003bc4 265.5px)"></i>
<i style="height:1px;background:linear-gradient(90deg,#ffbf00 0.5px,#fffe00 95.5px,#00fe01 96.5px,#009e61 164.5px,#0046b9 254.5px,#0039c6 265.5px)"></i>
<i style="height:1px;background:linear-gradient(90deg,#ffc000 0.5px,#fffe00 93.5px,#0f0 94.5px,#009f60 161.5px,#04b 254.5px,#0037c8 265.5px)"></i>
<i style="height:1px;background:linear-gradient(90deg,#ffc100 0.5px,#ff0 92.5px,#00fe01 93.5px,#009e61 160.5px,#0042bd 254.5px,#0035ca 265.5px)"></i>
<i style="height:1px;background:linear-gradient(90deg,#ffc200 0.5px,#fffe00 90.5px,#00fe01 91.5px,#00a05f 156.5px,#003fc0 255.5px,#03c 265.5px)"></i>
<i style="height:1px;background:linear-gradient(90deg,#ffc300 0.5px,#fffe00 88.5px,#0f0 89.5px,#00a15e 153.5px,#005fa0 224.5px,#0031ce 265.5px)"></i>
<i style="height:1px;background:linear-gradient(90deg,#ffc400 0.5px,#ff0 87.5px,#00fd02 88.5px,#00a05f 152.5px,#005ea1 223.5px,#002fd0 265.5px)"></i>
<i style="height:1px;background:linear-gradient(90deg,#ffc500 0.5px,#fffe00 85.5px,#00fe01 86.5px,#00a25d 148.5px,#005ea1 219.5px,#002dd2 265.5px)"></i>
<i style="height:1px;background:linear-gradient(90deg,#ffc600 0.5px,#fffe00 83.5px,#00fe01 84.5px,#00a45b 145.5px,#005ea1 216.5px,#002bd4 265.5px)"></i>
<i style="height:1px;background:linear-gradient(90deg,#ffc700 0.5px,#ff0 82.5px,#00fd02 83.5px,#00a25d 144.5px,#005da2 215.5px,#0029d6 265.5px)"></i>
<i style="height:1px;background:linear-gradient(90deg,#ffc800 0.5px,#ff0 80.5px,#00fe01 81.5px,#00a55a 140.5px,#005ea1 211.5px,#0036c9 252.5px,#0027d8 265.5px)"></i>
<i style="height:1px;background:linear-gradient(90deg,#ffc900 0.5px,#fffe00 78.5px,#00fe01 79.5px,#00a659 137.5px,#005ea1 208.5px,#0039c6 248.5px,#0025da 265.5px)"></i>
<i style="height:1px;background:linear-gradient(90deg,#ffca00 0.5px,#fffe00 76.5px,#0f0 77.5px,#00a758 134.5px,#005ea1 205.5px,#0039c6 246.5px,#0023dc 265.5px)"></i>
<i style="height:1px;background:linear-gradient(90deg,#ffcb00 0.5px,#ff0 75.5px,#00fe01 76.5px,#00a758 132.5px,#005da2 203.5px,#0039c6 245.5px,#0021de 265.5px)"></i>
<i style="height:1px;background:linear-gradient(90deg,#fc0 0.5px,#fffe00 73.5px,#00fe01 74.5px,#00a758 130.5px,#005ca3 202.5px,#0038c7 244.5px,#001fe0 265.5px)"></i>
<i style="height:1px;background:linear-gradient(90deg,#ffcd00 0.5px,#fffe00 71.5px,#0f0 72.5px,#00a758 128.5px,#005ba4 201.5px,#0036c9 244.5px,#001de2 265.5px)"></i>
<i style="height:1px;background:linear-gradient(90deg,#ffce00 0.5px,#ff0 70.5px,#00fd02 71.5px,#00a659 127.5px,#0059a6 201.5px,#0035ca 243.5px,#001be4 265.5px)"></i>
<i style="height:1px;background:linear-gradient(90deg,#ffcf00 0.5px,#fffe00 68.5px,#00fe01 69.5px,#00a55a 125.5px,#0058a7 199.5px,#03c 243.5px,#0019e6 265.5px)"></i>
<i style="height:1px;background:linear-gradient(90deg,#ffd000 0.5px,#fffe00 66.5px,#00fe01 67.5px,#00a55a 123.5px,#0057a8 198.5px,#0032cd 242.5px,#0017e8 265.5px)"></i>
<i style="height:1px;background:linear-gradient(90deg,#ffd100 0.5px,#ff0 65.5px,#00fd02 66.5px,#00a45b 122.5px,#0054ab 198.5px,#0030cf 242.5px,#0015ea 265.5px)"></i>
<i style="height:1px;background:linear-gradient(90deg,#ffd200 0.5px,#ff0 63.5px,#00fe01 64.5px,#00a35c 120.5px,#0053ac 197.5px,#002ed1 242.5px,#0013ec 265.5px)"></i>
<i style="height:1px;background:linear-gradient(90deg,#ffd300 0.5px,#fffe00 61.5px,#00fe01 62.5px,#00a35c 118.5px,#0052ad 195.5px,#002dd2 241.5px,#01e 265.5px)"></i>
<i style="height:1px;background:linear-gradient(90deg,#ffd400 0.5px,#fffe00 59.5px,#0f0 60.5px,#00a35c 116.5px,#0051ae 194.5px,#002bd4 241.5px,#000ff0 265.5px)"></i>
<i style="height:1px;background:linear-gradient(90deg,#ffd500 0.5px,#ff0 58.5px,#00fd02 59.5px,#00a15e 115.5px,#004fb0 194.5px,#0029d6 241.5px,#000df2 265.5px)"></i>
<i style="height:1px;background:linear-gradient(90deg,#ffd600 0.5px,#fffe00 56.5px,#00fe01 57.5px,#00a15e 113.5px,#004eb1 192.5px,#0029d6 240.5px,#000bf4 265.5px)"></i>
<i style="height:1px;background:linear-gradient(90deg,#ffd700 0.5px,#fffe00 54.5px,#0f0 55.5px,#00a15e 111.5px,#004db2 191.5px,#0027d8 240.5px,#0009f6 265.5px)"></i>
<i style="height:1px;background:linear-gradient(90deg,#ffd800 0.5px,#ff0 53.5px,#00fd02 54.5px,#00a05f 110.5px,#004bb4 190.5px,#0025da 240.5px,#0007f8 265.5px)"></i>
<i style="height:1px;background:linear-gradient(90deg,#ffd900 0.5px,#fffe00 51.5px,#00fe01 52.5px,#009f60 108.5px,#004ab5 189.5px,#0023dc 240.5px,#0005fa 265.5px)"></i>
<i style="height:1px;background:linear-gradient(90deg,#ffdb00 0.5px,#fffe00 49.5px,#00fe01 50.5px,#009f60 106.5px,#0048b7 188.5px,#0021de 240.5px,#0004fb 265.5px)"></i>
<i style="height:1px;background:linear-gradient(90deg,#ffdc00 0.5px,#ff0 48.5px,#00fd02 49.5px,#009e61 105.5px,#0047b8 187.5px,#0020df 239.5px,#0002fd 265.5px)"></i>
<i style="height:1px;background:linear-gradient(90deg,#fd0 0.5px,#fffe00 46.5px,#00fe01 47.5px,#009d62 103.5px,#0045ba 186.5px,#001ee1 239.5px,#00f 265.5px)"></i>
<i style="height:1px;background:linear-gradient(90deg,#ffde00 0.5px,#fffe00 44.5px,#00fe01 45.5px,#009d62 101.5px,#04b 185.5px,#001ce3 239.5px,#00f 265.5px)"></i>
<i style="height:1px;background:linear-gradient(90deg,#ffdf00 0.5px,#fffe00 42.5px,#0f0 43.5px,#009d62 99.5px,#0043bc 183.5px,#001ae5 239.5px,#00f 265.5px)"></i>
<i style="height:1px;background:linear-gradient(90deg,#ffe000 0.5px,#ff0 41.5px,#00fd02 42.5px,#009b64 98.5px,#0041be 183.5px,#0018e7 239.5px,#00f 265.5px)"></i>
<i style="height:1px;background:linear-gradient(90deg,#ffe100 0.5px,#fffe00 39.5px,#00fe01 40.5px,#009b64 96.5px,#0040bf 181.5px,#0016e9 239.5px,#00f 263.5px,#00f 265.5px)"></i>
<i style="height:1px;background:linear-gradient(90deg,#ffe200 0.5px,#fffe00 37.5px,#0f0 38.5px,#009b64 94.5px,#003fc0 179.5px,#0014eb 239.5px,#00f 261.5px,#00f 265.5px)"></i>
<i style="height:1px;background:linear-gradient(90deg,#ffe300 0.5px,#ff0 36.5px,#00fd02 37.5px,#009a65 93.5px,#003fc0 177.5px,#0013ec 238.5px,#00f 260.5px,#00f 265.5px)"></i>
<i style="height:1px;background:linear-gradient(90deg,#ffe400 0.5px,#fffe00 34.5px,#00fe01 35.5px,#096 91.5px,#0040bf 173.5px,#0010ef 239.5px,#00f 259.5px,#00f 265.5px)"></i>
<i style="height:1px;background:linear-gradient(90deg,#ffe500 0.5px,#fffe00 32.5px,#0f0 33.5px,#096 89.5px,#0042bd 168.5px,#000ef1 239.5px,#00f 257.5px,#00f 265.5px)"></i>
<i style="height:1px;background:linear-gradient(90deg,#ffe700 0.5px,#ff0 31.5px,#00fd02 32.5px,#009867 88.5px,#0041be 166.5px,#000cf3 239.5px,#00f 257.5px,#00f 265.5px)"></i>
<i style="height:1px;background:linear-gradient(90deg,#ffe800 0.5px,#fffe00 29.5px,#00fe01 30.5px,#009768 86.5px,#0043bc 161.5px,#000af5 239.5px,#00f 256.5px,#00f 265.5px)"></i>
<i style="height:1px;background:linear-gradient(90deg,#ffe900 0.5px,#fffe00 27.5px,#00fe01 28.5px,#009768 84.5px,#0045ba 156.5px,#0008f7 239.5px,#00f 257.5px,#00f 265.5px)"></i>
<i style="height:1px;background:linear-gradient(90deg,#ffea00 0.5px,#fffe00 25.5px,#0f0 26.5px,#009768 82.5px,#0048b7 151.5px,#0016e9 222.5px,#00f 251.5px,#00f 265.5px)"></i>
<i style="height:1px;background:linear-gradient(90deg,#ffeb00 0.5px,#ff0 24.5px,#00fd02 25.5px,#009669 81.5px,#0048b7 148.5px,#0015ea 219.5px,#00f 250.5px,#00f 265.5px)"></i>
<i style="height:1px;background:linear-gradient(90deg,#ffec00 0.5px,#fffe00 22.5px,#00fe01 23.5px,#00956a 79.5px,#004bb4 143.5px,#0015ea 214.5px,#00f 249.5px,#00f 265.5px)"></i>
<i style="height:1px;background:linear-gradient(90deg,#fe0 0.5px,#fffe00 20.5px,#0f0 21.5px,#00956a 77.5px,#004fb0 136.5px,#0017e8 207.5px,#0001fe 238.5px,#00f 265.5px)"></i>
<i style="height:1px;background:linear-gradient(90deg,#ffef00 0.5px,#ff0 19.5px,#00fd02 20.5px,#00926d 77.5px,#004db2 136.5px,#0015ea 207.5px,#00f 247.5px,#00f 265.5px)"></i>
<i style="height:1px;background:linear-gradient(90deg,#fff000 0.5px,#fffe00 17.5px,#00fe01 18.5px,#00936c 74.5px,#0050af 130.5px,#0015ea 203.5px,#00f 246.5px,#00f 265.5px)"></i>
<i style="height:1px;background:linear-gradient(90deg,#fff100 0.5px,#fffe00 15.5px,#0f0 16.5px,#00936c 72.5px,#004fb0 128.5px,#0012ed 203.5px,#00f 245.5px,#00f 265.5px)"></i>
<i style="height:1px;background:linear-gradient(90deg,#fff300 0.5px,#ff0 14.5px,#00fd02 15.5px,#00926d 71.5px,#004db2 127.5px,#0010ef 203.5px,#00f 246.5px,#00f 265.5px)"></i>
<i style="height:1px;background:linear-gradient(90deg,#fff400 0.5px,#fffe00 12.5px,#00fd02 13.5px,#009867 65.5px,#0050af 121.5px,#000ff0 201.5px,#00f 245.5px,#00f 265.5px)"></i>
<i style="height:1px;background:linear-gradient(90deg,#fff500 0.5px,#fffe00 10.5px,#00fe01 11.5px,#009d62 60.5px,#0052ad 116.5px,#000ef1 199.5px,#00f 245.5px,#00f 265.5px)"></i>
<i style="height:1px;background:linear-gradient(90deg,#fff600 0.5px,#ff0 9.5px,#00fc03 10.5px,#009f60 57.5px,#0052ad 113.5px,#000cf3 198.5px,#00f 246.5px,#00f 265.5px)"></i>
<i style="height:1px;background:linear-gradient(90deg,#fff800 0.5px,#ff0 7.5px,#00fd02 8.5px,#00a45b 52.5px,#05a 108.5px,#000bf4 196.5px,#00f 240.5px,#00f 265.5px)"></i>
<i style="height:1px;background:linear-gradient(90deg,#fff900 0.5px,#fffe00 5.5px,#00fe01 6.5px,#00ab54 46.5px,#0058a7 102.5px,#000bf4 192.5px,#00f 233.5px,#00f 265.5px)"></i>
<i style="height:1px;background:linear-gradient(90deg,#fffb00 0.5px,#fffe00 3.5px,#0f0 4.5px,#00b14e 41.5px,#005ba4 97.5px,#000bf4 189.5px,#00f 228.5px,#00f 265.5px)"></i>
<i style="height:1px;background:linear-gradient(90deg,#fffc00 0.5px,#ff0 2.5px,#00fd02 3.5px,#00b14e 39.5px,#005ba4 95.5px,#0009f6 188.5px,#00f 227.5px,#00f 265.5px)"></i>
<i style="height:1px;background:linear-gradient(90deg,#fffe00 0.5px,#00fe01 1.5px,#00b34c 36.5px,#0059a6 94.5px,#0007f8 188.5px,#00f 233.5px,#00f 265.5px)"></i>
<i style="height:1px;background:linear-gradient(90deg,#00fc03 0.5px,#00b04f 35.5px,#0056a9 94.5px,#0005fa 188.5px,#00f 265.5px)"></i>
<i style="height:1px;background:linear-gradient(90deg,#00f708 0.5px,#00ad52 35.5px,#0053ac 94.5px,#0003fc 188.5px,#00f 265.5px)"></i>
<i style="height:1px;background:linear-gradient(90deg,#00f20d 0.5px,#00a956 35.5px,#0050af 94.5px,#00f 188.5px,#00f 265.5px)"></i>
<i style="height:1px;background:linear-gradient(90deg,#0e1 0.5px,#00a55a 35.5px,#004db2 94.5px,#00f 186.5px,#00f 265.5px)"></i>
<i style="height:1px;background:linear-gradient(90deg,#00e916 0.5px,#00a25d 35.5px,#004ab5 94.5px,#00f 183.5px,#00f 265.5px)"></i>
<i style="height:1px;background:linear-gradient(90deg,#00e41b 0.5px,#009e61 35.5px,#0047b8 94.5px,#00f 180.5px,#00f 265.5px)"></i>
<i style="height:1px;background:linear-gradient(90deg,#00e01f 0.5px,#009a65 35.5px,#04b 94.5px,#00f 178.5px,#00f 265.5px)"></i>
<i style="height:1px;background:linear-gradient(90deg,#00db24 0.5px,#009768 35.5px,#0041be 94.5px,#00f 175.5px,#00f 265.5px)"></i>
<i style="height:1px;background:linear-gradient(90deg,#00d728 0.5px,#00936c 35.5px,#003cc3 95.5px,#00f 172.5px,#00f 265.5px)"></i>
<i style="height:1px;background:linear-gradient(90deg,#00d22d 0.5px,#008f70 35.5px,#0039c6 95.5px,#00f 169.5px,#00f 265.5px)"></i>
<i style="height:1px;background:linear-gradient(90deg,#00cd32 0.5px,#008c73 35.5px,#0036c9 95.5px,#00f 166.5px,#00f 265.5px)"></i>
<i style="height:1px;background:linear-gradient(90deg,#00c936 0.5px,#087 35.5px,#03c 95.5px,#00f 163.5px,#00f 265.5px)"></i>
<i style="height:1px;background:linear-gradient(90deg,#00c43b 0.5px,#00847b 35.5px,#0030cf 95.5px,#00f 160.5px,#00f 265.5px)"></i>
<i style="height:1px;background:linear-gradient(90deg,#00bf40 0.5px,#00817e 35.5px,#002dd2 95.5px,#00f 156.5px,#00f 265.5px)"></i>
<i style="height:1px;background:linear-gradient(90deg,#0b4 0.5px,#007d82 35.5px,#002ad5 95.5px,#00f 153.5px,#00f 265.5px)"></i>
<i style="height:1px;background:linear-gradient(90deg,#00b649 0.5px,#007986 35.5px,#0027d8 95.5px,#00f 151.5px,#00f 265.5px)"></i>
<i style="height:1px;background:linear-gradient(90deg,#00b14e 0.5px,#00758a 35.5px,#0024db 95.5px,#00f 148.5px,#00f 265.5px)"></i>
<i style="height:1px;background:linear-gradient(90deg,#00ad52 0.5px,#00728d 35.5px,#0020df 96.5px,#00f 145.5px,#00f 265.5px)"></i>
<i style="height:1px;background:linear-gradient(90deg,#00a857 0.5px,#006e91 35.5px,#001de2 96.5px,#00f 143.5px,#00f 265.5px)"></i>
<i style="height:1px;background:linear-gradient(90deg,#00a35c 0.5px,#006a95 35.5px,#001ae5 96.5px,#00f 139.5px,#00f 265.5px)"></i>
<i style="height:1px;background:linear-gradient(90deg,#009f60 0.5px,#006798 35.5px,#0017e8 96.5px,#00f 135.5px,#00f 265.5px)"></i>
<i style="height:1px;background:linear-gradient(90deg,#009a65 0.5px,#00639c 35.5px,#0014eb 96.5px,#00f 130.5px,#00f 265.5px)"></i>
<i style="height:1px;background:linear-gradient(90deg,#00956a 0.5px,#005fa0 35.5px,#01e 96.5px,#00f 126.5px,#00f 265.5px)"></i>
<i style="height:1px;background:linear-gradient(90deg,#00916e 0.5px,#005ca3 35.5px,#000ef1 96.5px,#00f 123.5px,#00f 265.5px)"></i>
<i style="height:1px;background:linear-gradient(90deg,#008c73 0.5px,#0058a7 35.5px,#000bf4 96.5px,#00f 121.5px,#00f 265.5px)"></i>
<i style="height:1px;background:linear-gradient(90deg,#008778 0.5px,#0054ab 35.5px,#0008f7 96.5px,#00f 120.5px,#00f 265.5px)"></i>
<i style="height:1px;background:linear-gradient(90deg,#00837c 0.5px,#0051ae 35.5px,#0005fa 96.5px,#00f 207.5px,#00f 265.5px)"></i>
<i style="height:1px;background:linear-gradient(90deg,#007e81 0.5px,#004db2 35.5px,#0001fe 97.5px,#00f 265.5px)"></i>
<i style="height:1px;background:linear-gradient(90deg,#007986 0.5px,#0049b6 35.5px,#00f 95.5px,#00f 265.5px)"></i>
<i style="height:1px;background:linear-gradient(90deg,#00758a 0.5px,#0046b9 35.5px,#00f 93.5px,#00f 265.5px)"></i>
<i style="height:1px;background:linear-gradient(90deg,#00708f 0.5px,#0042bd 35.5px,#00f 90.5px,#00f 265.5px)"></i>
</div>
<div class="cb" style="left:384.3px;top:501.0px;width:12.8px;height:264.8px;background:linear-gradient(180deg,#f00 0,#ff0 184.6px,#0f0 184.6px,#00f 100%)"></div>
<div class="hm" style="left:674px;top:501px;width:265px;height:265px">
<i style="height:1px;background:linear-gradient(90deg,#f00 0.5px,#ff0800 38.5px,#ff8400 264.5px)"></i>
<i style="height:1px;background:linear-gradient(90deg,#f00 0.5px,#ff0800 37.5px,#ff8500 264.5px)"></i>
<i style="height:1px;background:linear-gradient(90deg,#f00 0.5px,#ff0a00 37.5px,#ff8700 264.5px)"></i>
<i style="height:1px;background:linear-gradient(90deg,#f00 0.5px,#ff0b00 37.5px,#f80 264.5px)"></i>
<i style="height:1px;background:linear-gradient(90deg,#f00 0.5px,#ff0d00 38.5px,#ff8900 264.5px)"></i>
<i style="height:1px;background:linear-gradient(90deg,#f00 0.5px,#f10 44.5px,#ff8b00 264.5px)"></i>
<i style="height:1px;background:linear-gradient(90deg,#f00 0.5px,#ff2300 75.5px,#ff8c00 264.5px)"></i>
<i style="height:1px;background:linear-gradient(90deg,#f00 0.5px,#ff8d00 264.5px)"></i>
<i style="height:1px;background:linear-gradient(90deg,#f00 0.5px,#ff8f00 264.5px)"></i>
<i style="height:1px;background:linear-gradient(90deg,#f00 0.5px,#ff9000 264.5px)"></i>
<i style="height:1px;background:linear-gradient(90deg,#f00 0.5px,#ff9100 264.5px)"></i>
<i style="height:1px;background:linear-gradient(90deg,#f00 0.5px,#ff9300 264.5px)"></i>
<i style="height:1px;background:linear-gradient(90deg,#ff0200 0.5px,#ff9400 264.5px)"></i>
<i style="height:1px;background:linear-gradient(90deg,#ff0300 0.5px,#ff9500 264.5px)"></i>
<i style="height:1px;background:linear-gradient(90deg,#ff0400 0.5px,#ff9700 264.5px)"></i>
<i style="height:1px;background:linear-gradient(90deg,#ff0500 0.5px,#ff9800 264.5px)"></i>
<i style="height:1px;background:linear-gradient(90deg,#ff0700 0.5px,#f90 264.5px)"></i>
<i style="height:1px;background:linear-gradient(90deg,#ff0800 0.5px,#ff9b00 264.5px)"></i>
<i style="height:1px;background:linear-gradient(90deg,#ff0900 0.5px,#ff9c00 264.5px)"></i>
<i style="height:1px;background:linear-gradient(90deg,#ff0a00 0.5px,#ff9e00 264.5px)"></i>
<i style="height:1px;background:linear-gradient(90deg,#ff0c00 0.5px,#ff9f00 264.5px)"></i>
<i style="height:1px;background:linear-gradient(90deg,#ff0d00 0.5px,#ffa000 264.5px)"></i>
<i style="height:1px;background:linear-gradient(90deg,#ff0e00 0.5px,#ffa200 264.5px)"></i>
<i style="height:1px;background:linear-gradient(90deg,#ff0f00 0.5px,#ffa300 264.5px)"></i>
<i style="height:1px;background:linear-gradient(90deg,#f10 0.5px,#ffa400 264.5px)"></i>
<i style="height:1px;background:linear-gradient(90deg,#ff1200 0.5px,#ffa600 264.5px)"></i>
<i style="height:1px;background:linear-gradient(90deg,#ff1300 0.5px,#ffa700 264.5px)"></i>
<i style="height:1px;background:linear-gradient(90deg,#ff1400 0.5px,#ffa900 264.5px)"></i>
<i style="height:1px;background:linear-gradient(90deg,#ff1600 0.5px,#fa0 264.5px)"></i>
<i style="height:1px;background:linear-gradient(90deg,#ff1700 0.5px,#ffab00 264.5px)"></i>
<i style="height:1px;background:linear-gradient(90deg,#ff1800 0.5px,#ffad00 264.5px)"></i>
<i style="height:1px;background:linear-gradient(90deg,#ff1900 0.5px,#ffae00 264.5px)"></i>
<i style="height:1px;background:linear-gradient(90deg,#ff1b00 0.5px,#ffb000 264.5px)"></i>
<i style="height:1px;background:linear-gradient(90deg,#ff1c00 0.5px,#ffb100 264.5px)"></i>
<i style="height:1px;background:linear-gradient(90deg,#ff1d00 0.5px,#ffb300 264.5px)"></i>
<i style="height:1px;background:linear-gradient(90deg,#ff1e00 0.5px,#ffb400 264.5px)"></i>
<i style="height:1px;background:linear-gradient(90deg,#ff2000 0.5px,#ffb500 264.5px)"></i>
<i style="height:1px;background:linear-gradient(90deg,#ff2100 0.5px,#ffb700 264.5px)"></i>
<i style="height:1px;background:linear-gradient(90deg,#f20 0.5px,#ffb800 264.5px)"></i>
<i style="height:1px;background:linear-gradient(90deg,#ff2400 0.5px,#ffba00 264.5px)"></i>
<i style="height:1px;background:linear-gradient(90deg,#ff2500 0.5px,#fb0 264.5px)"></i>
<i style="height:1px;background:linear-gradient(90deg,#ff2600 0.5px,#ffbd00 264.5px)"></i>
<i style="height:1px;background:linear-gradient(90deg,#ff2700 0.5px,#ffbe00 264.5px)"></i>
<i style="height:1px;background:linear-gradient(90deg,#ff2900 0.5px,#ffc000 264.5px)"></i>
<i style="height:1px;background:linear-gradient(90deg,#ff2a00 0.5px,#ffc100 264.5px)"></i>
<i style="height:1px;background:linear-gradient(90deg,#ff2b00 0.5px,#ffc300 264.5px)"></i>
<i style="height:1px;background:linear-gradient(90deg,#ff2c00 0.5px,#ffc400 264.5px)"></i>
<i style="height:1px;background:linear-gradient(90deg,#ff2e00 0.5px,#ffc600 264.5px)"></i>
<i style="height:1px;background:linear-gradient(90deg,#ff2f00 0.5px,#ffc700 264.5px)"></i>
<i style="height:1px;background:linear-gradient(90deg,#ff3000 0.5px,#ffc900 264.5px)"></i>
<i style="height:1px;background:linear-gradient(90deg,#ff3200 0.5px,#ffca00 264.5px)"></i>
<i style="height:1px;background:linear-gradient(90deg,#f30 0.5px,#fc0 264.5px)"></i>
<i style="height:1px;background:linear-gradient(90deg,#ff3400 0.5px,#ffcd00 264.5px)"></i>
<i style="height:1px;background:linear-gradient(90deg,#ff3500 0.5px,#ffcf00 264.5px)"></i>
<i style="height:1px;background:linear-gradient(90deg,#ff3700 0.5px,#ffd000 264.5px)"></i>
<i style="height:1px;background:linear-gradient(90deg,#ff3800 0.5px,#ffd200 264.5px)"></i>
<i style="height:1px;background:linear-gradient(90deg,#ff3900 0.5px,#ffd400 264.5px)"></i>
<i style="height:1px;background:linear-gradient(90deg,#ff3b00 0.5px,#ffd500 264.5px)"></i>
<i style="height:1px;background:linear-gradient(90deg,#ff3c00 0.5px,#ffd700 264.5px)"></i>
<i style="height:1px;background:linear-gradient(90deg,#ff3d00 0.5px,#ffd800 264.5px)"></i>
<i style="height:1px;background:linear-gradient(90deg,#ff3f00 0.5px,#ffda00 264.5px)"></i>
<i style="height:1px;background:linear-gradient(90deg,#ff4000 0.5px,#ffdc00 264.5px)"></i>
<i style="height:1px;background:linear-gradient(90deg,#ff4100 0.5px,#fd0 264.5px)"></i>
<i style="height:1px;background:linear-gradient(90deg,#ff4300 0.5px,#ffdf00 264.5px)"></i>
<i style="height:1px;background:linear-gradient(90deg,#f40 0.5px,#ffe100 264.5px)"></i>
<i style="height:1px;background:linear-gradient(90deg,#ff4500 0.5px,#ffe200 264.5px)"></i>
<i style="height:1px;background:linear-gradient(90deg,#ff4600 0.5px,#ffe400 264.5px)"></i>
<i style="height:1px;background:linear-gradient(90deg,#ff4800 0.5px,#ffe600 264.5px)"></i>
<i style="height:1px;background:linear-gradient(90deg,#ff4900 0.5px,#ffe800 264.5px)"></i>
<i style="height:1px;background:linear-gradient(90deg,#ff4a00 0.5px,#ffe900 264.5px)"></i>
<i style="height:1px;background:linear-gradient(90deg,#ff4c00 0.5px,#ffeb00 264.5px)"></i>
<i style="height:1px;background:linear-gradient(90deg,#ff4d00 0.5px,#ffed00 264.5px)"></i>
<i style="height:1px;background:linear-gradient(90deg,#ff4e00 0.5px,#ffef00 264.5px)"></i>
<i style="height:1px;background:linear-gradient(90deg,#ff5000 0.5px,#fff100 264.5px)"></i>
<i style="height:1px;background:linear-gradient(90deg,#ff5100 0.5px,#fff300 264.5px)"></i>
<i style="height:1px;background:linear-gradient(90deg,#ff5200 0.5px,#fff300 262.5px,#fff500 264.5px)"></i>
<i style="height:1px;background:linear-gradient(90deg,#ff5400 0.5px,#fff300 260.5px,#fff700 264.5px)"></i>
<i style="height:1px;background:linear-gradient(90deg,#f50 0.5px,#fff400 258.5px,#fff900 264.5px)"></i>
<i style="height:1px;background:linear-gradient(90deg,#ff5600 0.5px,#fff300 255.5px,#fffb00 264.5px)"></i>
<i style="height:1px;background:linear-gradient(90deg,#ff5800 0.5px,#fff400 253.5px,#fffe00 264.5px)"></i>
<i style="height:1px;background:linear-gradient(90deg,#ff5900 0.5px,#fff400 251.5px,#ff0 262.5px,#0f0 263.5px,#0f0 264.5px)"></i>
<i style="height:1px;background:linear-gradient(90deg,#ff5a00 0.5px,#fff500 249.5px,#fffe00 259.5px,#0f0 260.5px,#0f0 264.5px)"></i>
<i style="height:1px;background:linear-gradient(90deg,#ff5c00 0.5px,#fff500 247.5px,#ff0 257.5px,#0f0 258.5px,#00fe01 264.5px)"></i>
<i style="height:1px;background:linear-gradient(90deg,#ff5d00 0.5px,#fff500 244.5px,#fffe00 254.5px,#0f0 255.5px,#00fe01 264.5px)"></i>
<i style="height:1px;background:linear-gradient(90deg,#ff5e00 0.5px,#fff500 242.5px,#fffe00 252.5px,#0f0 253.5px,#00fd02 264.5px)"></i>
<i style="height:1px;background:linear-gradient(90deg,#ff6000 0.5px,#fff500 240.5px,#fffe00 249.5px,#0f0 250.5px,#00fd02 264.5px)"></i>
<i style="height:1px;background:linear-gradient(90deg,#ff6100 0.5px,#fff600 238.5px,#fffe00 247.5px,#0f0 248.5px,#00fc03 264.5px)"></i>
<i style="height:1px;background:linear-gradient(90deg,#ff6200 0.5px,#fff500 235.5px,#fffe00 244.5px,#0f0 245.5px,#00fc03 264.5px)"></i>
<i style="height:1px;background:linear-gradient(90deg,#ff6400 0.5px,#fff600 233.5px,#fffe00 242.5px,#0f0 243.5px,#00fb04 264.5px)"></i>
<i style="height:1px;background:linear-gradient(90deg,#ff6500 0.5px,#fff600 231.5px,#fffe00 239.5px,#0f0 240.5px,#00fa05 264.5px)"></i>
<i style="height:1px;background:linear-gradient(90deg,#f60 0.5px,#fff700 229.5px,#fffe00 237.5px,#0f0 238.5px,#00fa05 264.5px)"></i>
<i style="height:1px;background:linear-gradient(90deg,#ff6800 0.5px,#fff600 226.5px,#fffe00 234.5px,#0f0 235.5px,#00f906 264.5px)"></i>
<i style="height:1px;background:linear-gradient(90deg,#ff6900 0.5px,#fff700 224.5px,#fffe00 232.5px,#0f0 233.5px,#00f807 264.5px)"></i>
<i style="height:1px;background:linear-gradient(90deg,#ff6b00 0.5px,#fff700 222.5px,#fffe00 229.5px,#0f0 230.5px,#00f708 264.5px)"></i>
<i style="height:1px;background:linear-gradient(90deg,#ff6c00 0.5px,#fff700 220.5px,#fffe00 227.5px,#0f0 228.5px,#00f708 264.5px)"></i>
<i style="height:1px;background:linear-gradient(90deg,#ff6d00 0.5px,#fff700 217.5px,#fffe00 224.5px,#0f0 225.5px,#00f609 264.5px)"></i>
<i style="height:1px;background:linear-gradient(90deg,#ff6f00 0.5px,#fff700 215.5px,#fffe00 222.5px,#0f0 223.5px,#00f50a 264.5px)"></i>
<i style="height:1px;background:linear-gradient(90deg,#ff7000 0.5px,#fff800 213.5px,#fffe00 219.5px,#0f0 220.5px,#00f40b 264.5px)"></i>
<i style="height:1px;background:linear-gradient(90deg,#ff7100 0.5px,#fff800 211.5px,#fffe00 217.5px,#0f0 218.5px,#00f30c 264.5px)"></i>
<i style="height:1px;background:linear-gradient(90deg,#ff7300 0.5px,#fff900 209.5px,#fffe00 214.5px,#0f0 215.5px,#00f20d 264.5px)"></i>
<i style="height:1px;background:linear-gradient(90deg,#ff7400 0.5px,#fff800 206.5px,#fffe00 212.5px,#0f0 213.5px,#00f10e 264.5px)"></i>
<i style="height:1px;background:linear-gradient(90deg,#ff7600 0.5px,#fff900 204.5px,#ff0 210.5px,#0f0 211.5px,#00f10e 264.5px)"></i>
<i style="height:1px;background:linear-gradient(90deg,#f70 0.5px,#fff900 202.5px,#fffe00 207.5px,#0f0 208.5px,#00f00f 264.5px)"></i>
<i style="height:1px;background:linear-gradient(90deg,#ff7800 0.5px,#fff900 200.5px,#ff0 205.5px,#0f0 206.5px,#00ef10 264.5px)"></i>
<i style="height:1px;background:linear-gradient(90deg,#ff7a00 0.5px,#fff900 197.5px,#fffe00 202.5px,#0f0 203.5px,#0e1 264.5px)"></i>
<i style="height:1px;background:linear-gradient(90deg,#ff7b00 0.5px,#fff900 195.5px,#ff0 200.5px,#0f0 201.5px,#00ed12 264.5px)"></i>
<i style="height:1px;background:linear-gradient(90deg,#ff7d00 0.5px,#fffa00 193.5px,#fffe00 197.5px,#0f0 198.5px,#00ec13 264.5px)"></i>
<i style="height:1px;background:linear-gradient(90deg,#ff7e00 0.5px,#fffa00 191.5px,#ff0 195.5px,#0f0 196.5px,#00eb14 264.5px)"></i>
<i style="height:1px;background:linear-gradient(90deg,#ff7f00 0.5px,#fffa00 188.5px,#fffe00 192.5px,#0f0 193.5px,#00ea15 264.5px)"></i>
<i style="height:1px;background:linear-gradient(90deg,#ff8100 0.5px,#fffa00 186.5px,#ff0 190.5px,#0f0 191.5px,#00e916 264.5px)"></i>
<i style="height:1px;background:linear-gradient(90deg,#ff8200 0.5px,#fffb00 184.5px,#fffe00 187.5px,#0f0 188.5px,#00e817 264.5px)"></i>
<i style="height:1px;background:linear-gradient(90deg,#ff8400 0.5px,#fffa00 181.5px,#ff0 185.5px,#0f0 186.5px,#00e718 264.5px)"></i>
<i style="height:1px;background:linear-gradient(90deg,#ff8500 0.5px,#fffb00 179.5px,#fffe00 182.5px,#0f0 183.5px,#00e51a 264.5px)"></i>
<i style="height:1px;background:linear-gradient(90deg,#ff8600 0.5px,#fffb00 177.5px,#ff0 180.5px,#0f0 181.5px,#00e41b 264.5px)"></i>
<i style="height:1px;background:linear-gradient(90deg,#f80 0.5px,#fffc00 175.5px,#fffe00 177.5px,#0f0 178.5px,#00e31c 264.5px)"></i>
<i style="height:1px;background:linear-gradient(90deg,#ff8900 0.5px,#fffb00 172.5px,#ff0 175.5px,#0f0 176.5px,#00e21d 264.5px)"></i>
<i style="height:1px;background:linear-gradient(90deg,#ff8b00 0.5px,#fffc00 170.5px,#fffe00 172.5px,#0f0 173.5px,#00e11e 264.5px)"></i>
<i style="height:1px;background:linear-gradient(90deg,#ff8c00 0.5px,#fffc00 168.5px,#ff0 170.5px,#0f0 171.5px,#00e01f 264.5px)"></i>
<i style="height:1px;background:linear-gradient(90deg,#ff8d00 0.5px,#fffd00 166.5px,#fffe00 167.5px,#0f0 168.5px,#00df20 264.5px)"></i>
<i style="height:1px;background:linear-gradient(90deg,#ff8f00 0.5px,#fffc00 163.5px,#ff0 165.5px,#0f0 166.5px,#00de21 264.5px)"></i>
<i style="height:1px;background:linear-gradient(90deg,#ff9000 0.5px,#fffd00 161.5px,#fffe00 162.5px,#0f0 163.5px,#00dc23 264.5px)"></i>
<i style="height:1px;background:linear-gradient(90deg,#ff9200 0.5px,#fffd00 159.5px,#ff0 160.5px,#0f0 161.5px,#00db24 264.5px)"></i>
<i style="height:1px;background:linear-gradient(90deg,#ff9300 0.5px,#fffd00 156.5px,#fffe00 157.5px,#0f0 158.5px,#00da25 264.5px)"></i>
<i style="height:1px;background:linear-gradient(90deg,#ff9500 0.5px,#fffd00 154.5px,#ff0 155.5px,#0f0 156.5px,#00d926 264.5px)"></i>
<i style="height:1px;background:linear-gradient(90deg,#ff9600 0.5px,#fffe00 152.5px,#0f0 153.5px,#00d827 264.5px)"></i>
<i style="height:1px;background:linear-gradient(90deg,#ff9800 0.5px,#fffd00 149.5px,#fffe00 150.5px,#0f0 151.5px,#00d728 264.5px)"></i>
<i style="height:1px;background:linear-gradient(90deg,#f90 0.5px,#fffe00 147.5px,#0f0 148.5px,#00d52a 264.5px)"></i>
<i style="height:1px;background:linear-gradient(90deg,#ff9a00 0.5px,#fffe00 145.5px,#0f0 146.5px,#00d42b 264.5px)"></i>
<i style="height:1px;background:linear-gradient(90deg,#ff9c00 0.5px,#fffe00 142.5px,#0f0 143.5px,#00d32c 264.5px)"></i>
<i style="height:1px;background:linear-gradient(90deg,#ff9d00 0.5px,#fffe00 140.5px,#0f0 141.5px,#00d22d 264.5px)"></i>
<i style="height:1px;background:linear-gradient(90deg,#ff9f00 0.5px,#fffe00 137.5px,#0f0 138.5px,#00d02f 264.5px)"></i>
<i style="height:1px;background:linear-gradient(90deg,#ffa000 0.5px,#fffe00 135.5px,#0f0 136.5px,#00cf30 264.5px)"></i>
<i style="height:1px;background:linear-gradient(90deg,#ffa200 0.5px,#fffe00 132.5px,#0f0 133.5px,#00ce31 264.5px)"></i>
<i style="height:1px;background:linear-gradient(90deg,#ffa300 0.5px,#fffe00 130.5px,#0f0 131.5px,#0c3 264.5px)"></i>
<i style="height:1px;background:linear-gradient(90deg,#ffa500 0.5px,#fffe00 127.5px,#0f0 128.5px,#00cb34 264.5px)"></i>
<i style="height:1px;background:linear-gradient(90deg,#ffa600 0.5px,#fffe00 125.5px,#0f0 126.5px,#00ca35 264.5px)"></i>
<i style="height:1px;background:linear-gradient(90deg,#ffa800 0.5px,#fffe00 122.5px,#0f0 123.5px,#00c837 264.5px)"></i>
<i style="height:1px;background:linear-gradient(90deg,#ffa900 0.5px,#fffe00 120.5px,#0f0 121.5px,#00c738 264.5px)"></i>
<i style="height:1px;background:linear-gradient(90deg,#ffab00 0.5px,#fffe00 117.5px,#0f0 118.5px,#00c639 264.5px)"></i>
<i style="height:1px;background:linear-gradient(90deg,#ffac00 0.5px,#fffe00 115.5px,#0f0 116.5px,#00c43b 264.5px)"></i>
<i style="height:1px;background:linear-gradient(90deg,#ffae00 0.5px,#fffe00 112.5px,#0f0 113.5px,#00c33c 264.5px)"></i>
<i style="height:1px;background:linear-gradient(90deg,#ffaf00 0.5px,#fffe00 110.5px,#0f0 111.5px,#00c23d 264.5px)"></i>
<i style="height:1px;background:linear-gradient(90deg,#ffb100 0.5px,#ff0 108.5px,#0f0 109.5px,#00c03f 264.5px)"></i>
<i style="height:1px;background:linear-gradient(90deg,#ffb200 0.5px,#fffe00 105.5px,#0f0 106.5px,#00bf40 264.5px)"></i>
<i style="height:1px;background:linear-gradient(90deg,#ffb400 0.5px,#ff0 103.5px,#0f0 104.5px,#00be41 264.5px)"></i>
<i style="height:1px;background:linear-gradient(90deg,#ffb600 0.5px,#fffe00 100.5px,#0f0 101.5px,#00bc43 264.5px)"></i>
<i style="height:1px;background:linear-gradient(90deg,#ffb700 0.5px,#ff0 98.5px,#0f0 99.5px,#0b4 264.5px)"></i>
<i style="height:1px;background:linear-gradient(90deg,#ffb900 0.5px,#fffe00 95.5px,#0f0 96.5px,#00b946 264.5px)"></i>
<i style="height:1px;background:linear-gradient(90deg,#ffba00 0.5px,#ff0 93.5px,#0f0 94.5px,#00b847 264.5px)"></i>
<i style="height:1px;background:linear-gradient(90deg,#ffbc00 0.5px,#fffe00 90.5px,#0f0 91.5px,#00b748 264.5px)"></i>
<i style="height:1px;background:linear-gradient(90deg,#ffbd00 0.5px,#ff0 88.5px,#0f0 89.5px,#00b54a 264.5px)"></i>
<i style="height:1px;background:linear-gradient(90deg,#ffbf00 0.5px,#fffe00 85.5px,#0f0 86.5px,#00b44b 264.5px)"></i>
<i style="height:1px;background:linear-gradient(90deg,#ffc000 0.5px,#ff0 83.5px,#0f0 84.5px,#00b24d 264.5px)"></i>
<i style="height:1px;background:linear-gradient(90deg,#ffc200 0.5px,#fffe00 80.5px,#0f0 81.5px,#00b14e 264.5px)"></i>
<i style="height:1px;background:linear-gradient(90deg,#ffc400 0.5px,#ff0 78.5px,#0f0 79.5px,#00af50 264.5px)"></i>
<i style="height:1px;background:linear-gradient(90deg,#ffc500 0.5px,#fffe00 75.5px,#0f0 76.5px,#00ae51 264.5px)"></i>
<i style="height:1px;background:linear-gradient(90deg,#ffc700 0.5px,#ff0 73.5px,#0f0 74.5px,#00ac53 264.5px)"></i>
<i style="height:1px;background:linear-gradient(90deg,#ffc900 0.5px,#fffe00 70.5px,#0f0 71.5px,#00ab54 264.5px)"></i>
<i style="height:1px;background:linear-gradient(90deg,#ffca00 0.5px,#ff0 68.5px,#0f0 69.5px,#00a956 264.5px)"></i>
<i style="height:1px;background:linear-gradient(90deg,#fc0 0.5px,#fffe00 65.5px,#0f0 66.5px,#00a857 264.5px)"></i>
<i style="height:1px;background:linear-gradient(90deg,#ffcd00 0.5px,#ff0 63.5px,#0f0 64.5px,#00a659 264.5px)"></i>
<i style="height:1px;background:linear-gradient(90deg,#ffcf00 0.5px,#fffe00 60.5px,#0f0 61.5px,#00a55a 264.5px)"></i>
<i style="height:1px;background:linear-gradient(90deg,#ffd100 0.5px,#ff0 58.5px,#0f0 59.5px,#00a35c 264.5px)"></i>
<i style="height:1px;background:linear-gradient(90deg,#ffd200 0.5px,#fffe00 55.5px,#0f0 56.5px,#00a25d 264.5px)"></i>
<i style="height:1px;background:linear-gradient(90deg,#ffd400 0.5px,#ff0 53.5px,#0f0 54.5px,#00a05f 264.5px)"></i>
<i style="height:1px;background:linear-gradient(90deg,#ffd600 0.5px,#fffe00 50.5px,#0f0 51.5px,#00b24d 219.5px,#009f60 264.5px)"></i>
<i style="height:1px;background:linear-gradient(90deg,#ffd800 0.5px,#fffe00 48.5px,#0f0 49.5px,#009d62 264.5px)"></i>
<i style="height:1px;background:linear-gradient(90deg,#ffd900 0.5px,#fffe00 45.5px,#0f0 46.5px,#0b4 194.5px,#009b64 264.5px)"></i>
<i style="height:1px;background:linear-gradient(90deg,#ffdb00 0.5px,#fffe00 43.5px,#0f0 44.5px,#00b649 200.5px,#009a65 264.5px)"></i>
<i style="height:1px;background:linear-gradient(90deg,#fd0 0.5px,#fffe00 40.5px,#0f0 41.5px,#00be41 181.5px,#009867 264.5px)"></i>
<i style="height:1px;background:linear-gradient(90deg,#ffdf00 0.5px,#fffe00 38.5px,#0f0 39.5px,#00bc43 183.5px,#009768 264.5px)"></i>
<i style="height:1px;background:linear-gradient(90deg,#ffe000 0.5px,#fffe00 35.5px,#0f0 36.5px,#00c13e 169.5px,#00956a 264.5px)"></i>
<i style="height:1px;background:linear-gradient(90deg,#ffe200 0.5px,#fffe00 33.5px,#0f0 34.5px,#00bf40 171.5px,#00946b 264.5px)"></i>
<i style="height:1px;background:linear-gradient(90deg,#ffe400 0.5px,#fffe00 30.5px,#0f0 31.5px,#00c33c 159.5px,#00926d 264.5px)"></i>
<i style="height:1px;background:linear-gradient(90deg,#ffe600 0.5px,#fffe00 28.5px,#0f0 29.5px,#00c13e 160.5px,#00906f 264.5px)"></i>
<i style="height:1px;background:linear-gradient(90deg,#ffe800 0.5px,#fffe00 25.5px,#0f0 26.5px,#00c53a 150.5px,#008f70 264.5px)"></i>
<i style="height:1px;background:linear-gradient(90deg,#ffea00 0.5px,#fffe00 23.5px,#0f0 24.5px,#00c33c 150.5px,#008d72 264.5px)"></i>
<i style="height:1px;background:linear-gradient(90deg,#ffec00 0.5px,#fffe00 20.5px,#0f0 21.5px,#00c738 141.5px,#008b74 264.5px)"></i>
<i style="height:1px;background:linear-gradient(90deg,#fe0 0.5px,#fffe00 18.5px,#0f0 19.5px,#00c53a 141.5px,#008a75 264.5px)"></i>
<i style="height:1px;background:linear-gradient(90deg,#fff000 0.5px,#fffe00 15.5px,#0f0 16.5px,#00c837 132.5px,#087 264.5px)"></i>
<i style="height:1px;background:linear-gradient(90deg,#fff200 0.5px,#fffe00 13.5px,#0f0 14.5px,#00c639 133.5px,#008778 264.5px)"></i>
<i style="height:1px;background:linear-gradient(90deg,#fff400 0.5px,#fffe00 10.5px,#0f0 11.5px,#00c936 126.5px,#00857a 264.5px)"></i>
<i style="height:1px;background:linear-gradient(90deg,#fff600 0.5px,#fffe00 8.5px,#0f0 9.5px,#00c738 126.5px,#00837c 264.5px)"></i>
<i style="height:1px;background:linear-gradient(90deg,#fff800 0.5px,#ff0 6.5px,#0f0 7.5px,#00c53a 126.5px,#00827d 264.5px)"></i>
<i style="height:1px;background:linear-gradient(90deg,#fffb00 0.5px,#fffe00 3.5px,#0f0 4.5px,#00c738 120.5px,#00807f 264.5px)"></i>
<i style="height:1px;background:linear-gradient(90deg,#fffd00 0.5px,#ff0 1.5px,#0f0 2.5px,#00c639 120.5px,#007e81 264.5px)"></i>
<i style="height:1px;background:linear-gradient(90deg,#0f0 0.5px,#00c43b 119.5px,#007d82 264.5px)"></i>
<i style="height:1px;background:linear-gradient(90deg,#00fe01 0.5px,#00bc43 131.5px,#007b84 264.5px)"></i>
<i style="height:1px;background:linear-gradient(90deg,#00fe01 0.5px,#00ac53 155.5px,#007986 264.5px)"></i>
<i style="height:1px;background:linear-gradient(90deg,#00fd02 0.5px,#078 264.5px)"></i>
<i style="height:1px;background:linear-gradient(90deg,#00fc03 0.5px,#078 261.5px,#007689 264.5px)"></i>
<i style="height:1px;background:linear-gradient(90deg,#00fc03 0.5px,#007689 258.5px,#00748b 264.5px)"></i>
<i style="height:1px;background:linear-gradient(90deg,#00fb04 0.5px,#007689 255.5px,#00728d 264.5px)"></i>
<i style="height:1px;background:linear-gradient(90deg,#00fa05 0.5px,#00758a 252.5px,#00718e 264.5px)"></i>
<i style="height:1px;background:linear-gradient(90deg,#00f906 0.5px,#00748b 249.5px,#006f90 264.5px)"></i>
<i style="height:1px;background:linear-gradient(90deg,#00f807 0.5px,#00748b 246.5px,#006d92 264.5px)"></i>
<i style="height:1px;background:linear-gradient(90deg,#00f708 0.5px,#00738c 243.5px,#006b94 264.5px)"></i>
<i style="height:1px;background:linear-gradient(90deg,#00f609 0.5px,#00738c 240.5px,#006a95 264.5px)"></i>
<i style="height:1px;background:linear-gradient(90deg,#00f40b 0.5px,#00728d 237.5px,#006897 264.5px)"></i>
<i style="height:1px;background:linear-gradient(90deg,#00f30c 0.5px,#00718e 235.5px,#069 264.5px)"></i>
<i style="height:1px;background:linear-gradient(90deg,#00f20d 0.5px,#00718e 232.5px,#00649b 264.5px)"></i>
<i style="height:1px;background:linear-gradient(90deg,#00f10e 0.5px,#00708f 229.5px,#00639c 264.5px)"></i>
<i style="height:1px;background:linear-gradient(90deg,#00f00f 0.5px,#006f90 226.5px,#00619e 264.5px)"></i>
<i style="height:1px;background:linear-gradient(90deg,#0e1 0.5px,#006e91 224.5px,#005fa0 264.5px)"></i>
<i style="height:1px;background:linear-gradient(90deg,#00ed12 0.5px,#006e91 221.5px,#005da2 264.5px)"></i>
<i style="height:1px;background:linear-gradient(90deg,#00ec13 0.5px,#006d92 219.5px,#005ba4 264.5px)"></i>
<i style="height:1px;background:linear-gradient(90deg,#00ea15 0.5px,#006c93 216.5px,#005aa5 264.5px)"></i>
<i style="height:1px;background:linear-gradient(90deg,#00e916 0.5px,#006c93 213.5px,#0058a7 264.5px)"></i>
<i style="height:1px;background:linear-gradient(90deg,#00e718 0.5px,#006b94 211.5px,#0056a9 264.5px)"></i>
<i style="height:1px;background:linear-gradient(90deg,#00e619 0.5px,#006a95 209.5px,#0054ab 264.5px)"></i>
<i style="height:1px;background:linear-gradient(90deg,#00e41b 0.5px,#006996 206.5px,#0052ad 264.5px)"></i>
<i style="height:1px;background:linear-gradient(90deg,#00e31c 0.5px,#006897 204.5px,#0051ae 264.5px)"></i>
<i style="height:1px;background:linear-gradient(90deg,#00e11e 0.5px,#006798 202.5px,#004fb0 264.5px)"></i>
<i style="height:1px;background:linear-gradient(90deg,#00e01f 0.5px,#069 200.5px,#004db2 264.5px)"></i>
<i style="height:1px;background:linear-gradient(90deg,#00de21 0.5px,#00659a 198.5px,#004bb4 264.5px)"></i>
<i style="height:1px;background:linear-gradient(90deg,#0d2 0.5px,#00649b 196.5px,#0049b6 264.5px)"></i>
<i style="height:1px;background:linear-gradient(90deg,#00db24 0.5px,#00639c 195.5px,#0047b8 264.5px)"></i>
<i style="height:1px;background:linear-gradient(90deg,#00d926 0.5px,#00629d 193.5px,#0045ba 264.5px)"></i>
<i style="height:1px;background:linear-gradient(90deg,#00d827 0.5px,#00609f 192.5px,#04b 264.5px)"></i>
<i style="height:1px;background:linear-gradient(90deg,#00d629 0.5px,#005fa0 190.5px,#0042bd 264.5px)"></i>
<i style="height:1px;background:linear-gradient(90deg,#00d42b 0.5px,#005ea1 189.5px,#0040bf 264.5px)"></i>
<i style="height:1px;background:linear-gradient(90deg,#00d32c 0.5px,#005da2 187.5px,#003ec1 264.5px)"></i>
<i style="height:1px;background:linear-gradient(90deg,#00d12e 0.5px,#005ba4 186.5px,#003cc3 264.5px)"></i>
<i style="height:1px;background:linear-gradient(90deg,#00cf30 0.5px,#005aa5 185.5px,#003ac5 264.5px)"></i>
<i style="height:1px;background:linear-gradient(90deg,#00cd32 0.5px,#0058a7 184.5px,#0038c7 264.5px)"></i>
<i style="height:1px;background:linear-gradient(90deg,#0c3 0.5px,#0056a9 183.5px,#0036c9 264.5px)"></i>
<i style="height:1px;background:linear-gradient(90deg,#00ca35 0.5px,#05a 182.5px,#0035ca 264.5px)"></i>
<i style="height:1px;background:linear-gradient(90deg,#00c837 0.5px,#0053ac 181.5px,#03c 264.5px)"></i>
<i style="height:1px;background:linear-gradient(90deg,#00c639 0.5px,#0052ad 180.5px,#0031ce 264.5px)"></i>
<i style="height:1px;background:linear-gradient(90deg,#00c43b 0.5px,#0050af 179.5px,#002fd0 264.5px)"></i>
<i style="height:1px;background:linear-gradient(90deg,#00c23d 0.5px,#004eb1 178.5px,#002dd2 264.5px)"></i>
<i style="height:1px;background:linear-gradient(90deg,#00c13e 0.5px,#004db2 177.5px,#002bd4 264.5px)"></i>
<i style="height:1px;background:linear-gradient(90deg,#00bf40 0.5px,#004bb4 176.5px,#0029d6 264.5px)"></i>
<i style="height:1px;background:linear-gradient(90deg,#00bd42 0.5px,#004ab5 175.5px,#0027d8 264.5px)"></i>
<i style="height:1px;background:linear-gradient(90deg,#0b4 0.5px,#0048b7 174.5px,#0025da 264.5px)"></i>
<i style="height:1px;background:linear-gradient(90deg,#00b946 0.5px,#0046b9 174.5px,#0023dc 264.5px)"></i>
<i style="height:1px;background:linear-gradient(90deg,#00b748 0.5px,#04b 173.5px,#0021de 264.5px)"></i>
<i style="height:1px;background:linear-gradient(90deg,#00b54a 0.5px,#0043bc 172.5px,#001fe0 264.5px)"></i>
<i style="height:1px;background:linear-gradient(90deg,#00b34c 0.5px,#0041be 171.5px,#001de2 264.5px)"></i>
<i style="height:1px;background:linear-gradient(90deg,#00b14e 0.5px,#003fc0 171.5px,#001be4 264.5px)"></i>
<i style="height:1px;background:linear-gradient(90deg,#00af50 0.5px,#003dc2 170.5px,#0019e6 264.5px)"></i>
<i style="height:1px;background:linear-gradient(90deg,#00ad52 0.5px,#003bc4 169.5px,#0017e8 264.5px)"></i>
<i style="height:1px;background:linear-gradient(90deg,#00ab54 0.5px,#003ac5 168.5px,#0015ea 264.5px)"></i>
<i style="height:1px;background:linear-gradient(90deg,#00a956 0.5px,#0038c7 168.5px,#0013ec 264.5px)"></i>
<i style="height:1px;background:linear-gradient(90deg,#00a758 0.5px,#0036c9 167.5px,#01e 264.5px)"></i>
<i style="height:1px;background:linear-gradient(90deg,#00a55a 0.5px,#0034cb 166.5px,#0010ef 264.5px)"></i>
<i style="height:1px;background:linear-gradient(90deg,#00a35c 0.5px,#0032cd 166.5px,#000ef1 264.5px)"></i>
<i style="height:1px;background:linear-gradient(90deg,#00a05f 0.5px,#0030cf 165.5px,#000cf3 264.5px)"></i>
<i style="height:1px;background:linear-gradient(90deg,#009e61 0.5px,#002ed1 165.5px,#0009f6 264.5px)"></i>
<i style="height:1px;background:linear-gradient(90deg,#009c63 0.5px,#002cd3 164.5px,#0007f8 264.5px)"></i>
<i style="height:1px;background:linear-gradient(90deg,#009a65 0.5px,#002ad5 163.5px,#0005fa 264.5px)"></i>
<i style="height:1px;background:linear-gradient(90deg,#009867 0.5px,#0028d7 163.5px,#0003fc 264.5px)"></i>
<i style="height:1px;background:linear-gradient(90deg,#009669 0.5px,#0026d9 162.5px,#0001fe 264.5px)"></i>
<i style="height:1px;background:linear-gradient(90deg,#00936c 0.5px,#0024db 162.5px,#00f 264.5px)"></i>
<i style="height:1px;background:linear-gradient(90deg,#00916e 0.5px,#02d 161.5px,#00f 262.5px,#00f 264.5px)"></i>
<i style="height:1px;background:linear-gradient(90deg,#008f70 0.5px,#0021de 160.5px,#00f 256.5px,#00f 264.5px)"></i>
<i style="height:1px;background:linear-gradient(90deg,#008d72 0.5px,#001ee1 160.5px,#00f 250.5px,#00f 264.5px)"></i>
<i style="height:1px;background:linear-gradient(90deg,#008b74 0.5px,#001ce3 159.5px,#00f 243.5px,#00f 264.5px)"></i>
<i style="height:1px;background:linear-gradient(90deg,#087 0.5px,#001ae5 159.5px,#00f 237.5px,#00f 264.5px)"></i>
<i style="height:1px;background:linear-gradient(90deg,#008679 0.5px,#0018e7 158.5px,#00f 230.5px,#00f 264.5px)"></i>
<i style="height:1px;background:linear-gradient(90deg,#00847b 0.5px,#0016e9 158.5px,#00f 224.5px,#00f 264.5px)"></i>
<i style="height:1px;background:linear-gradient(90deg,#00817e 0.5px,#0014eb 157.5px,#00f 218.5px,#00f 264.5px)"></i>
<i style="height:1px;background:linear-gradient(90deg,#007f80 0.5px,#0012ed 157.5px,#00f 213.5px,#00f 264.5px)"></i>
<i style="height:1px;background:linear-gradient(90deg,#007d82 0.5px,#0010ef 156.5px,#00f 208.5px,#00f 264.5px)"></i>
<i style="height:1px;background:linear-gradient(90deg,#007b84 0.5px,#000ef1 156.5px,#00f 203.5px,#00f 264.5px)"></i>
</div>
<div class="cb" style="left:946.5px;top:501.0px;width:12.6px;height:265.0px;background:linear-gradient(180deg,#f00 0,#ff0 112.0px,#0f0 112.0px,#00f 100%)"></div>
<svg class="ov" width="1060" height="841" viewBox="0 0 1060 841" fill="none" stroke="#1c1c1c" stroke-width="1.5"><rect x="104.9" y="45.1" width="264.9" height="264.9"/><path d="M237.6 310.0V296.6M237.6 45.1V58.5"/><path d="M104.9 177.9H119.7M369.8 177.9H356.2"/><path d="M104.9 304.3H119.7M369.8 304.3H356.2"/><rect x="376.8" y="45.2" width="13.1" height="264.8"/><path d="M376.8 50.8H389.9"/><path d="M376.8 102.3H389.9"/><path d="M376.8 206.6H389.9"/><rect x="667.2" y="45.1" width="264.2" height="264.8"/><path d="M799.3 309.9V296.5M799.3 45.1V58.5"/><path d="M667.2 177.5H682.0M931.4 177.5H917.8"/><rect x="939.0" y="45.1" width="13.2" height="264.4"/><path d="M939.0 60.0H952.2"/><path d="M939.0 134.0H952.2"/><path d="M939.0 208.3H952.2"/><path d="M939.0 281.2H952.2"/><rect x="112.0" y="501.0" width="265.2" height="264.8"/><path d="M244.8 765.8V752.4M244.8 501.0V514.4"/><path d="M112.0 633.0H126.8M377.2 633.0H363.6"/><path d="M112.0 764.7H126.8M377.2 764.7H363.6"/><rect x="384.3" y="501.0" width="12.8" height="264.8"/><path d="M384.3 538.3H397.1"/><path d="M384.3 612.3H397.1"/><path d="M384.3 685.6H397.1"/><path d="M384.3 758.9H397.1"/><rect x="674.3" y="501.0" width="264.7" height="265.0"/><path d="M806.3 766.0V752.6M806.3 501.0V514.4"/><path d="M674.3 633.5H689.1M939.0 633.5H925.4"/><path d="M674.3 761.9H689.1M939.0 761.9H925.4"/><rect x="946.5" y="501.0" width="12.6" height="265.0"/><path d="M946.5 543.0H959.1"/><path d="M946.5 613.2H959.1"/><path d="M946.5 682.5H959.1"/><path d="M946.5 752.0H959.1"/></svg>
<div class="t" style="left:218.55px;top:-2.30px;font-family:'Liberation Sans';font-size:30px;letter-spacing:1.2px;">(a)</div>
<div class="t" style="left:10.15px;top:30.60px;font-family:'Liberation Sans';font-size:30px;">0.004</div>
<div class="t" style="left:10.95px;top:162.70px;font-family:'Liberation Sans';font-size:30px;">0.002</div>
<div class="t" style="left:69.60px;top:289.40px;font-family:'Liberation Sans';font-size:30px;">0</div>
<div class="t" style="left:96.50px;top:325.20px;font-family:'Liberation Sans';font-size:30px;">0</div>
<div class="t" style="left:228.95px;top:326.25px;font-family:'Liberation Sans';font-size:30px;">1</div>
<div class="t" style="left:361.80px;top:326.00px;font-family:'Liberation Sans';font-size:30px;">2</div>
<div class="t" style="left:184.60px;top:350.80px;font-family:'Liberation Serif';font-size:40px;transform:scaleX(1.11);transform-origin:0 0;">λ</div>
<div class="t" style="left:-0.80px;top:104.15px;font-family:'Liberation Serif';font-size:40.5px;transform:scaleX(1.07);transform-origin:0 0;">β</div>
<div class="t" style="left:403.15px;top:34.90px;font-family:'Liberation Sans';font-size:30px;">0.02</div>
<div class="t" style="left:402.80px;top:86.30px;font-family:'Liberation Sans';font-size:30px;">0</div>
<div class="t" style="left:402.90px;top:190.90px;font-family:'Liberation Sans';font-size:30px;">−0.04</div>
<div class="t" style="left:403.10px;top:295.40px;font-family:'Liberation Sans';font-size:30px;">−0.08</div>
<div class="t" style="left:780.30px;top:-2.10px;font-family:'Liberation Sans';font-size:30px;letter-spacing:1.2px;">(b)</div>
<div class="t" style="left:606.35px;top:30.00px;font-family:'Liberation Sans';font-size:30px;">0.5</div>
<div class="t" style="left:589.95px;top:162.70px;font-family:'Liberation Sans';font-size:30px;">0.25</div>
<div class="t" style="left:631.70px;top:295.10px;font-family:'Liberation Sans';font-size:30px;">0</div>
<div class="t" style="left:658.75px;top:325.45px;font-family:'Liberation Sans';font-size:30px;">0</div>
<div class="t" style="left:770.65px;top:325.40px;font-family:'Liberation Sans';font-size:30px;">0.25</div>
<div class="t" style="left:910.50px;top:325.40px;font-family:'Liberation Sans';font-size:30px;">0.5</div>
<div class="t" style="left:746.85px;top:350.80px;font-family:'Liberation Serif';font-size:40px;transform:scaleX(1.11);transform-origin:0 0;">λ</div>
<div class="t" style="left:560.45px;top:104.80px;font-family:'Liberation Serif';font-size:41.5px;transform:scaleX(1.2);transform-origin:0 0;">α</div>
<div class="t" style="left:965.15px;top:44.50px;font-family:'Liberation Sans';font-size:30px;">0.005</div>
<div class="t" style="left:964.50px;top:118.20px;font-family:'Liberation Sans';font-size:30px;">0</div>
<div class="t" style="left:964.65px;top:191.60px;font-family:'Liberation Sans';font-size:30px;">−0.005</div>
<div class="t" style="left:963.20px;top:265.30px;font-family:'Liberation Sans';font-size:30px;">−0.01</div>
<div class="t" style="left:226.55px;top:454.00px;font-family:'Liberation Sans';font-size:30px;letter-spacing:1.2px;">(c)</div>
<div class="t" style="left:17.95px;top:486.50px;font-family:'Liberation Sans';font-size:30px;">0.016</div>
<div class="t" style="left:17.85px;top:618.30px;font-family:'Liberation Sans';font-size:30px;">0.008</div>
<div class="t" style="left:76.60px;top:750.00px;font-family:'Liberation Sans';font-size:30px;">0</div>
<div class="t" style="left:6.15px;top:559.80px;font-family:'Liberation Serif';font-size:40.5px;transform:scaleX(1.07);transform-origin:0 0;">β</div>
<div class="t" style="left:103.95px;top:781.45px;font-family:'Liberation Sans';font-size:30px;">0</div>
<div class="t" style="left:207.15px;top:781.50px;font-family:'Liberation Sans';font-size:30px;">0.025</div>
<div class="t" style="left:347.70px;top:781.50px;font-family:'Liberation Sans';font-size:30px;">0.05</div>
<div class="t" style="left:190.75px;top:808.00px;font-family:'Liberation Sans';font-size:37px;">a</div>
<div class="t" style="left:410.50px;top:522.50px;font-family:'Liberation Sans';font-size:30px;">0.2</div>
<div class="t" style="left:410.50px;top:595.60px;font-family:'Liberation Sans';font-size:30px;">0.1</div>
<div class="t" style="left:409.80px;top:668.90px;font-family:'Liberation Sans';font-size:30px;">0</div>
<div class="t" style="left:408.65px;top:744.30px;font-family:'Liberation Sans';font-size:30px;">−0.1</div>
<div class="t" style="left:787.40px;top:454.00px;font-family:'Liberation Sans';font-size:30px;letter-spacing:1.2px;">(d)</div>
<div class="t" style="left:580.20px;top:486.40px;font-family:'Liberation Sans';font-size:30px;">0.006</div>
<div class="t" style="left:580.20px;top:618.50px;font-family:'Liberation Sans';font-size:30px;">0.003</div>
<div class="t" style="left:638.70px;top:746.90px;font-family:'Liberation Sans';font-size:30px;">0</div>
<div class="t" style="left:568.05px;top:560.00px;font-family:'Liberation Serif';font-size:40.5px;transform:scaleX(1.07);transform-origin:0 0;">β</div>
<div class="t" style="left:665.35px;top:781.35px;font-family:'Liberation Sans';font-size:30px;">0</div>
<div class="t" style="left:798.20px;top:781.50px;font-family:'Liberation Sans';font-size:30px;">2</div>
<div class="t" style="left:929.90px;top:781.50px;font-family:'Liberation Sans';font-size:30px;">4</div>
<div class="t" style="left:754.80px;top:807.50px;font-family:'Liberation Sans';font-size:37px;">s</div>
<div class="t" style="left:972.25px;top:528.00px;font-family:'Liberation Sans';font-size:30px;">0.05</div>
<div class="t" style="left:971.90px;top:596.80px;font-family:'Liberation Sans';font-size:30px;">0</div>
<div class="t" style="left:972.15px;top:667.30px;font-family:'Liberation Sans';font-size:30px;">−0.05</div>
<div class="t" style="left:970.60px;top:736.90px;font-family:'Liberation Sans';font-size:30px;">−0.1</div>
</body></html>
